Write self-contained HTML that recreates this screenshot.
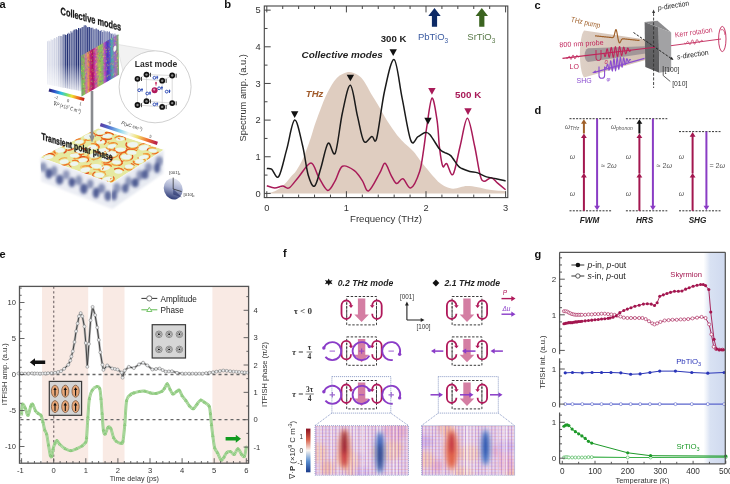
<!DOCTYPE html>
<html><head><meta charset="utf-8"><title>Figure</title>
<style>
html,body{margin:0;padding:0;background:#fff;}
body{width:730px;height:484px;overflow:hidden;}
svg{display:block;}
</style></head>
<body>
<svg width="730" height="484" viewBox="0 0 730 484" style="font-family:'Liberation Sans', Arial, Helvetica, sans-serif">
<rect width="730" height="484" fill="#fff"/>
<path d="M266.8,193.4 C268.13,193.03 272.11,192.42 274.76,191.2 C277.41,189.98 280.07,188.45 282.72,186.07 C285.37,183.69 288.42,179.47 290.68,176.91 C292.94,174.34 294.13,173.91 296.25,170.68 C298.37,167.44 301.03,162.86 303.42,157.48 C305.8,152.11 308.72,143.74 310.58,138.43 C312.44,133.11 312.97,130.3 314.56,125.6 C316.15,120.89 318.01,115.64 320.13,110.2 C322.25,104.77 324.51,98.35 327.3,92.98 C330.08,87.6 333.4,81.43 336.85,77.95 C340.3,74.47 344.81,72.76 347.99,72.09 C351.18,71.42 353.7,72.94 355.95,73.92 C358.21,74.9 359.8,76.12 361.52,77.95 C363.25,79.79 364.44,81.86 366.3,84.92 C368.16,87.97 370.41,92.43 372.67,96.28 C374.92,100.13 377.58,104.16 379.83,108.01 C382.09,111.85 383.94,115.7 386.2,119.37 C388.46,123.03 391.24,127 393.36,130 C395.49,132.99 397.08,135.13 398.94,137.33 C400.79,139.52 402.12,140.87 404.51,143.19 C406.9,145.51 410.74,148.5 413.26,151.25 C415.78,154 417.51,156.93 419.63,159.68 C421.75,162.43 423.74,165 426,167.75 C428.26,170.49 430.91,173.67 433.16,176.17 C435.42,178.68 437.41,181 439.53,182.77 C441.65,184.54 443.64,185.83 445.9,186.8 C448.16,187.78 450.68,188.57 453.06,188.64 C455.45,188.7 457.84,187.6 460.23,187.17 C462.62,186.74 464.47,186.07 467.39,186.07 C470.31,186.07 474.03,186.56 477.74,187.17 C481.45,187.78 485.04,189.06 489.68,189.74 C494.32,190.41 502.95,190.96 505.6,191.2 L505.6,193.4 L266.8,193.4 Z" fill="#dfcdc0"/>
<path d="M266.8,185.7 C268.13,186.07 272.11,187.84 274.76,187.9 C277.41,187.96 280.33,186.07 282.72,186.07 C285.11,186.07 286.43,189.43 289.09,187.9 C291.74,186.38 294.99,181.06 298.64,176.91 C302.29,172.75 307.66,162.98 310.98,162.98 C314.29,162.98 315.75,172.33 318.54,176.91 C321.33,181.49 324.91,189.86 327.69,190.47 C330.48,191.08 332.8,184.6 335.26,180.57 C337.71,176.54 339.24,167.93 342.42,166.28 C345.6,164.63 351.04,168.29 354.36,170.68 C357.68,173.06 359.93,177.21 362.32,180.57 C364.71,183.93 365.77,192.12 368.69,190.83 C371.61,189.55 377.11,177.46 379.83,172.88 C382.55,168.29 383.15,162.98 385.01,163.35 C386.86,163.71 389.05,171.72 390.98,175.08 C392.9,178.43 394.56,182.89 396.55,183.5 C398.54,184.12 400.53,178.01 402.92,178.74 C405.3,179.47 408.09,189.12 410.88,187.9 C413.66,186.68 417.51,177.76 419.63,171.41 C421.75,165.06 422.42,157.24 423.61,149.79 C424.81,142.33 425.4,135.31 426.8,126.7 C428.19,118.08 430.25,99.09 431.97,98.11 C433.69,97.13 435.88,112.53 437.14,120.83 C438.4,129.14 438.6,140.38 439.53,147.95 C440.46,155.53 441.52,163.65 442.72,166.28 C443.91,168.91 444.97,162.37 446.7,163.71 C448.42,165.06 450.81,177.34 453.06,174.34 C455.32,171.35 457.84,155.1 460.23,145.75 C462.62,136.41 465,118.27 467.39,118.27 C469.78,118.27 472.43,136.29 474.56,145.75 C476.68,155.22 478.54,169.15 480.13,175.08 C481.72,181 482.25,180.88 484.11,181.31 C485.97,181.73 489.02,177.34 491.27,177.64 C493.53,177.95 495.25,181.12 497.64,183.14 C500.03,185.15 504.27,188.64 505.6,189.74" fill="none" stroke="#a81a58" stroke-width="1.5" stroke-linejoin="round"/>
<path d="M266.8,168.48 C267.6,168.6 269.59,167.87 271.58,169.21 C273.57,170.55 276.22,179.84 278.74,176.54 C281.26,173.24 284.05,158.83 286.7,149.42 C289.35,140.01 292.01,120.71 294.66,120.1 C297.31,119.49 300.36,136.59 302.62,145.75 C304.88,154.92 306.2,168.36 308.19,175.08 C310.18,181.79 312.44,187.29 314.56,186.07 C316.68,184.85 318.67,174.89 320.93,167.75 C323.18,160.6 325.7,145.63 328.09,143.19 C330.48,140.75 332.87,158.15 335.26,153.09 C337.64,148.02 339.9,124.07 342.42,112.77 C344.94,101.47 347.86,84.67 350.38,85.28 C352.9,85.89 355.29,107.09 357.54,116.44 C359.8,125.78 361.52,138 363.91,141.36 C366.3,144.72 369.75,137.08 371.87,136.59 C373.99,136.1 374.53,146.06 376.65,138.43 C378.77,130.79 381.69,103.91 384.61,90.78 C387.53,77.65 391.24,58.41 394.16,59.63 C397.08,60.85 399.33,84.61 402.12,98.11 C404.91,111.61 408.22,134.21 410.88,140.62 C413.53,147.04 415.65,137.94 418.04,136.59 C420.43,135.25 423.21,132.87 425.2,132.56 C427.19,132.26 427.59,132.01 429.98,134.76 C432.37,137.51 437.14,146.12 439.53,149.05 C441.92,151.99 442.45,151.25 444.31,152.35 C446.17,153.45 448.42,153.45 450.68,155.65 C452.93,157.85 455.98,163.41 457.84,165.55 C459.7,167.68 459.83,167.5 461.82,168.48 C463.81,169.46 467.13,170.68 469.78,171.41 C472.43,172.14 474.95,171.96 477.74,172.88 C480.53,173.79 483.44,175.93 486.5,176.91 C489.55,177.88 492.86,178.07 496.05,178.74 C499.23,179.41 504.01,180.57 505.6,180.94" fill="none" stroke="#1a1a1a" stroke-width="1.5" stroke-linejoin="round"/>
<rect x="264.3" y="6" width="243.5" height="191.6" fill="none" stroke="#444" stroke-width="1.1"/>
<path d="M266.8,197.6v-6.4 M266.8,6v6.4 M282.72,197.6v-3 M282.72,6v3 M298.64,197.6v-3 M298.64,6v3 M314.56,197.6v-3 M314.56,6v3 M330.48,197.6v-3 M330.48,6v3 M346.4,197.6v-6.4 M346.4,6v6.4 M362.32,197.6v-3 M362.32,6v3 M378.24,197.6v-3 M378.24,6v3 M394.16,197.6v-3 M394.16,6v3 M410.08,197.6v-3 M410.08,6v3 M426,197.6v-6.4 M426,6v6.4 M441.92,197.6v-3 M441.92,6v3 M457.84,197.6v-3 M457.84,6v3 M473.76,197.6v-3 M473.76,6v3 M489.68,197.6v-3 M489.68,6v3 M505.6,197.6v-6.4 M505.6,6v6.4 M264.3,193.4h6.4 M264.3,175.08h3.2 M264.3,156.75h6.4 M264.3,138.43h3.2 M264.3,120.1h6.4 M264.3,101.78h3.2 M264.3,83.45h6.4 M264.3,65.12h3.2 M264.3,46.8h6.4 M264.3,28.48h3.2 M264.3,10.15h6.4" stroke="#444" stroke-width="1" fill="none"/>
<text x="266.8" y="211.2" font-size="9.3" fill="#333" text-anchor="middle"  style="font-family:'Liberation Sans', Arial, Helvetica, sans-serif">0</text>
<text x="346.4" y="211.2" font-size="9.3" fill="#333" text-anchor="middle"  style="font-family:'Liberation Sans', Arial, Helvetica, sans-serif">1</text>
<text x="426" y="211.2" font-size="9.3" fill="#333" text-anchor="middle"  style="font-family:'Liberation Sans', Arial, Helvetica, sans-serif">2</text>
<text x="505.6" y="211.2" font-size="9.3" fill="#333" text-anchor="middle"  style="font-family:'Liberation Sans', Arial, Helvetica, sans-serif">3</text>
<text x="260.6" y="196.7" font-size="9.3" fill="#333" text-anchor="end"  style="font-family:'Liberation Sans', Arial, Helvetica, sans-serif">0</text>
<text x="260.6" y="160.05" font-size="9.3" fill="#333" text-anchor="end"  style="font-family:'Liberation Sans', Arial, Helvetica, sans-serif">1</text>
<text x="260.6" y="123.4" font-size="9.3" fill="#333" text-anchor="end"  style="font-family:'Liberation Sans', Arial, Helvetica, sans-serif">2</text>
<text x="260.6" y="86.75" font-size="9.3" fill="#333" text-anchor="end"  style="font-family:'Liberation Sans', Arial, Helvetica, sans-serif">3</text>
<text x="260.6" y="50.1" font-size="9.3" fill="#333" text-anchor="end"  style="font-family:'Liberation Sans', Arial, Helvetica, sans-serif">4</text>
<text x="260.6" y="13.45" font-size="9.3" fill="#333" text-anchor="end"  style="font-family:'Liberation Sans', Arial, Helvetica, sans-serif">5</text>
<text x="386" y="222.3" font-size="9.6" fill="#333" text-anchor="middle"  style="font-family:'Liberation Sans', Arial, Helvetica, sans-serif">Frequency (THz)</text>
<g transform="translate(246.0,97.8) rotate(-90)"><text x="0" y="0" font-size="9.3" fill="#333" text-anchor="middle"  style="font-family:'Liberation Sans', Arial, Helvetica, sans-serif">Spectrum amp. (a.u.)</text></g>
<path d="M290.96,111.25 h7.4 l-3.7,6.7 z" fill="#111"/>
<path d="M346.68,74.65 h7.4 l-3.7,6.7 z" fill="#111"/>
<path d="M389.5,49.35 h7.4 l-3.7,6.7 z" fill="#111"/>
<path d="M424.3,117.85 h7.4 l-3.7,6.7 z" fill="#111"/>
<path d="M428.2,88 h7.4 l-3.7,6.7 z" fill="#a81a58"/>
<path d="M464.3,108.2 h7.4 l-3.7,6.7 z" fill="#a81a58"/>
<text x="393.6" y="42.3" font-size="9.6" fill="#222" text-anchor="middle" font-weight="bold"  style="font-family:'Liberation Sans', Arial, Helvetica, sans-serif">300 K</text>
<text x="342.2" y="57.6" font-size="9.9" fill="#222" text-anchor="middle" font-weight="bold" font-style="italic"  style="font-family:'Liberation Sans', Arial, Helvetica, sans-serif">Collective modes</text>
<text x="314.6" y="96.8" font-size="9.6" fill="#a05a2a" text-anchor="middle" font-weight="bold" font-style="italic"  style="font-family:'Liberation Sans', Arial, Helvetica, sans-serif">THz</text>
<text x="468.2" y="97.5" font-size="9.8" fill="#a81a58" text-anchor="middle" font-weight="bold"  style="font-family:'Liberation Sans', Arial, Helvetica, sans-serif">500 K</text>
<text x="418" y="40.4" font-size="9.5" fill="#3a5aa0"  style="font-family:'Liberation Sans', Arial, Helvetica, sans-serif">PbTiO<tspan font-size="6.5" dy="2.2">3</tspan></text>
<text x="467.3" y="40.4" font-size="9.5" fill="#5a7a4a"  style="font-family:'Liberation Sans', Arial, Helvetica, sans-serif">SrTiO<tspan font-size="6.5" dy="2.2">3</tspan></text>
<path d="M434.5,8 l6.2,8 h-3.6 V26.8 h-5.2 V16 h-3.6 z" fill="#0d2a66"/>
<path d="M481.8,8 l6.2,8 h-3.6 V26.8 h-5.2 V16 h-3.6 z" fill="#3b6420"/>
<text x="224.2" y="8.3" font-size="11.2" fill="#111" font-weight="bold"  style="font-family:'Liberation Sans', Arial, Helvetica, sans-serif">b</text>
<text x="-0.5" y="8.4" font-size="11" fill="#111" font-weight="bold"  style="font-family:'Liberation Sans', Arial, Helvetica, sans-serif">a</text>
<path d="M118.4,44.5 L154.5,50.8 L125,79.5 L118.4,52 Z" fill="#f2f2f2"/>
<path d="M118.4,44.5 L154.5,50.8 M118.4,52 L125,79.5" stroke="#d0d0d0" stroke-width="0.5"/>
<circle cx="155.1" cy="86.8" r="36" fill="#fff" stroke="#c4c4c4" stroke-width="0.8"/>
<text x="156" y="66.8" font-size="8.5" fill="#2a2a2a" text-anchor="middle" font-weight="bold"  style="font-family:'Liberation Sans', Arial, Helvetica, sans-serif">Last mode</text>
<path d="M137.5,105 V78.8 M146.5,74.6 V101.2 M162.2,80.7 V106.9 M172.2,75.5 V103.1 M137.5,78.8 L162.2,80.7 M146.5,74.6 L172.2,75.5 M137.5,105 L162.2,106.9 M146.5,101.2 L172.2,103.1 M137.5,78.8 L146.5,74.6 M162.2,80.7 L172.2,75.5 M137.5,105 L146.5,101.2 M162.2,106.9 L172.2,103.1" stroke="#c4c4c4" stroke-width="0.6" fill="none"/>
<circle cx="137.5" cy="78.8" r="2.9" fill="#111"/><circle cx="137.5" cy="78.8" r="1.2" fill="#8a8a8a"/>
<path d="M141.5,77v4" stroke="#333" stroke-width="0.9"/>
<circle cx="146.5" cy="74.6" r="2.9" fill="#111"/><circle cx="146.5" cy="74.6" r="1.2" fill="#8a8a8a"/>
<path d="M150.5,72.8v4" stroke="#333" stroke-width="0.9"/>
<circle cx="162.2" cy="80.7" r="2.9" fill="#111"/><circle cx="162.2" cy="80.7" r="1.2" fill="#8a8a8a"/>
<path d="M166.2,78.9v4" stroke="#333" stroke-width="0.9"/>
<circle cx="172.2" cy="75.5" r="2.9" fill="#111"/><circle cx="172.2" cy="75.5" r="1.2" fill="#8a8a8a"/>
<path d="M176.2,73.7v4" stroke="#333" stroke-width="0.9"/>
<circle cx="137.5" cy="105" r="2.9" fill="#111"/><circle cx="137.5" cy="105" r="1.2" fill="#8a8a8a"/>
<path d="M141.5,103.2v4" stroke="#333" stroke-width="0.9"/>
<circle cx="146.5" cy="101.2" r="2.9" fill="#111"/><circle cx="146.5" cy="101.2" r="1.2" fill="#8a8a8a"/>
<path d="M150.5,99.4v4" stroke="#333" stroke-width="0.9"/>
<circle cx="162.2" cy="106.9" r="2.9" fill="#111"/><circle cx="162.2" cy="106.9" r="1.2" fill="#8a8a8a"/>
<path d="M166.2,105.1v4" stroke="#333" stroke-width="0.9"/>
<circle cx="172.2" cy="103.1" r="2.9" fill="#111"/><circle cx="172.2" cy="103.1" r="1.2" fill="#8a8a8a"/>
<path d="M176.2,101.3v4" stroke="#333" stroke-width="0.9"/>
<circle cx="154.4" cy="77.8" r="1.4" fill="none" stroke="#2040b0" stroke-width="0.9"/><path d="M157.2,79.2v-3.4M156.2,77.2h2" stroke="#2040b0" stroke-width="0.9"/>
<circle cx="139.2" cy="90.2" r="1.4" fill="none" stroke="#2040b0" stroke-width="0.9"/><path d="M142,91.6v-3.4M141,89.6h2" stroke="#2040b0" stroke-width="0.9"/>
<circle cx="147.2" cy="93.5" r="1.4" fill="none" stroke="#2040b0" stroke-width="0.9"/><path d="M150,94.9v-3.4M149,92.9h2" stroke="#2040b0" stroke-width="0.9"/>
<circle cx="159.1" cy="88.3" r="1.4" fill="none" stroke="#2040b0" stroke-width="0.9"/><path d="M161.9,89.7v-3.4M160.9,87.7h2" stroke="#2040b0" stroke-width="0.9"/>
<circle cx="166.7" cy="91.6" r="1.4" fill="none" stroke="#2040b0" stroke-width="0.9"/><path d="M169.5,93v-3.4M168.5,91h2" stroke="#2040b0" stroke-width="0.9"/>
<circle cx="154.4" cy="104.4" r="1.4" fill="none" stroke="#2040b0" stroke-width="0.9"/><path d="M157.2,105.8v-3.4M156.2,103.8h2" stroke="#2040b0" stroke-width="0.9"/>
<circle cx="154.6" cy="90.2" r="3.0" fill="#b0185a"/><circle cx="154.2" cy="89.6" r="1.1" fill="#e0a0c0"/>
<path d="M156.0,85.6 v-3.2" stroke="#c01850" stroke-width="0.9"/><path d="M156.0,81.4 l-1.2,2 h2.4z" fill="#c01850"/>
<defs><filter id="fzs" x="-30%" y="-30%" width="160%" height="160%"><feGaussianBlur stdDeviation="0.35"/></filter><linearGradient id="afm" gradientUnits="userSpaceOnUse" x1="0" y1="20" x2="0" y2="92"><stop offset="0" stop-color="#fff"/><stop offset="0.62" stop-color="#fff"/><stop offset="1" stop-color="#fff" stop-opacity="0.15"/></linearGradient><mask id="afmask" maskUnits="userSpaceOnUse" x="40" y="15" width="90" height="90"><rect x="40" y="15" width="90" height="90" fill="url(#afm)"/></mask></defs>
<g mask="url(#afmask)"><g filter="url(#fzs)"><path d="M47.8,41.35V84.56" stroke="#d0d4e4" stroke-width="1.15"/><path d="M48.9,40.47V84.78" stroke="#e3e5ef" stroke-width="1.15"/><path d="M50,41.21V85" stroke="#d0d4e4" stroke-width="1.15"/><path d="M51.1,39.36V85.22" stroke="#e3e5ef" stroke-width="1.15"/><path d="M52.2,40.01V85.44" stroke="#d0d4e4" stroke-width="1.15"/><path d="M53.3,39.14V85.66" stroke="#e3e5ef" stroke-width="1.15"/><path d="M54.4,37.94V85.88" stroke="#d0d4e4" stroke-width="1.15"/><path d="M55.5,38.56V86.1" stroke="#e3e5ef" stroke-width="1.15"/><path d="M56.6,36.97V86.32" stroke="#d0d4e4" stroke-width="1.15"/><path d="M57.7,37.46V86.54" stroke="#dcdeea" stroke-width="1.15"/><path d="M58.8,36.12V86.76" stroke="#acb2cd" stroke-width="1.15"/><path d="M59.9,35.71V86.98" stroke="#c6cadc" stroke-width="1.15"/><path d="M61,36.05V87.2" stroke="#8089b1" stroke-width="1.15"/><path d="M62.1,36.55V87.42" stroke="#b0b5ce" stroke-width="1.15"/><path d="M63.2,34.4V87.64" stroke="#556095" stroke-width="1.15"/><path d="M64.3,34.18V87.86" stroke="#9aa1c0" stroke-width="1.15"/><path d="M65.4,34.69V88.08" stroke="#293779" stroke-width="1.15"/><path d="M66.5,34.99V88.3" stroke="#8a91b6" stroke-width="1.15"/><path d="M67.6,33.64V88.52" stroke="#1e2c72" stroke-width="1.15"/><path d="M68.7,32.75V88.74" stroke="#8a91b6" stroke-width="1.15"/><path d="M69.8,33.68V88.96" stroke="#1e2c72" stroke-width="1.15"/><path d="M70.9,30.98V89.18" stroke="#8a91b6" stroke-width="1.15"/><path d="M72,32.47V89.4" stroke="#1e2c72" stroke-width="1.15"/><path d="M73.1,30.64V89.62" stroke="#8a91b6" stroke-width="1.15"/><path d="M74.2,29.83V89.84" stroke="#1e2c72" stroke-width="1.15"/><path d="M75.3,29.31V90.06" stroke="#8a91b6" stroke-width="1.15"/><path d="M76.4,29.3V90.28" stroke="#1e2c72" stroke-width="1.15"/><path d="M77.5,30.06V90.5" stroke="#8a91b6" stroke-width="1.15"/><path d="M78.6,28.07V90.72" stroke="#1e2c72" stroke-width="1.15"/><path d="M79.7,28.57V90.94" stroke="#8a91b6" stroke-width="1.15"/><path d="M80.8,28.25V91.16" stroke="#1e2c72" stroke-width="1.15"/><path d="M81.9,27.15V56.37" stroke="#757eac" stroke-width="1.15"/><path d="M83,27.1V55.73" stroke="#24327a" stroke-width="1.15"/><path d="M84.1,25.48V55.1" stroke="#757eac" stroke-width="1.15"/><path d="M85.2,25.2V54.46" stroke="#27357c" stroke-width="1.15"/><path d="M86.3,25.83V53.83" stroke="#7981ae" stroke-width="1.15"/><path d="M87.4,27.26V53.19" stroke="#2d3a80" stroke-width="1.15"/><path d="M88.5,26.94V52.56" stroke="#7c85b1" stroke-width="1.15"/><path d="M89.6,26.95V51.92" stroke="#334084" stroke-width="1.15"/><path d="M90.7,27.89V51.29" stroke="#8088b3" stroke-width="1.15"/><path d="M91.8,27.86V50.65" stroke="#394588" stroke-width="1.15"/><path d="M92.9,27.77V50.02" stroke="#848cb6" stroke-width="1.15"/><path d="M94,29.25V49.38" stroke="#3f4b8c" stroke-width="1.15"/><path d="M95.1,29.3V48.75" stroke="#878fb8" stroke-width="1.15"/><path d="M96.2,28.5V48.11" stroke="#455090" stroke-width="1.15"/><path d="M97.3,29.58V47.48" stroke="#8a92ba" stroke-width="1.15"/><path d="M98.4,29.74V46.84" stroke="#4a5694" stroke-width="1.15"/><path d="M99.5,30.87V46.21" stroke="#8e96bd" stroke-width="1.15"/><path d="M100.6,30.81V45.57" stroke="#505b98" stroke-width="1.15"/><path d="M101.7,30.03V44.94" stroke="#9199bf" stroke-width="1.15"/><path d="M102.8,31.98V44.3" stroke="#56619c" stroke-width="1.15"/><path d="M103.9,30.2V43.67" stroke="#959cc2" stroke-width="1.15"/><path d="M105,31.2V43.03" stroke="#5c67a0" stroke-width="1.15"/><path d="M106.1,32.3V42.4" stroke="#999fc4" stroke-width="1.15"/><path d="M107.2,31.14V41.76" stroke="#626ca4" stroke-width="1.15"/><path d="M108.3,32.23V41.13" stroke="#9ca3c6" stroke-width="1.15"/><path d="M109.4,31.44V40.49" stroke="#6872a8" stroke-width="1.15"/><path d="M110.5,33.23V39.86" stroke="#a0a7c9" stroke-width="1.15"/><path d="M111.6,33.75V39.22" stroke="#6e77ac" stroke-width="1.15"/><path d="M112.7,33.58V38.59" stroke="#a3aacb" stroke-width="1.15"/><path d="M113.8,34.59V37.95" stroke="#747db0" stroke-width="1.15"/><path d="M114.9,33.53V37.32" stroke="#a7adce" stroke-width="1.15"/><path d="M116,34.73V36.69" stroke="#7a82b4" stroke-width="1.15"/><path d="M117.1,34.77V36.05" stroke="#abb0d0" stroke-width="1.15"/><path d="M118.2,35.02V35.42" stroke="#8088b8" stroke-width="1.15"/></g></g>
<defs><linearGradient id="cfg" x1="0" x2="1" y1="0" y2="0"><stop offset="0" stop-color="#6ab060"/><stop offset="0.08" stop-color="#8cbc58"/><stop offset="0.13" stop-color="#d070a8"/><stop offset="0.19" stop-color="#e2a050"/><stop offset="0.25" stop-color="#c82a70"/><stop offset="0.31" stop-color="#a81060"/><stop offset="0.38" stop-color="#d050b0"/><stop offset="0.47" stop-color="#a8c450"/><stop offset="0.56" stop-color="#88c060"/><stop offset="0.62" stop-color="#c454c0"/><stop offset="0.7" stop-color="#4438c0"/><stop offset="0.76" stop-color="#5a54c8"/><stop offset="0.82" stop-color="#48b0a8"/><stop offset="0.9" stop-color="#a860c8"/><stop offset="1" stop-color="#78b868"/></linearGradient></defs>
<g transform="matrix(37.6,-21.7,0.7,40.5,80.8,56)">
<rect x="0" y="0" width="1" height="1" fill="url(#cfg)"/>
<rect x="0.44" y="0.8" width="0.025" height="0.03" fill="#f0f040" opacity="0.4"/><rect x="0.46" y="0.63" width="0.025" height="0.03" fill="#d040c0" opacity="0.4"/><rect x="0.7" y="0.29" width="0.025" height="0.03" fill="#6060e0" opacity="0.4"/><rect x="0.95" y="0.78" width="0.025" height="0.03" fill="#f0f040" opacity="0.4"/><rect x="0.69" y="0.84" width="0.025" height="0.03" fill="#f0f040" opacity="0.4"/><rect x="0.02" y="0.44" width="0.025" height="0.03" fill="#60c060" opacity="0.4"/><rect x="0.59" y="0.47" width="0.025" height="0.03" fill="#60c060" opacity="0.4"/><rect x="0.74" y="0.12" width="0.025" height="0.03" fill="#60c060" opacity="0.4"/><rect x="0.38" y="0.87" width="0.025" height="0.03" fill="#c02070" opacity="0.4"/><rect x="0.08" y="0.43" width="0.025" height="0.03" fill="#6060e0" opacity="0.4"/><rect x="0.27" y="0.13" width="0.025" height="0.03" fill="#c02070" opacity="0.4"/><rect x="0.83" y="0.26" width="0.025" height="0.03" fill="#c02070" opacity="0.4"/><rect x="0.95" y="0.65" width="0.025" height="0.03" fill="#c02070" opacity="0.4"/><rect x="0.92" y="0.14" width="0.025" height="0.03" fill="#60c060" opacity="0.4"/><rect x="0.15" y="0.63" width="0.025" height="0.03" fill="#d040c0" opacity="0.4"/><rect x="0.47" y="0.56" width="0.025" height="0.03" fill="#f0f040" opacity="0.4"/><rect x="0.27" y="0.14" width="0.025" height="0.03" fill="#6060e0" opacity="0.4"/><rect x="0.35" y="0.54" width="0.025" height="0.03" fill="#60c060" opacity="0.4"/><rect x="0.66" y="0.49" width="0.025" height="0.03" fill="#6060e0" opacity="0.4"/><rect x="0.63" y="0.7" width="0.025" height="0.03" fill="#c02070" opacity="0.4"/><rect x="0.86" y="0.74" width="0.025" height="0.03" fill="#6060e0" opacity="0.4"/><rect x="0.38" y="0.38" width="0.025" height="0.03" fill="#d040c0" opacity="0.4"/><rect x="0.46" y="0.38" width="0.025" height="0.03" fill="#60c060" opacity="0.4"/><rect x="0.06" y="0.2" width="0.025" height="0.03" fill="#60c060" opacity="0.4"/><rect x="0.11" y="0.57" width="0.025" height="0.03" fill="#d040c0" opacity="0.4"/><rect x="0" y="0.14" width="0.025" height="0.03" fill="#d040c0" opacity="0.4"/><rect x="0.91" y="0.58" width="0.025" height="0.03" fill="#d040c0" opacity="0.4"/><rect x="0.84" y="0.58" width="0.025" height="0.03" fill="#60c060" opacity="0.4"/><rect x="0.61" y="0.91" width="0.025" height="0.03" fill="#6060e0" opacity="0.4"/><rect x="0.35" y="0.12" width="0.025" height="0.03" fill="#c02070" opacity="0.4"/><rect x="0.95" y="0.44" width="0.025" height="0.03" fill="#c02070" opacity="0.4"/><rect x="0.3" y="0.14" width="0.025" height="0.03" fill="#f0f040" opacity="0.4"/><rect x="0.71" y="0.45" width="0.025" height="0.03" fill="#60c060" opacity="0.4"/><rect x="0.5" y="0.19" width="0.025" height="0.03" fill="#6060e0" opacity="0.4"/><rect x="0.35" y="0.66" width="0.025" height="0.03" fill="#d040c0" opacity="0.4"/><rect x="0.73" y="0.28" width="0.025" height="0.03" fill="#d040c0" opacity="0.4"/><rect x="0.67" y="0.25" width="0.025" height="0.03" fill="#f0f040" opacity="0.4"/><rect x="0.87" y="0.34" width="0.025" height="0.03" fill="#60c060" opacity="0.4"/><rect x="0.51" y="0.74" width="0.025" height="0.03" fill="#f0f040" opacity="0.4"/><rect x="0.61" y="0.58" width="0.025" height="0.03" fill="#60c060" opacity="0.4"/><rect x="0.77" y="0.78" width="0.025" height="0.03" fill="#60c060" opacity="0.4"/><rect x="0.19" y="0.47" width="0.025" height="0.03" fill="#d040c0" opacity="0.4"/><rect x="0.95" y="0.75" width="0.025" height="0.03" fill="#c02070" opacity="0.4"/><rect x="0.25" y="0.66" width="0.025" height="0.03" fill="#f0f040" opacity="0.4"/><rect x="0.43" y="0.89" width="0.025" height="0.03" fill="#f0f040" opacity="0.4"/><rect x="0.92" y="0.35" width="0.025" height="0.03" fill="#60c060" opacity="0.4"/><rect x="0.1" y="0.45" width="0.025" height="0.03" fill="#f0f040" opacity="0.4"/><rect x="0.2" y="0.59" width="0.025" height="0.03" fill="#6060e0" opacity="0.4"/><rect x="0.81" y="0.46" width="0.025" height="0.03" fill="#f0f040" opacity="0.4"/><rect x="0.77" y="0.08" width="0.025" height="0.03" fill="#d040c0" opacity="0.4"/><rect x="0.87" y="0.74" width="0.025" height="0.03" fill="#60c060" opacity="0.4"/><rect x="0.46" y="0.17" width="0.025" height="0.03" fill="#f0f040" opacity="0.4"/><rect x="0.08" y="0.9" width="0.025" height="0.03" fill="#c02070" opacity="0.4"/><rect x="0.44" y="0.71" width="0.025" height="0.03" fill="#d040c0" opacity="0.4"/><rect x="0.7" y="0.16" width="0.025" height="0.03" fill="#60c060" opacity="0.4"/><rect x="0.03" y="0.56" width="0.025" height="0.03" fill="#c02070" opacity="0.4"/><rect x="0.77" y="0.14" width="0.025" height="0.03" fill="#6060e0" opacity="0.4"/><rect x="0.94" y="0.62" width="0.025" height="0.03" fill="#f0f040" opacity="0.4"/><rect x="0.15" y="0.52" width="0.025" height="0.03" fill="#d040c0" opacity="0.4"/><rect x="0.01" y="0.92" width="0.025" height="0.03" fill="#d040c0" opacity="0.4"/><rect x="0.51" y="0.89" width="0.025" height="0.03" fill="#c02070" opacity="0.4"/><rect x="0.95" y="0.19" width="0.025" height="0.03" fill="#60c060" opacity="0.4"/><rect x="0.03" y="0.2" width="0.025" height="0.03" fill="#6060e0" opacity="0.4"/><rect x="0.23" y="0.56" width="0.025" height="0.03" fill="#f0f040" opacity="0.4"/><rect x="0.52" y="0.79" width="0.025" height="0.03" fill="#d040c0" opacity="0.4"/><rect x="0.87" y="0.34" width="0.025" height="0.03" fill="#c02070" opacity="0.4"/><rect x="0.64" y="0.77" width="0.025" height="0.03" fill="#6060e0" opacity="0.4"/><rect x="0.4" y="0.87" width="0.025" height="0.03" fill="#6060e0" opacity="0.4"/><rect x="0.13" y="0.14" width="0.025" height="0.03" fill="#6060e0" opacity="0.4"/><rect x="0.02" y="0.42" width="0.025" height="0.03" fill="#60c060" opacity="0.4"/><rect x="0.58" y="0.74" width="0.025" height="0.03" fill="#60c060" opacity="0.4"/><rect x="0.17" y="0.45" width="0.025" height="0.03" fill="#d040c0" opacity="0.4"/><rect x="0.53" y="0.31" width="0.025" height="0.03" fill="#6060e0" opacity="0.4"/><rect x="0.51" y="0.46" width="0.025" height="0.03" fill="#d040c0" opacity="0.4"/><rect x="0.85" y="0.05" width="0.025" height="0.03" fill="#60c060" opacity="0.4"/><rect x="0.27" y="0.73" width="0.025" height="0.03" fill="#6060e0" opacity="0.4"/><rect x="0.43" y="0.03" width="0.025" height="0.03" fill="#d040c0" opacity="0.4"/><rect x="0.43" y="0.58" width="0.025" height="0.03" fill="#6060e0" opacity="0.4"/><rect x="0.58" y="0.19" width="0.025" height="0.03" fill="#f0f040" opacity="0.4"/><rect x="0.43" y="0.51" width="0.025" height="0.03" fill="#c02070" opacity="0.4"/><rect x="0.49" y="0.24" width="0.025" height="0.03" fill="#6060e0" opacity="0.4"/><rect x="0.84" y="0.9" width="0.025" height="0.03" fill="#f0f040" opacity="0.4"/><rect x="0.89" y="0.85" width="0.025" height="0.03" fill="#60c060" opacity="0.4"/><rect x="0.81" y="0.13" width="0.025" height="0.03" fill="#d040c0" opacity="0.4"/><rect x="0.38" y="0.3" width="0.025" height="0.03" fill="#60c060" opacity="0.4"/><rect x="0.41" y="0.2" width="0.025" height="0.03" fill="#f0f040" opacity="0.4"/><rect x="0.75" y="0.85" width="0.025" height="0.03" fill="#60c060" opacity="0.4"/><rect x="0.9" y="0.61" width="0.025" height="0.03" fill="#f0f040" opacity="0.4"/><rect x="0.14" y="0.84" width="0.025" height="0.03" fill="#c02070" opacity="0.4"/><rect x="0.21" y="0.9" width="0.025" height="0.03" fill="#c02070" opacity="0.4"/><rect x="0.85" y="0.15" width="0.025" height="0.03" fill="#60c060" opacity="0.4"/><rect x="0.16" y="0.41" width="0.025" height="0.03" fill="#6060e0" opacity="0.4"/><rect x="0.39" y="0.4" width="0.025" height="0.03" fill="#f0f040" opacity="0.4"/><rect x="0.31" y="0.69" width="0.025" height="0.03" fill="#d040c0" opacity="0.4"/><rect x="0.32" y="0.44" width="0.025" height="0.03" fill="#d040c0" opacity="0.4"/><rect x="0.37" y="0.49" width="0.025" height="0.03" fill="#f0f040" opacity="0.4"/><rect x="0.49" y="0.06" width="0.025" height="0.03" fill="#60c060" opacity="0.4"/><rect x="0.93" y="0.1" width="0.025" height="0.03" fill="#f0f040" opacity="0.4"/><rect x="0.26" y="0.86" width="0.025" height="0.03" fill="#60c060" opacity="0.4"/><rect x="0.26" y="0.12" width="0.025" height="0.03" fill="#c02070" opacity="0.4"/><rect x="0.82" y="0.64" width="0.025" height="0.03" fill="#f0f040" opacity="0.4"/><rect x="0.39" y="0.51" width="0.025" height="0.03" fill="#6060e0" opacity="0.4"/><rect x="0.55" y="0.67" width="0.025" height="0.03" fill="#d040c0" opacity="0.4"/><rect x="0.27" y="0.76" width="0.025" height="0.03" fill="#60c060" opacity="0.4"/><rect x="0.41" y="0.07" width="0.025" height="0.03" fill="#d040c0" opacity="0.4"/><rect x="0.61" y="0.76" width="0.025" height="0.03" fill="#d040c0" opacity="0.4"/><rect x="0.58" y="0.21" width="0.025" height="0.03" fill="#f0f040" opacity="0.4"/><rect x="0.83" y="0.43" width="0.025" height="0.03" fill="#f0f040" opacity="0.4"/><rect x="0.95" y="0.4" width="0.025" height="0.03" fill="#f0f040" opacity="0.4"/><rect x="0.6" y="0.04" width="0.025" height="0.03" fill="#60c060" opacity="0.4"/><rect x="0.9" y="0.92" width="0.025" height="0.03" fill="#f0f040" opacity="0.4"/><rect x="0.05" y="0.19" width="0.025" height="0.03" fill="#f0f040" opacity="0.4"/><rect x="0.6" y="0.5" width="0.025" height="0.03" fill="#60c060" opacity="0.4"/><rect x="0.28" y="0.48" width="0.025" height="0.03" fill="#60c060" opacity="0.4"/><rect x="0.26" y="0.76" width="0.025" height="0.03" fill="#f0f040" opacity="0.4"/><rect x="0.04" y="0.02" width="0.025" height="0.03" fill="#6060e0" opacity="0.4"/><rect x="0.53" y="0.18" width="0.025" height="0.03" fill="#c02070" opacity="0.4"/><rect x="0.24" y="0.42" width="0.025" height="0.03" fill="#c02070" opacity="0.4"/><rect x="0.63" y="0.52" width="0.025" height="0.03" fill="#c02070" opacity="0.4"/><rect x="0.93" y="0.29" width="0.025" height="0.03" fill="#60c060" opacity="0.4"/><rect x="0.94" y="0.33" width="0.025" height="0.03" fill="#60c060" opacity="0.4"/><rect x="0.39" y="0.33" width="0.025" height="0.03" fill="#d040c0" opacity="0.4"/><rect x="0.8" y="0.01" width="0.025" height="0.03" fill="#f0f040" opacity="0.4"/><rect x="0.41" y="0.05" width="0.025" height="0.03" fill="#c02070" opacity="0.4"/><rect x="0.84" y="0.64" width="0.025" height="0.03" fill="#f0f040" opacity="0.4"/><rect x="0.57" y="0.66" width="0.025" height="0.03" fill="#d040c0" opacity="0.4"/><rect x="0.44" y="0.15" width="0.025" height="0.03" fill="#c02070" opacity="0.4"/><rect x="0" y="0.35" width="0.025" height="0.03" fill="#f0f040" opacity="0.4"/><rect x="0.93" y="0.52" width="0.025" height="0.03" fill="#60c060" opacity="0.4"/><rect x="0.03" y="0.84" width="0.025" height="0.03" fill="#60c060" opacity="0.4"/><rect x="0.34" y="0" width="0.025" height="0.03" fill="#c02070" opacity="0.4"/><rect x="0.08" y="0.26" width="0.025" height="0.03" fill="#60c060" opacity="0.4"/><rect x="0.24" y="0.74" width="0.025" height="0.03" fill="#d040c0" opacity="0.4"/><rect x="0.25" y="0.09" width="0.025" height="0.03" fill="#c02070" opacity="0.4"/><rect x="0.56" y="0.37" width="0.025" height="0.03" fill="#f0f040" opacity="0.4"/><rect x="0.29" y="0.22" width="0.025" height="0.03" fill="#6060e0" opacity="0.4"/><rect x="0.92" y="0.81" width="0.025" height="0.03" fill="#60c060" opacity="0.4"/><rect x="0.63" y="0.68" width="0.025" height="0.03" fill="#6060e0" opacity="0.4"/><rect x="0.37" y="0.31" width="0.025" height="0.03" fill="#c02070" opacity="0.4"/><rect x="0.14" y="0.69" width="0.025" height="0.03" fill="#60c060" opacity="0.4"/><rect x="0.04" y="0.79" width="0.025" height="0.03" fill="#6060e0" opacity="0.4"/><rect x="0.6" y="0.7" width="0.025" height="0.03" fill="#6060e0" opacity="0.4"/><rect x="0.13" y="0.5" width="0.025" height="0.03" fill="#6060e0" opacity="0.4"/><rect x="0.55" y="0.77" width="0.025" height="0.03" fill="#d040c0" opacity="0.4"/><rect x="0.79" y="0.55" width="0.025" height="0.03" fill="#60c060" opacity="0.4"/><rect x="0.08" y="0.04" width="0.025" height="0.03" fill="#f0f040" opacity="0.4"/><rect x="0.92" y="0.36" width="0.025" height="0.03" fill="#c02070" opacity="0.4"/><rect x="0.54" y="0.6" width="0.025" height="0.03" fill="#6060e0" opacity="0.4"/><rect x="0.65" y="0.46" width="0.025" height="0.03" fill="#d040c0" opacity="0.4"/><rect x="0.44" y="0.07" width="0.025" height="0.03" fill="#6060e0" opacity="0.4"/><rect x="0.86" y="0.09" width="0.025" height="0.03" fill="#6060e0" opacity="0.4"/><rect x="0.06" y="0.7" width="0.025" height="0.03" fill="#f0f040" opacity="0.4"/><rect x="0.78" y="0.8" width="0.025" height="0.03" fill="#60c060" opacity="0.4"/><rect x="0.7" y="0.19" width="0.025" height="0.03" fill="#c02070" opacity="0.4"/><rect x="0.47" y="0.36" width="0.025" height="0.03" fill="#c02070" opacity="0.4"/><rect x="0.87" y="0.27" width="0.025" height="0.03" fill="#d040c0" opacity="0.4"/><rect x="0.59" y="0.61" width="0.025" height="0.03" fill="#d040c0" opacity="0.4"/><rect x="0.58" y="0.32" width="0.025" height="0.03" fill="#f0f040" opacity="0.4"/><rect x="0.6" y="0.13" width="0.025" height="0.03" fill="#c02070" opacity="0.4"/><rect x="0.06" y="0.26" width="0.025" height="0.03" fill="#d040c0" opacity="0.4"/><rect x="0.66" y="0.64" width="0.025" height="0.03" fill="#f0f040" opacity="0.4"/><rect x="0.68" y="0.27" width="0.025" height="0.03" fill="#c02070" opacity="0.4"/><rect x="0.45" y="0.11" width="0.025" height="0.03" fill="#6060e0" opacity="0.4"/><rect x="0.19" y="0.93" width="0.025" height="0.03" fill="#c02070" opacity="0.4"/><rect x="0.02" y="0.44" width="0.025" height="0.03" fill="#6060e0" opacity="0.4"/><rect x="0.93" y="0.43" width="0.025" height="0.03" fill="#f0f040" opacity="0.4"/><rect x="0.37" y="0.87" width="0.025" height="0.03" fill="#60c060" opacity="0.4"/><rect x="0.07" y="0.09" width="0.025" height="0.03" fill="#6060e0" opacity="0.4"/><rect x="0.25" y="0.34" width="0.025" height="0.03" fill="#6060e0" opacity="0.4"/><rect x="0.79" y="0.48" width="0.025" height="0.03" fill="#d040c0" opacity="0.4"/><rect x="0.68" y="0.22" width="0.025" height="0.03" fill="#c02070" opacity="0.4"/><rect x="0.38" y="0.15" width="0.025" height="0.03" fill="#c02070" opacity="0.4"/><rect x="0.65" y="0.39" width="0.025" height="0.03" fill="#60c060" opacity="0.4"/><rect x="0.4" y="0.36" width="0.025" height="0.03" fill="#d040c0" opacity="0.4"/><rect x="0.81" y="0" width="0.025" height="0.03" fill="#f0f040" opacity="0.4"/><rect x="0.81" y="0.11" width="0.025" height="0.03" fill="#60c060" opacity="0.4"/><rect x="0.68" y="0.86" width="0.025" height="0.03" fill="#f0f040" opacity="0.4"/><rect x="0.24" y="0.06" width="0.025" height="0.03" fill="#c02070" opacity="0.4"/><rect x="0.96" y="0.56" width="0.025" height="0.03" fill="#f0f040" opacity="0.4"/><rect x="0.89" y="0.72" width="0.025" height="0.03" fill="#d040c0" opacity="0.4"/><rect x="0.27" y="0.05" width="0.025" height="0.03" fill="#f0f040" opacity="0.4"/><rect x="0.61" y="0.14" width="0.025" height="0.03" fill="#f0f040" opacity="0.4"/><rect x="0.42" y="0.3" width="0.025" height="0.03" fill="#f0f040" opacity="0.4"/><rect x="0.75" y="0.41" width="0.025" height="0.03" fill="#d040c0" opacity="0.4"/><rect x="0.78" y="0.6" width="0.025" height="0.03" fill="#6060e0" opacity="0.4"/><rect x="0.53" y="0.68" width="0.025" height="0.03" fill="#d040c0" opacity="0.4"/><rect x="0.9" y="0.39" width="0.025" height="0.03" fill="#6060e0" opacity="0.4"/><rect x="0.72" y="0.61" width="0.025" height="0.03" fill="#f0f040" opacity="0.4"/><rect x="0.47" y="0.87" width="0.025" height="0.03" fill="#6060e0" opacity="0.4"/><rect x="0.12" y="0.45" width="0.025" height="0.03" fill="#f0f040" opacity="0.4"/><rect x="0.27" y="0.24" width="0.025" height="0.03" fill="#f0f040" opacity="0.4"/><rect x="0.39" y="0.23" width="0.025" height="0.03" fill="#c02070" opacity="0.4"/><rect x="0.54" y="0.37" width="0.025" height="0.03" fill="#60c060" opacity="0.4"/><rect x="0.62" y="0.07" width="0.025" height="0.03" fill="#6060e0" opacity="0.4"/><rect x="0.87" y="0.47" width="0.025" height="0.03" fill="#60c060" opacity="0.4"/><rect x="0.43" y="0.32" width="0.025" height="0.03" fill="#c02070" opacity="0.4"/><rect x="0.41" y="0.52" width="0.025" height="0.03" fill="#60c060" opacity="0.4"/><rect x="0.09" y="0.32" width="0.025" height="0.03" fill="#d040c0" opacity="0.4"/><rect x="0.31" y="0.35" width="0.025" height="0.03" fill="#6060e0" opacity="0.4"/><rect x="0.19" y="0.02" width="0.025" height="0.03" fill="#c02070" opacity="0.4"/><rect x="0.37" y="0.71" width="0.025" height="0.03" fill="#60c060" opacity="0.4"/><rect x="0.36" y="0.32" width="0.025" height="0.03" fill="#d040c0" opacity="0.4"/><rect x="0.48" y="0.55" width="0.025" height="0.03" fill="#f0f040" opacity="0.4"/><rect x="0.12" y="0.48" width="0.025" height="0.03" fill="#60c060" opacity="0.4"/><rect x="0.09" y="0.85" width="0.025" height="0.03" fill="#c02070" opacity="0.4"/><rect x="0.38" y="0.42" width="0.025" height="0.03" fill="#f0f040" opacity="0.4"/><rect x="0.81" y="0.83" width="0.025" height="0.03" fill="#d040c0" opacity="0.4"/><rect x="0.12" y="0.4" width="0.025" height="0.03" fill="#c02070" opacity="0.4"/><rect x="0.93" y="0.47" width="0.025" height="0.03" fill="#d040c0" opacity="0.4"/><rect x="0.38" y="0.88" width="0.025" height="0.03" fill="#6060e0" opacity="0.4"/><rect x="0.82" y="0.92" width="0.025" height="0.03" fill="#60c060" opacity="0.4"/><rect x="0.75" y="0.21" width="0.025" height="0.03" fill="#60c060" opacity="0.4"/><rect x="0.5" y="0.65" width="0.025" height="0.03" fill="#c02070" opacity="0.4"/><rect x="0.08" y="0.74" width="0.025" height="0.03" fill="#d040c0" opacity="0.4"/><rect x="0.75" y="0.22" width="0.025" height="0.03" fill="#d040c0" opacity="0.4"/><rect x="0.62" y="0.29" width="0.025" height="0.03" fill="#60c060" opacity="0.4"/><rect x="0.6" y="0.5" width="0.025" height="0.03" fill="#c02070" opacity="0.4"/><rect x="0.67" y="0.11" width="0.025" height="0.03" fill="#d040c0" opacity="0.4"/><rect x="0.29" y="0.9" width="0.025" height="0.03" fill="#60c060" opacity="0.4"/><rect x="0.37" y="0.21" width="0.025" height="0.03" fill="#6060e0" opacity="0.4"/><rect x="0" y="0.51" width="0.025" height="0.03" fill="#c02070" opacity="0.4"/><rect x="0.27" y="0.3" width="0.025" height="0.03" fill="#60c060" opacity="0.4"/><rect x="0.46" y="0.22" width="0.025" height="0.03" fill="#60c060" opacity="0.4"/><rect x="0.03" y="0.39" width="0.025" height="0.03" fill="#f0f040" opacity="0.4"/><rect x="0.05" y="0.18" width="0.025" height="0.03" fill="#c02070" opacity="0.4"/><rect x="0.08" y="0.22" width="0.025" height="0.03" fill="#c02070" opacity="0.4"/><rect x="0.89" y="0.22" width="0.025" height="0.03" fill="#d040c0" opacity="0.4"/><rect x="0.67" y="0.68" width="0.025" height="0.03" fill="#f0f040" opacity="0.4"/><rect x="0.66" y="0.19" width="0.025" height="0.03" fill="#f0f040" opacity="0.4"/><rect x="0.71" y="0.48" width="0.025" height="0.03" fill="#60c060" opacity="0.4"/><rect x="0.48" y="0.19" width="0.025" height="0.03" fill="#60c060" opacity="0.4"/><rect x="0.22" y="0.21" width="0.025" height="0.03" fill="#f0f040" opacity="0.4"/><rect x="0.1" y="0.59" width="0.025" height="0.03" fill="#6060e0" opacity="0.4"/><rect x="0.18" y="0.21" width="0.025" height="0.03" fill="#c02070" opacity="0.4"/><rect x="0.87" y="0.05" width="0.025" height="0.03" fill="#6060e0" opacity="0.4"/><rect x="0.14" y="0.37" width="0.025" height="0.03" fill="#60c060" opacity="0.4"/><rect x="0.02" y="0.57" width="0.025" height="0.03" fill="#c02070" opacity="0.4"/><rect x="0.05" y="0.06" width="0.025" height="0.03" fill="#c02070" opacity="0.4"/><rect x="0.43" y="0.68" width="0.025" height="0.03" fill="#f0f040" opacity="0.4"/><rect x="0.7" y="0.95" width="0.025" height="0.03" fill="#60c060" opacity="0.4"/><rect x="0.32" y="0.18" width="0.025" height="0.03" fill="#6060e0" opacity="0.4"/><rect x="0.72" y="0.03" width="0.025" height="0.03" fill="#c02070" opacity="0.4"/><rect x="0.81" y="0.94" width="0.025" height="0.03" fill="#c02070" opacity="0.4"/><rect x="0.16" y="0" width="0.025" height="0.03" fill="#f0f040" opacity="0.4"/><rect x="0.08" y="0.4" width="0.025" height="0.03" fill="#d040c0" opacity="0.4"/><rect x="0.54" y="0.72" width="0.025" height="0.03" fill="#c02070" opacity="0.4"/><rect x="0.34" y="0.78" width="0.025" height="0.03" fill="#c02070" opacity="0.4"/><rect x="0.08" y="0.67" width="0.025" height="0.03" fill="#60c060" opacity="0.4"/><rect x="0.36" y="0.87" width="0.025" height="0.03" fill="#60c060" opacity="0.4"/><rect x="0.31" y="0.7" width="0.025" height="0.03" fill="#c02070" opacity="0.4"/><rect x="0.03" y="0.39" width="0.025" height="0.03" fill="#c02070" opacity="0.4"/><rect x="0.04" y="0.03" width="0.025" height="0.03" fill="#d040c0" opacity="0.4"/><rect x="0.77" y="0.06" width="0.025" height="0.03" fill="#60c060" opacity="0.4"/><rect x="0.72" y="0.85" width="0.025" height="0.03" fill="#f0f040" opacity="0.4"/><rect x="0.35" y="0.32" width="0.025" height="0.03" fill="#6060e0" opacity="0.4"/><rect x="0.04" y="0.71" width="0.025" height="0.03" fill="#f0f040" opacity="0.4"/><rect x="0.89" y="0.28" width="0.025" height="0.03" fill="#6060e0" opacity="0.4"/><rect x="0.88" y="0.6" width="0.025" height="0.03" fill="#d040c0" opacity="0.4"/><rect x="0.02" y="0.22" width="0.025" height="0.03" fill="#c02070" opacity="0.4"/><rect x="0.69" y="0.44" width="0.025" height="0.03" fill="#c02070" opacity="0.4"/><rect x="0.76" y="0.87" width="0.025" height="0.03" fill="#c02070" opacity="0.4"/><rect x="0.13" y="0.47" width="0.025" height="0.03" fill="#d040c0" opacity="0.4"/><rect x="0.77" y="0.7" width="0.025" height="0.03" fill="#60c060" opacity="0.4"/><rect x="0.58" y="0.31" width="0.025" height="0.03" fill="#f0f040" opacity="0.4"/><rect x="0.44" y="0.74" width="0.025" height="0.03" fill="#6060e0" opacity="0.4"/><rect x="0.08" y="0.19" width="0.025" height="0.03" fill="#60c060" opacity="0.4"/><rect x="0.24" y="0.06" width="0.025" height="0.03" fill="#d040c0" opacity="0.4"/><rect x="0.46" y="0.52" width="0.025" height="0.03" fill="#60c060" opacity="0.4"/><rect x="0.94" y="0.84" width="0.025" height="0.03" fill="#d040c0" opacity="0.4"/><rect x="0.25" y="0.08" width="0.025" height="0.03" fill="#d040c0" opacity="0.4"/><rect x="0.4" y="0.94" width="0.025" height="0.03" fill="#c02070" opacity="0.4"/><rect x="0.17" y="0.13" width="0.025" height="0.03" fill="#c02070" opacity="0.4"/><rect x="0.6" y="0.64" width="0.025" height="0.03" fill="#6060e0" opacity="0.4"/><rect x="0.81" y="0.63" width="0.025" height="0.03" fill="#d040c0" opacity="0.4"/><rect x="0.75" y="0.28" width="0.025" height="0.03" fill="#f0f040" opacity="0.4"/><rect x="0.54" y="0.35" width="0.025" height="0.03" fill="#f0f040" opacity="0.4"/><rect x="0.19" y="0.24" width="0.025" height="0.03" fill="#60c060" opacity="0.4"/><rect x="0.23" y="0.27" width="0.025" height="0.03" fill="#6060e0" opacity="0.4"/><rect x="0.18" y="0.06" width="0.025" height="0.03" fill="#f0f040" opacity="0.4"/><rect x="0.95" y="0.48" width="0.025" height="0.03" fill="#60c060" opacity="0.4"/><rect x="0.62" y="0.1" width="0.025" height="0.03" fill="#c02070" opacity="0.4"/><rect x="0.95" y="0.1" width="0.025" height="0.03" fill="#c02070" opacity="0.4"/><rect x="0.85" y="0.22" width="0.025" height="0.03" fill="#c02070" opacity="0.4"/><rect x="0.88" y="0.04" width="0.025" height="0.03" fill="#f0f040" opacity="0.4"/><rect x="0.22" y="0.05" width="0.025" height="0.03" fill="#6060e0" opacity="0.4"/><rect x="0.93" y="0.55" width="0.025" height="0.03" fill="#d040c0" opacity="0.4"/><rect x="0.36" y="0.82" width="0.025" height="0.03" fill="#c02070" opacity="0.4"/><rect x="0.58" y="0.74" width="0.025" height="0.03" fill="#d040c0" opacity="0.4"/><rect x="0.1" y="0.57" width="0.025" height="0.03" fill="#6060e0" opacity="0.4"/><rect x="0.34" y="0.04" width="0.025" height="0.03" fill="#f0f040" opacity="0.4"/><rect x="0.14" y="0.19" width="0.025" height="0.03" fill="#f0f040" opacity="0.4"/><rect x="0.04" y="0.7" width="0.025" height="0.03" fill="#60c060" opacity="0.4"/><rect x="0.78" y="0.78" width="0.025" height="0.03" fill="#c02070" opacity="0.4"/><rect x="0.65" y="0.18" width="0.025" height="0.03" fill="#f0f040" opacity="0.4"/><rect x="0.07" y="0.03" width="0.025" height="0.03" fill="#c02070" opacity="0.4"/><rect x="0.53" y="0.06" width="0.025" height="0.03" fill="#d040c0" opacity="0.4"/><rect x="0.76" y="0.63" width="0.025" height="0.03" fill="#60c060" opacity="0.4"/><rect x="0.61" y="0.09" width="0.025" height="0.03" fill="#60c060" opacity="0.4"/><rect x="0.38" y="0.26" width="0.025" height="0.03" fill="#f0f040" opacity="0.4"/><rect x="0.64" y="0.4" width="0.025" height="0.03" fill="#d040c0" opacity="0.4"/><rect x="0.3" y="0.54" width="0.025" height="0.03" fill="#f0f040" opacity="0.4"/><rect x="0.4" y="0.02" width="0.025" height="0.03" fill="#f0f040" opacity="0.4"/><rect x="0.62" y="0.37" width="0.025" height="0.03" fill="#c02070" opacity="0.4"/><rect x="0.2" y="0.01" width="0.025" height="0.03" fill="#60c060" opacity="0.4"/><rect x="0.41" y="0.78" width="0.025" height="0.03" fill="#c02070" opacity="0.4"/><rect x="0.55" y="0.35" width="0.025" height="0.03" fill="#60c060" opacity="0.4"/><rect x="0.12" y="0.05" width="0.025" height="0.03" fill="#60c060" opacity="0.4"/><rect x="0.62" y="0.86" width="0.025" height="0.03" fill="#d040c0" opacity="0.4"/><rect x="0.55" y="0.88" width="0.025" height="0.03" fill="#6060e0" opacity="0.4"/><rect x="0.16" y="0.33" width="0.025" height="0.03" fill="#60c060" opacity="0.4"/><rect x="0.5" y="0.88" width="0.025" height="0.03" fill="#d040c0" opacity="0.4"/><rect x="0.37" y="0.72" width="0.025" height="0.03" fill="#60c060" opacity="0.4"/><rect x="0.29" y="0.8" width="0.025" height="0.03" fill="#d040c0" opacity="0.4"/><rect x="0.94" y="0.46" width="0.025" height="0.03" fill="#d040c0" opacity="0.4"/><rect x="0.58" y="0.6" width="0.025" height="0.03" fill="#d040c0" opacity="0.4"/><rect x="0.87" y="0.59" width="0.025" height="0.03" fill="#60c060" opacity="0.4"/><rect x="0.61" y="0.81" width="0.025" height="0.03" fill="#6060e0" opacity="0.4"/><rect x="0.39" y="0.8" width="0.025" height="0.03" fill="#c02070" opacity="0.4"/><rect x="0.18" y="0.21" width="0.025" height="0.03" fill="#c02070" opacity="0.4"/><rect x="0.9" y="0.15" width="0.025" height="0.03" fill="#f0f040" opacity="0.4"/><rect x="0.12" y="0.23" width="0.025" height="0.03" fill="#60c060" opacity="0.4"/><rect x="0.04" y="0.53" width="0.025" height="0.03" fill="#d040c0" opacity="0.4"/><rect x="0.64" y="0.31" width="0.025" height="0.03" fill="#c02070" opacity="0.4"/><rect x="0.58" y="0.52" width="0.025" height="0.03" fill="#f0f040" opacity="0.4"/><rect x="0.62" y="0.29" width="0.025" height="0.03" fill="#60c060" opacity="0.4"/><rect x="0.41" y="0.63" width="0.025" height="0.03" fill="#c02070" opacity="0.4"/><rect x="0.48" y="0.17" width="0.025" height="0.03" fill="#d040c0" opacity="0.4"/><rect x="0.59" y="0.47" width="0.025" height="0.03" fill="#60c060" opacity="0.4"/><rect x="0.43" y="0.59" width="0.025" height="0.03" fill="#c02070" opacity="0.4"/><rect x="0.8" y="0.77" width="0.025" height="0.03" fill="#c02070" opacity="0.4"/><rect x="0.1" y="0.12" width="0.025" height="0.03" fill="#c02070" opacity="0.4"/><rect x="0.35" y="0.76" width="0.025" height="0.03" fill="#6060e0" opacity="0.4"/><rect x="0.49" y="0.04" width="0.025" height="0.03" fill="#60c060" opacity="0.4"/><rect x="0.08" y="0.7" width="0.025" height="0.03" fill="#6060e0" opacity="0.4"/><rect x="0.08" y="0.71" width="0.025" height="0.03" fill="#c02070" opacity="0.4"/><rect x="0.63" y="0.75" width="0.025" height="0.03" fill="#d040c0" opacity="0.4"/><rect x="0.82" y="0.95" width="0.025" height="0.03" fill="#d040c0" opacity="0.4"/><rect x="0.19" y="0.93" width="0.025" height="0.03" fill="#c02070" opacity="0.4"/><rect x="0.28" y="0.77" width="0.025" height="0.03" fill="#60c060" opacity="0.4"/><rect x="0.66" y="0.69" width="0.025" height="0.03" fill="#60c060" opacity="0.4"/><rect x="0.06" y="0.33" width="0.025" height="0.03" fill="#f0f040" opacity="0.4"/><rect x="0.15" y="0.85" width="0.025" height="0.03" fill="#f0f040" opacity="0.4"/><rect x="0.87" y="0.43" width="0.025" height="0.03" fill="#f0f040" opacity="0.4"/><rect x="0.48" y="0.87" width="0.025" height="0.03" fill="#60c060" opacity="0.4"/><rect x="0.57" y="0.59" width="0.025" height="0.03" fill="#60c060" opacity="0.4"/><rect x="0.31" y="0.03" width="0.025" height="0.03" fill="#60c060" opacity="0.4"/><rect x="0.39" y="0.6" width="0.025" height="0.03" fill="#f0f040" opacity="0.4"/><rect x="0.65" y="0.85" width="0.025" height="0.03" fill="#60c060" opacity="0.4"/><rect x="0.76" y="0.25" width="0.025" height="0.03" fill="#6060e0" opacity="0.4"/><rect x="0.05" y="0.82" width="0.025" height="0.03" fill="#c02070" opacity="0.4"/><rect x="0.53" y="0.55" width="0.025" height="0.03" fill="#d040c0" opacity="0.4"/><rect x="0.24" y="0.51" width="0.025" height="0.03" fill="#c02070" opacity="0.4"/><rect x="0.71" y="0.35" width="0.025" height="0.03" fill="#c02070" opacity="0.4"/><rect x="0.95" y="0.55" width="0.025" height="0.03" fill="#f0f040" opacity="0.4"/><rect x="0.32" y="0.08" width="0.025" height="0.03" fill="#60c060" opacity="0.4"/><rect x="0.17" y="0.71" width="0.025" height="0.03" fill="#d040c0" opacity="0.4"/><rect x="0.28" y="0.49" width="0.025" height="0.03" fill="#f0f040" opacity="0.4"/><rect x="0.61" y="0.93" width="0.025" height="0.03" fill="#6060e0" opacity="0.4"/><rect x="0.89" y="0.85" width="0.025" height="0.03" fill="#d040c0" opacity="0.4"/><rect x="0.72" y="0.21" width="0.025" height="0.03" fill="#f0f040" opacity="0.4"/><rect x="0.59" y="0.41" width="0.025" height="0.03" fill="#6060e0" opacity="0.4"/><rect x="0.35" y="0.05" width="0.025" height="0.03" fill="#c02070" opacity="0.4"/><rect x="0.22" y="0.62" width="0.025" height="0.03" fill="#d040c0" opacity="0.4"/><rect x="0.05" y="0.54" width="0.025" height="0.03" fill="#f0f040" opacity="0.4"/><rect x="0.1" y="0.34" width="0.025" height="0.03" fill="#60c060" opacity="0.4"/><rect x="0.4" y="0.29" width="0.025" height="0.03" fill="#60c060" opacity="0.4"/><rect x="0.2" y="0.59" width="0.025" height="0.03" fill="#c02070" opacity="0.4"/><rect x="0.15" y="0.01" width="0.025" height="0.03" fill="#60c060" opacity="0.4"/><rect x="0.68" y="0.43" width="0.025" height="0.03" fill="#d040c0" opacity="0.4"/><rect x="0.61" y="0.83" width="0.025" height="0.03" fill="#f0f040" opacity="0.4"/><rect x="0.39" y="0.25" width="0.025" height="0.03" fill="#d040c0" opacity="0.4"/><rect x="0.05" y="0.78" width="0.025" height="0.03" fill="#f0f040" opacity="0.4"/><rect x="0.57" y="0.55" width="0.025" height="0.03" fill="#6060e0" opacity="0.4"/><rect x="0.9" y="0.7" width="0.025" height="0.03" fill="#60c060" opacity="0.4"/><rect x="0.16" y="0" width="0.025" height="0.03" fill="#d040c0" opacity="0.4"/><rect x="0.51" y="0.39" width="0.025" height="0.03" fill="#60c060" opacity="0.4"/><rect x="0.15" y="0.87" width="0.025" height="0.03" fill="#d040c0" opacity="0.4"/><rect x="0.01" y="0.52" width="0.025" height="0.03" fill="#60c060" opacity="0.4"/><rect x="0.14" y="0.19" width="0.025" height="0.03" fill="#6060e0" opacity="0.4"/><rect x="0.62" y="0.62" width="0.025" height="0.03" fill="#c02070" opacity="0.4"/><rect x="0.78" y="0.17" width="0.025" height="0.03" fill="#f0f040" opacity="0.4"/><rect x="0.06" y="0.59" width="0.025" height="0.03" fill="#c02070" opacity="0.4"/><rect x="0.69" y="0.01" width="0.025" height="0.03" fill="#c02070" opacity="0.4"/><rect x="0.72" y="0.44" width="0.025" height="0.03" fill="#c02070" opacity="0.4"/><rect x="0.17" y="0.95" width="0.025" height="0.03" fill="#f0f040" opacity="0.4"/><rect x="0.22" y="0.04" width="0.025" height="0.03" fill="#f0f040" opacity="0.4"/><rect x="0.86" y="0.88" width="0.025" height="0.03" fill="#f0f040" opacity="0.4"/><rect x="0.68" y="0.25" width="0.025" height="0.03" fill="#6060e0" opacity="0.4"/><rect x="0.65" y="0.65" width="0.025" height="0.03" fill="#6060e0" opacity="0.4"/><rect x="0.93" y="0.28" width="0.025" height="0.03" fill="#60c060" opacity="0.4"/><rect x="0.08" y="0.48" width="0.025" height="0.03" fill="#60c060" opacity="0.4"/><rect x="0.25" y="0.22" width="0.025" height="0.03" fill="#60c060" opacity="0.4"/><rect x="0.91" y="0.71" width="0.025" height="0.03" fill="#f0f040" opacity="0.4"/><rect x="0.18" y="0.37" width="0.025" height="0.03" fill="#6060e0" opacity="0.4"/><rect x="0.23" y="0.86" width="0.025" height="0.03" fill="#6060e0" opacity="0.4"/><rect x="0.45" y="0.8" width="0.025" height="0.03" fill="#d040c0" opacity="0.4"/><rect x="0.82" y="0.42" width="0.025" height="0.03" fill="#60c060" opacity="0.4"/><rect x="0.55" y="0.29" width="0.025" height="0.03" fill="#60c060" opacity="0.4"/><rect x="0.38" y="0.56" width="0.025" height="0.03" fill="#6060e0" opacity="0.4"/><rect x="0.87" y="0.14" width="0.025" height="0.03" fill="#d040c0" opacity="0.4"/><rect x="0.11" y="0.59" width="0.025" height="0.03" fill="#60c060" opacity="0.4"/><rect x="0.33" y="0.13" width="0.025" height="0.03" fill="#d040c0" opacity="0.4"/><rect x="0.03" y="0.13" width="0.025" height="0.03" fill="#d040c0" opacity="0.4"/><rect x="0.67" y="0.7" width="0.025" height="0.03" fill="#d040c0" opacity="0.4"/><rect x="0.82" y="0.72" width="0.025" height="0.03" fill="#60c060" opacity="0.4"/><rect x="0.78" y="0.78" width="0.025" height="0.03" fill="#d040c0" opacity="0.4"/><rect x="0.84" y="0.72" width="0.025" height="0.03" fill="#c02070" opacity="0.4"/><rect x="0.1" y="0.2" width="0.025" height="0.03" fill="#d040c0" opacity="0.4"/><rect x="0.03" y="0.9" width="0.025" height="0.03" fill="#d040c0" opacity="0.4"/><rect x="0.79" y="0.6" width="0.025" height="0.03" fill="#f0f040" opacity="0.4"/><rect x="0.46" y="0.13" width="0.025" height="0.03" fill="#60c060" opacity="0.4"/><rect x="0.28" y="0.32" width="0.025" height="0.03" fill="#f0f040" opacity="0.4"/><rect x="0.02" y="0.24" width="0.025" height="0.03" fill="#f0f040" opacity="0.4"/><rect x="0.05" y="0.72" width="0.025" height="0.03" fill="#f0f040" opacity="0.4"/><rect x="0.74" y="0.57" width="0.025" height="0.03" fill="#c02070" opacity="0.4"/><rect x="0.82" y="0.59" width="0.025" height="0.03" fill="#d040c0" opacity="0.4"/><rect x="0.76" y="0.03" width="0.025" height="0.03" fill="#6060e0" opacity="0.4"/><rect x="0.74" y="0.33" width="0.025" height="0.03" fill="#d040c0" opacity="0.4"/><rect x="0.52" y="0.21" width="0.025" height="0.03" fill="#d040c0" opacity="0.4"/><rect x="0.55" y="0.27" width="0.025" height="0.03" fill="#c02070" opacity="0.4"/><rect x="0" y="0.19" width="0.025" height="0.03" fill="#d040c0" opacity="0.4"/><rect x="0" y="0.47" width="0.025" height="0.03" fill="#c02070" opacity="0.4"/><rect x="0.67" y="0.78" width="0.025" height="0.03" fill="#c02070" opacity="0.4"/><rect x="0.57" y="0.91" width="0.025" height="0.03" fill="#6060e0" opacity="0.4"/><rect x="0.25" y="0.9" width="0.025" height="0.03" fill="#f0f040" opacity="0.4"/><rect x="0.78" y="0.89" width="0.025" height="0.03" fill="#60c060" opacity="0.4"/><rect x="0.48" y="0.1" width="0.025" height="0.03" fill="#d040c0" opacity="0.4"/><rect x="0.47" y="0.94" width="0.025" height="0.03" fill="#6060e0" opacity="0.4"/><rect x="0.76" y="0.6" width="0.025" height="0.03" fill="#f0f040" opacity="0.4"/><rect x="0.09" y="0.88" width="0.025" height="0.03" fill="#d040c0" opacity="0.4"/><rect x="0.41" y="0.61" width="0.025" height="0.03" fill="#f0f040" opacity="0.4"/><rect x="0.2" y="0.25" width="0.025" height="0.03" fill="#6060e0" opacity="0.4"/><rect x="0.48" y="0.36" width="0.025" height="0.03" fill="#60c060" opacity="0.4"/><rect x="0.91" y="0.12" width="0.025" height="0.03" fill="#6060e0" opacity="0.4"/><rect x="0.72" y="0.72" width="0.025" height="0.03" fill="#d040c0" opacity="0.4"/><rect x="0.33" y="0.31" width="0.025" height="0.03" fill="#60c060" opacity="0.4"/><rect x="0.83" y="0.43" width="0.025" height="0.03" fill="#6060e0" opacity="0.4"/><rect x="0.71" y="0.16" width="0.025" height="0.03" fill="#c02070" opacity="0.4"/><rect x="0.66" y="0.24" width="0.025" height="0.03" fill="#60c060" opacity="0.4"/><rect x="0.12" y="0.44" width="0.025" height="0.03" fill="#60c060" opacity="0.4"/><rect x="0.49" y="0.25" width="0.025" height="0.03" fill="#6060e0" opacity="0.4"/><rect x="0.15" y="0.15" width="0.025" height="0.03" fill="#60c060" opacity="0.4"/><rect x="0.69" y="0.57" width="0.025" height="0.03" fill="#f0f040" opacity="0.4"/><rect x="0.15" y="0.31" width="0.025" height="0.03" fill="#60c060" opacity="0.4"/><rect x="0.25" y="0.91" width="0.025" height="0.03" fill="#d040c0" opacity="0.4"/><rect x="0.16" y="0.63" width="0.025" height="0.03" fill="#60c060" opacity="0.4"/><rect x="0.37" y="0.93" width="0.025" height="0.03" fill="#f0f040" opacity="0.4"/><rect x="0.7" y="0.41" width="0.025" height="0.03" fill="#60c060" opacity="0.4"/><rect x="0.1" y="0.87" width="0.025" height="0.03" fill="#f0f040" opacity="0.4"/><rect x="0.2" y="0.37" width="0.025" height="0.03" fill="#d040c0" opacity="0.4"/><rect x="0.01" y="0.81" width="0.025" height="0.03" fill="#c02070" opacity="0.4"/><rect x="0.67" y="0.48" width="0.025" height="0.03" fill="#f0f040" opacity="0.4"/><rect x="0.44" y="0.13" width="0.025" height="0.03" fill="#6060e0" opacity="0.4"/><rect x="0.71" y="0.01" width="0.025" height="0.03" fill="#60c060" opacity="0.4"/><rect x="0.87" y="0.41" width="0.025" height="0.03" fill="#6060e0" opacity="0.4"/><rect x="0.56" y="0.61" width="0.025" height="0.03" fill="#60c060" opacity="0.4"/><rect x="0.64" y="0.62" width="0.025" height="0.03" fill="#6060e0" opacity="0.4"/><rect x="0.82" y="0.65" width="0.025" height="0.03" fill="#d040c0" opacity="0.4"/><rect x="0.44" y="0.3" width="0.025" height="0.03" fill="#d040c0" opacity="0.4"/><rect x="0.86" y="0.23" width="0.025" height="0.03" fill="#c02070" opacity="0.4"/><rect x="0.68" y="0.6" width="0.025" height="0.03" fill="#f0f040" opacity="0.4"/><rect x="0.82" y="0.46" width="0.025" height="0.03" fill="#d040c0" opacity="0.4"/><rect x="0.6" y="0.39" width="0.025" height="0.03" fill="#60c060" opacity="0.4"/><rect x="0.86" y="0.31" width="0.025" height="0.03" fill="#d040c0" opacity="0.4"/><rect x="0.37" y="0.47" width="0.025" height="0.03" fill="#d040c0" opacity="0.4"/><rect x="0.04" y="0.52" width="0.025" height="0.03" fill="#60c060" opacity="0.4"/><rect x="0.69" y="0.9" width="0.025" height="0.03" fill="#60c060" opacity="0.4"/><rect x="0.5" y="0.1" width="0.025" height="0.03" fill="#6060e0" opacity="0.4"/><rect x="0.44" y="0.19" width="0.025" height="0.03" fill="#c02070" opacity="0.4"/><rect x="0.49" y="0.61" width="0.025" height="0.03" fill="#f0f040" opacity="0.4"/><rect x="0.5" y="0.39" width="0.025" height="0.03" fill="#c02070" opacity="0.4"/><rect x="0.2" y="0.65" width="0.025" height="0.03" fill="#c02070" opacity="0.4"/><rect x="0.49" y="0.89" width="0.025" height="0.03" fill="#6060e0" opacity="0.4"/><rect x="0.34" y="0.05" width="0.025" height="0.03" fill="#f0f040" opacity="0.4"/><rect x="0.37" y="0.06" width="0.025" height="0.03" fill="#d040c0" opacity="0.4"/><rect x="0.4" y="0.4" width="0.025" height="0.03" fill="#f0f040" opacity="0.4"/><rect x="0.56" y="0.1" width="0.025" height="0.03" fill="#f0f040" opacity="0.4"/><rect x="0.71" y="0.89" width="0.025" height="0.03" fill="#6060e0" opacity="0.4"/><rect x="0.93" y="0.94" width="0.025" height="0.03" fill="#c02070" opacity="0.4"/><rect x="0.44" y="0.16" width="0.025" height="0.03" fill="#d040c0" opacity="0.4"/><rect x="0.78" y="0.6" width="0.025" height="0.03" fill="#c02070" opacity="0.4"/><rect x="0.62" y="0.68" width="0.025" height="0.03" fill="#60c060" opacity="0.4"/><rect x="0.34" y="0.61" width="0.025" height="0.03" fill="#c02070" opacity="0.4"/><rect x="0.45" y="0.28" width="0.025" height="0.03" fill="#6060e0" opacity="0.4"/><rect x="0.62" y="0.74" width="0.025" height="0.03" fill="#c02070" opacity="0.4"/><rect x="0.34" y="0.81" width="0.025" height="0.03" fill="#f0f040" opacity="0.4"/><rect x="0.68" y="0.65" width="0.025" height="0.03" fill="#c02070" opacity="0.4"/><rect x="0.65" y="0.46" width="0.025" height="0.03" fill="#f0f040" opacity="0.4"/><rect x="0.34" y="0.62" width="0.025" height="0.03" fill="#f0f040" opacity="0.4"/><rect x="0.46" y="0.41" width="0.025" height="0.03" fill="#d040c0" opacity="0.4"/><rect x="0.63" y="0.34" width="0.025" height="0.03" fill="#f0f040" opacity="0.4"/><rect x="0.82" y="0.05" width="0.025" height="0.03" fill="#6060e0" opacity="0.4"/><rect x="0.87" y="0.74" width="0.025" height="0.03" fill="#60c060" opacity="0.4"/><rect x="0.51" y="0.33" width="0.025" height="0.03" fill="#6060e0" opacity="0.4"/><rect x="0.01" y="0.01" width="0.025" height="0.03" fill="#d040c0" opacity="0.4"/><rect x="0.63" y="0.24" width="0.025" height="0.03" fill="#d040c0" opacity="0.4"/><rect x="0.56" y="0.81" width="0.025" height="0.03" fill="#60c060" opacity="0.4"/><rect x="0.75" y="0.33" width="0.025" height="0.03" fill="#60c060" opacity="0.4"/><rect x="0.2" y="0.38" width="0.025" height="0.03" fill="#6060e0" opacity="0.4"/><rect x="0.16" y="0.85" width="0.025" height="0.03" fill="#6060e0" opacity="0.4"/>
<ellipse cx="0.9" cy="0.3" rx="0.04" ry="0.07" fill="#f4f4f4"/>
</g>
<defs><linearGradient id="jet" x1="0" x2="1" y1="0" y2="0"><stop offset="0" stop-color="#2a2070"/><stop offset="0.15" stop-color="#3050c8"/><stop offset="0.35" stop-color="#30c0e0"/><stop offset="0.5" stop-color="#70e070"/><stop offset="0.65" stop-color="#f0e030"/><stop offset="0.82" stop-color="#f07020"/><stop offset="1" stop-color="#c01818"/></linearGradient></defs>
<g transform="translate(49.4,88.4) rotate(15.2)"><rect x="0" y="0" width="36.5" height="3.2" fill="url(#jet)"/></g>
<g transform="translate(54,98.3) rotate(15.2)" font-size="4.3" fill="#333"><text x="0" y="0">-1</text><text x="13" y="0">0</text><text x="26" y="0">1</text></g>
<g transform="translate(52.5,104.8) rotate(17)"><text x="0" y="0" font-size="5.4" fill="#333" textLength="29" lengthAdjust="spacingAndGlyphs"  style="font-family:'Liberation Sans', Arial, Helvetica, sans-serif">&#8711;&#183;<tspan font-style="italic">P</tspan> (&#215;10<tspan font-size="3.5" dy="-1.8">7</tspan><tspan dy="1.8"> C m</tspan><tspan font-size="3.5" dy="-1.8">-3</tspan><tspan dy="1.8">)</tspan></text></g>
<g transform="matrix(1,0.272,0,1,60.6,14.4)"><text x="0" y="0" font-size="10.6" fill="#1a1a1a" font-weight="bold" textLength="60.5" lengthAdjust="spacingAndGlyphs" stroke="#1a1a1a" stroke-width="0.3" style="font-family:'Liberation Sans', Arial, Helvetica, sans-serif">Collective modes</text></g>
<defs><filter id="blb" x="-50%" y="-50%" width="200%" height="200%"><feGaussianBlur stdDeviation="1.5"/></filter><filter id="blt" x="-20%" y="-20%" width="140%" height="140%"><feGaussianBlur stdDeviation="0.35"/></filter><filter id="ble" x="-20%" y="-20%" width="140%" height="140%"><feGaussianBlur stdDeviation="0.8"/></filter><clipPath id="lfc"><path d="M40.3,157.2 L111.6,183 L112.2,209 L41.2,181.5 Z"/></clipPath><clipPath id="rfc"><path d="M111.6,183 L163.8,149.8 L163.3,173.5 L112.2,209 Z"/></clipPath><clipPath id="tfc"><path d="M40.3,157.2 L98.2,128.3 L163.8,149.8 L111.6,183 Z"/></clipPath></defs>
<g filter="url(#ble)"><path d="M40.3,157.2 L111.6,183 L112.2,209 L41.2,181.5 Z" fill="#eceef4"/><path d="M111.6,183 L163.8,149.8 L163.3,173.5 L112.2,209 Z" fill="#e8ebf2"/></g>
<g clip-path="url(#lfc)"><g filter="url(#blb)">
<ellipse cx="43.05" cy="167.07" rx="3.74" ry="4.87" fill="#4c5a92" opacity="0.61"/>
<ellipse cx="48.82" cy="173.65" rx="3.41" ry="5.03" fill="#4c5a92" opacity="0.96"/>
<ellipse cx="54.22" cy="170.95" rx="3.07" ry="5.21" fill="#4c5a92" opacity="0.63"/>
<ellipse cx="59.61" cy="179.72" rx="3.77" ry="5.05" fill="#4c5a92" opacity="0.93"/>
<ellipse cx="66.23" cy="174.76" rx="3.42" ry="4.46" fill="#4c5a92" opacity="0.58"/>
<ellipse cx="71.9" cy="182.29" rx="3.37" ry="4.84" fill="#4c5a92" opacity="0.97"/>
<ellipse cx="78.84" cy="180.4" rx="3.4" ry="5.06" fill="#4c5a92" opacity="0.61"/>
<ellipse cx="83.85" cy="188.7" rx="3.8" ry="5.24" fill="#4c5a92" opacity="0.95"/>
<ellipse cx="90.31" cy="183.97" rx="3.23" ry="4.47" fill="#4c5a92" opacity="0.64"/>
<ellipse cx="95.98" cy="192.88" rx="3.31" ry="5.36" fill="#4c5a92" opacity="0.97"/>
<ellipse cx="101.57" cy="188.32" rx="3.73" ry="4.87" fill="#4c5a92" opacity="0.66"/>
<ellipse cx="107.86" cy="195.8" rx="3.5" ry="5.18" fill="#4c5a92" opacity="0.88"/>
</g></g>
<g clip-path="url(#rfc)"><g filter="url(#blb)">
<ellipse cx="116.97" cy="187.93" rx="3.77" ry="5.16" fill="#4c5a92" opacity="0.57"/>
<ellipse cx="113.99" cy="195.21" rx="3.05" ry="5.2" fill="#4c5a92" opacity="0.87"/>
<ellipse cx="128.36" cy="181.37" rx="3.15" ry="5.13" fill="#4c5a92" opacity="0.57"/>
<ellipse cx="125.23" cy="188.31" rx="3.34" ry="4.61" fill="#4c5a92" opacity="0.88"/>
<ellipse cx="139.62" cy="175.3" rx="3.24" ry="5.28" fill="#4c5a92" opacity="0.58"/>
<ellipse cx="135.17" cy="182.86" rx="3.51" ry="4.5" fill="#4c5a92" opacity="0.99"/>
<ellipse cx="148.54" cy="167.42" rx="3.62" ry="4.73" fill="#4c5a92" opacity="0.59"/>
<ellipse cx="144.96" cy="174.41" rx="3.47" ry="4.64" fill="#4c5a92" opacity="0.93"/>
<ellipse cx="159.3" cy="161.02" rx="3.77" ry="4.88" fill="#4c5a92" opacity="0.62"/>
<ellipse cx="156.99" cy="167.67" rx="3.12" ry="5.31" fill="#4c5a92" opacity="0.96"/>
</g></g>
<g clip-path="url(#tfc)">
<path d="M40.3,157.2 L98.2,128.3 L163.8,149.8 L111.6,183 Z" fill="#e6e9a0"/>
<g filter="url(#blt)">
<ellipse cx="70.43" cy="137.39" rx="3.48" ry="2.14" fill="#d8e6a0" opacity="0.7"/>
<ellipse cx="127.31" cy="149.29" rx="2.97" ry="1.28" fill="#f2ee9a" opacity="0.7"/>
<ellipse cx="51.5" cy="128.32" rx="3.93" ry="1.44" fill="#f6c060" opacity="0.7"/>
<ellipse cx="71.41" cy="175.42" rx="3.19" ry="1.49" fill="#d8e6a0" opacity="0.7"/>
<ellipse cx="158.8" cy="184.63" rx="2.25" ry="1.68" fill="#f2ee9a" opacity="0.7"/>
<ellipse cx="74.43" cy="181.04" rx="2.41" ry="1.22" fill="#f4d870" opacity="0.7"/>
<ellipse cx="91.49" cy="140.94" rx="2.09" ry="1.48" fill="#d8e6a0" opacity="0.7"/>
<ellipse cx="49.98" cy="134.3" rx="2.9" ry="1.53" fill="#d8e6a0" opacity="0.7"/>
<ellipse cx="114.68" cy="181.42" rx="2.95" ry="1.56" fill="#f4d870" opacity="0.7"/>
<ellipse cx="163.16" cy="127.28" rx="3.27" ry="1.68" fill="#f4d870" opacity="0.7"/>
<ellipse cx="79.46" cy="185.96" rx="2.15" ry="1.75" fill="#f2ee9a" opacity="0.7"/>
<ellipse cx="155.03" cy="170.23" rx="3.41" ry="1.99" fill="#f4d870" opacity="0.7"/>
<ellipse cx="83.74" cy="167.11" rx="3.8" ry="2.07" fill="#f6c060" opacity="0.7"/>
<ellipse cx="160.75" cy="127.82" rx="3" ry="1.21" fill="#f6c060" opacity="0.7"/>
<ellipse cx="87.29" cy="126.75" rx="2.14" ry="1.29" fill="#f2ee9a" opacity="0.7"/>
<ellipse cx="167.13" cy="178.79" rx="3.46" ry="1.59" fill="#f6c060" opacity="0.7"/>
<ellipse cx="95.27" cy="176.3" rx="2.17" ry="1.95" fill="#f2ee9a" opacity="0.7"/>
<ellipse cx="78.33" cy="131.26" rx="2.04" ry="2.16" fill="#f2ee9a" opacity="0.7"/>
<ellipse cx="102.64" cy="162.87" rx="3.84" ry="1.46" fill="#f2ee9a" opacity="0.7"/>
<ellipse cx="85.83" cy="134.59" rx="3.22" ry="1.72" fill="#f4d870" opacity="0.7"/>
<ellipse cx="123.8" cy="152.52" rx="3.78" ry="1.53" fill="#f4d870" opacity="0.7"/>
<ellipse cx="63.81" cy="151.85" rx="3.61" ry="2.11" fill="#d8e6a0" opacity="0.7"/>
<ellipse cx="87.97" cy="160.99" rx="2.63" ry="1.34" fill="#f6c060" opacity="0.7"/>
<ellipse cx="83.6" cy="179.74" rx="2.08" ry="1.26" fill="#f4d870" opacity="0.7"/>
<ellipse cx="144.84" cy="132.77" rx="2.94" ry="2.13" fill="#f6c060" opacity="0.7"/>
<ellipse cx="87.73" cy="157.2" rx="3.34" ry="1.92" fill="#f6c060" opacity="0.7"/>
<ellipse cx="79.65" cy="175.72" rx="2.56" ry="1.81" fill="#f4d870" opacity="0.7"/>
<ellipse cx="112.18" cy="144.54" rx="3.58" ry="1.22" fill="#d8e6a0" opacity="0.7"/>
<ellipse cx="90.67" cy="137.4" rx="3.54" ry="1.47" fill="#d8e6a0" opacity="0.7"/>
<ellipse cx="141.59" cy="185.04" rx="2.23" ry="1.31" fill="#f4d870" opacity="0.7"/>
<ellipse cx="162.6" cy="167.07" rx="2.4" ry="1.68" fill="#d8e6a0" opacity="0.7"/>
<ellipse cx="130.85" cy="171.3" rx="3.07" ry="1.24" fill="#d8e6a0" opacity="0.7"/>
<ellipse cx="73.41" cy="146.74" rx="3.39" ry="1.72" fill="#d8e6a0" opacity="0.7"/>
<ellipse cx="89.16" cy="173.52" rx="3.81" ry="1.29" fill="#f6c060" opacity="0.7"/>
<ellipse cx="54.89" cy="153.21" rx="3.25" ry="2.11" fill="#f6c060" opacity="0.7"/>
<ellipse cx="109.5" cy="165.16" rx="3.01" ry="2.02" fill="#f4d870" opacity="0.7"/>
<ellipse cx="98.28" cy="165.08" rx="2.41" ry="1.92" fill="#f2ee9a" opacity="0.7"/>
<ellipse cx="65.73" cy="180" rx="3.96" ry="2.18" fill="#f4d870" opacity="0.7"/>
<ellipse cx="72.04" cy="169.1" rx="2.03" ry="1.7" fill="#f2ee9a" opacity="0.7"/>
<ellipse cx="95.32" cy="159.02" rx="3.54" ry="1.69" fill="#f2ee9a" opacity="0.7"/>
<ellipse cx="66.38" cy="178.05" rx="2.86" ry="1.24" fill="#f4d870" opacity="0.7"/>
<ellipse cx="127.26" cy="180.96" rx="2.94" ry="2.2" fill="#f6c060" opacity="0.7"/>
<ellipse cx="160.95" cy="155.55" rx="3.9" ry="1.29" fill="#d8e6a0" opacity="0.7"/>
<ellipse cx="95.12" cy="159.53" rx="3.66" ry="1.76" fill="#d8e6a0" opacity="0.7"/>
<ellipse cx="105.96" cy="176.62" rx="3.12" ry="1.51" fill="#f6c060" opacity="0.7"/>
<ellipse cx="162.12" cy="178.2" rx="3.22" ry="1.5" fill="#d8e6a0" opacity="0.7"/>
<ellipse cx="163.9" cy="157.45" rx="3.15" ry="1.4" fill="#f2ee9a" opacity="0.7"/>
<ellipse cx="103.41" cy="162.31" rx="2.06" ry="2.17" fill="#f6c060" opacity="0.7"/>
<ellipse cx="108.72" cy="185.36" rx="2.24" ry="1.29" fill="#d8e6a0" opacity="0.7"/>
<ellipse cx="46.57" cy="158.32" rx="2.83" ry="2.16" fill="#f6c060" opacity="0.7"/>
<ellipse cx="73" cy="154.39" rx="2.25" ry="1.63" fill="#f6c060" opacity="0.7"/>
<ellipse cx="106.25" cy="132.52" rx="2.84" ry="1.23" fill="#f4d870" opacity="0.7"/>
<ellipse cx="54.83" cy="172.76" rx="2.05" ry="1.39" fill="#d8e6a0" opacity="0.7"/>
<ellipse cx="39.54" cy="143.04" rx="3.45" ry="1.44" fill="#f6c060" opacity="0.7"/>
<ellipse cx="51.64" cy="169.85" rx="2.25" ry="1.71" fill="#f4d870" opacity="0.7"/>
<ellipse cx="131.3" cy="168.08" rx="3.76" ry="1.22" fill="#f6c060" opacity="0.7"/>
<ellipse cx="145.27" cy="162.95" rx="3.08" ry="2.06" fill="#d8e6a0" opacity="0.7"/>
<ellipse cx="106.85" cy="177.08" rx="3.22" ry="2.06" fill="#d8e6a0" opacity="0.7"/>
<ellipse cx="156.93" cy="163.67" rx="2.7" ry="1.38" fill="#f4d870" opacity="0.7"/>
<ellipse cx="153.78" cy="137.68" rx="3.56" ry="1.39" fill="#f2ee9a" opacity="0.7"/>
<g transform="translate(48.39,157.18) rotate(-10.25)">
<ellipse rx="4.77" ry="2.04" fill="#eef5f0"/>
<path d="M3.2,-3 A6.52,3.45 0 0 1 6.52,-0.07" fill="none" stroke="#f07028" stroke-width="1" stroke-linecap="round"/>
<path d="M-4.53,-2.48 A6.52,3.45 0 0 1 3.52,-2.9" fill="none" stroke="#f08a30" stroke-width="1" stroke-linecap="round"/>
<path d="M-2.7,-3.14 A6.52,3.45 0 0 1 5.49,-1.86" fill="none" stroke="#e0481c" stroke-width="0.96" stroke-linecap="round"/>
</g>
<g transform="translate(64.07,161.58) rotate(-8.6)">
<ellipse rx="4.51" ry="2.16" fill="#eef5f0"/>
<path d="M5.6,1.54 A6.2,3.6 0 0 1 2.09,3.39" fill="none" stroke="#f08a30" stroke-width="1.28" stroke-linecap="round"/>
<path d="M-4.7,-2.35 A6.2,3.6 0 0 1 3.31,-3.04" fill="none" stroke="#f3a040" stroke-width="0.97" stroke-linecap="round"/>
<path d="M2.48,3.3 A6.2,3.6 0 0 1 -2.71,3.24" fill="none" stroke="#f07028" stroke-width="1.4" stroke-linecap="round"/>
</g>
<g transform="translate(74.31,163.84) rotate(-3.68)">
<ellipse rx="3.98" ry="2.04" fill="#eef5f0"/>
<path d="M0.5,-3.43 A5.59,3.45 0 0 1 4.85,-1.71" fill="none" stroke="#f3a040" stroke-width="1.11" stroke-linecap="round"/>
<path d="M-3.41,2.73 A5.59,3.45 0 0 1 -5.58,0.16" fill="none" stroke="#e0481c" stroke-width="0.91" stroke-linecap="round"/>
<path d="M-1.7,-3.28 A5.59,3.45 0 0 1 4.89,-1.67" fill="none" stroke="#f07028" stroke-width="1.1" stroke-linecap="round"/>
</g>
<g transform="translate(85.32,169.71) rotate(-10.29)">
<ellipse rx="5.01" ry="2.35" fill="#eef5f0"/>
<path d="M1.77,-3.7 A6.79,3.84 0 0 1 6.38,-1.31" fill="none" stroke="#f08a30" stroke-width="1.3" stroke-linecap="round"/>
<path d="M-1.92,-3.68 A6.79,3.84 0 0 1 6.06,-1.74" fill="none" stroke="#f3a040" stroke-width="1.18" stroke-linecap="round"/>
<path d="M2.47,3.58 A6.79,3.84 0 0 1 -4.85,2.68" fill="none" stroke="#e0481c" stroke-width="1.3" stroke-linecap="round"/>
</g>
<g transform="translate(99.32,175.09) rotate(2.66)">
<ellipse rx="4.8" ry="2.35" fill="#eef5f0"/>
<path d="M-5.42,2.15 A6.54,3.84 0 0 1 -4.45,-2.82" fill="none" stroke="#e8601e" stroke-width="1.25" stroke-linecap="round"/>
<path d="M0.69,-3.82 A6.54,3.84 0 0 1 6.47,-0.58" fill="none" stroke="#f3a040" stroke-width="1" stroke-linecap="round"/>
<path d="M2.61,3.52 A6.54,3.84 0 0 1 -5.24,2.3" fill="none" stroke="#e0481c" stroke-width="1.13" stroke-linecap="round"/>
</g>
<g transform="translate(107.65,178.94) rotate(-7.82)">
<ellipse rx="4.67" ry="2.2" fill="#eef5f0"/>
<path d="M6.01,-1.25 A6.39,3.65 0 0 1 4.06,2.82" fill="none" stroke="#e0481c" stroke-width="1.01" stroke-linecap="round"/>
<path d="M-5.31,2.04 A6.39,3.65 0 0 1 -6.19,-0.92" fill="none" stroke="#f08a30" stroke-width="1.09" stroke-linecap="round"/>
<path d="M6.39,-0.01 A6.39,3.65 0 0 1 2.26,3.42" fill="none" stroke="#f08a30" stroke-width="1.28" stroke-linecap="round"/>
</g>
<g transform="translate(60.22,150.32) rotate(-7.38)">
<ellipse rx="4.64" ry="2.25" fill="#eef5f0"/>
<path d="M-5.18,2.16 A6.36,3.72 0 0 1 -6.32,-0.45" fill="none" stroke="#f07028" stroke-width="1.22" stroke-linecap="round"/>
<path d="M6.35,0.25 A6.36,3.72 0 0 1 3.57,3.08" fill="none" stroke="#e0481c" stroke-width="1.35" stroke-linecap="round"/>
<path d="M-6.05,-1.14 A6.36,3.72 0 0 1 -0.96,-3.68" fill="none" stroke="#e8601e" stroke-width="1.18" stroke-linecap="round"/>
</g>
<g transform="translate(74.75,155.39) rotate(-1.24)">
<ellipse rx="4.87" ry="1.97" fill="#eef5f0"/>
<path d="M0.37,-3.36 A6.63,3.36 0 0 1 4.72,-2.36" fill="none" stroke="#f07028" stroke-width="1.09" stroke-linecap="round"/>
<path d="M6.51,-0.64 A6.63,3.36 0 0 1 2.44,3.13" fill="none" stroke="#e8601e" stroke-width="1.21" stroke-linecap="round"/>
<path d="M6.19,1.21 A6.63,3.36 0 0 1 -1.66,3.26" fill="none" stroke="#f3a040" stroke-width="1.04" stroke-linecap="round"/>
</g>
<g transform="translate(82.64,160.18) rotate(-7.14)">
<ellipse rx="4.54" ry="2.06" fill="#eef5f0"/>
<path d="M5.63,-1.5 A6.24,3.48 0 0 1 4.42,2.46" fill="none" stroke="#e0481c" stroke-width="0.91" stroke-linecap="round"/>
<path d="M0.86,-3.45 A6.24,3.48 0 0 1 6.03,-0.91" fill="none" stroke="#f07028" stroke-width="1.1" stroke-linecap="round"/>
<path d="M-2.52,-3.18 A6.24,3.48 0 0 1 2.01,-3.29" fill="none" stroke="#e0481c" stroke-width="1.27" stroke-linecap="round"/>
</g>
<g transform="translate(96.18,166.15) rotate(4.3)">
<ellipse rx="5.03" ry="2.04" fill="#eef5f0"/>
<path d="M-6.16,1.48 A6.82,3.44 0 0 1 -5.48,-2.05" fill="none" stroke="#f07028" stroke-width="0.92" stroke-linecap="round"/>
<path d="M5.56,2 A6.82,3.44 0 0 1 -2.63,3.18" fill="none" stroke="#f3a040" stroke-width="0.97" stroke-linecap="round"/>
<path d="M6.6,-0.87 A6.82,3.44 0 0 1 5.47,2.06" fill="none" stroke="#f08a30" stroke-width="0.93" stroke-linecap="round"/>
</g>
<g transform="translate(105.1,168.07) rotate(-9.21)">
<ellipse rx="4.93" ry="2.17" fill="#eef5f0"/>
<path d="M-4.37,2.73 A6.71,3.61 0 0 1 -6.7,0.17" fill="none" stroke="#f3a040" stroke-width="1.13" stroke-linecap="round"/>
<path d="M-0.5,3.6 A6.71,3.61 0 0 1 -6.34,1.17" fill="none" stroke="#f3a040" stroke-width="1.08" stroke-linecap="round"/>
<path d="M-0.27,-3.6 A6.71,3.61 0 0 1 6.48,-0.93" fill="none" stroke="#f07028" stroke-width="1.38" stroke-linecap="round"/>
</g>
<g transform="translate(118.43,171.7) rotate(2.12)">
<ellipse rx="4.05" ry="2.04" fill="#eef5f0"/>
<path d="M-4.01,-2.44 A5.66,3.45 0 0 1 1.12,-3.38" fill="none" stroke="#e0481c" stroke-width="1.2" stroke-linecap="round"/>
<path d="M-0.9,-3.41 A5.66,3.45 0 0 1 5.04,-1.56" fill="none" stroke="#f07028" stroke-width="1.22" stroke-linecap="round"/>
<path d="M0.11,-3.45 A5.66,3.45 0 0 1 4.33,-2.22" fill="none" stroke="#f07028" stroke-width="1.15" stroke-linecap="round"/>
</g>
<g transform="translate(69.36,146.37) rotate(-11.83)">
<ellipse rx="4.72" ry="2.23" fill="#eef5f0"/>
<path d="M-0.38,3.68 A6.46,3.69 0 0 1 -4.54,2.62" fill="none" stroke="#f08a30" stroke-width="0.95" stroke-linecap="round"/>
<path d="M-6.24,-0.95 A6.46,3.69 0 0 1 -3.39,-3.14" fill="none" stroke="#f08a30" stroke-width="1.36" stroke-linecap="round"/>
<path d="M3.43,3.12 A6.46,3.69 0 0 1 -2.07,3.49" fill="none" stroke="#e0481c" stroke-width="1.14" stroke-linecap="round"/>
</g>
<g transform="translate(80.36,151.19) rotate(3.65)">
<ellipse rx="4.5" ry="1.85" fill="#eef5f0"/>
<path d="M1.98,-3.05 A6.19,3.21 0 0 1 6.08,-0.6" fill="none" stroke="#e8601e" stroke-width="1.32" stroke-linecap="round"/>
<path d="M0.72,-3.19 A6.19,3.21 0 0 1 5.71,-1.25" fill="none" stroke="#e0481c" stroke-width="1.1" stroke-linecap="round"/>
<path d="M3.62,2.61 A6.19,3.21 0 0 1 -1.22,3.15" fill="none" stroke="#e8601e" stroke-width="1.06" stroke-linecap="round"/>
</g>
<g transform="translate(94.45,155.46) rotate(-5.35)">
<ellipse rx="5.01" ry="2.24" fill="#eef5f0"/>
<path d="M5.57,2.12 A6.79,3.7 0 0 1 -2.88,3.35" fill="none" stroke="#f08a30" stroke-width="1.17" stroke-linecap="round"/>
<path d="M-6.17,1.54 A6.79,3.7 0 0 1 -5.08,-2.46" fill="none" stroke="#f3a040" stroke-width="1.05" stroke-linecap="round"/>
<path d="M1.07,-3.65 A6.79,3.7 0 0 1 5.4,-2.25" fill="none" stroke="#f07028" stroke-width="1.36" stroke-linecap="round"/>
</g>
<g transform="translate(105.9,159.26) rotate(-6.1)">
<ellipse rx="4.5" ry="2.2" fill="#eef5f0"/>
<path d="M4.55,-2.48 A6.19,3.65 0 0 1 6.14,0.47" fill="none" stroke="#e0481c" stroke-width="1.08" stroke-linecap="round"/>
<path d="M4.58,2.45 A6.19,3.65 0 0 1 -2.6,3.31" fill="none" stroke="#e8601e" stroke-width="1.2" stroke-linecap="round"/>
<path d="M5.05,-2.11 A6.19,3.65 0 0 1 4.99,2.16" fill="none" stroke="#e0481c" stroke-width="1.12" stroke-linecap="round"/>
</g>
<g transform="translate(116.31,162.2) rotate(4.82)">
<ellipse rx="4.29" ry="1.9" fill="#eef5f0"/>
<path d="M4.68,-2.02 A5.94,3.28 0 0 1 5.78,0.76" fill="none" stroke="#e0481c" stroke-width="1.31" stroke-linecap="round"/>
<path d="M5.88,0.5 A5.94,3.28 0 0 1 1.05,3.23" fill="none" stroke="#e8601e" stroke-width="1.09" stroke-linecap="round"/>
<path d="M2.02,3.09 A5.94,3.28 0 0 1 -4.28,2.27" fill="none" stroke="#f3a040" stroke-width="1.17" stroke-linecap="round"/>
</g>
<g transform="translate(129.08,166.53) rotate(3.86)">
<ellipse rx="4.12" ry="2.01" fill="#eef5f0"/>
<path d="M-1.12,3.35 A5.75,3.41 0 0 1 -4.55,2.08" fill="none" stroke="#e8601e" stroke-width="0.93" stroke-linecap="round"/>
<path d="M3.12,2.87 A5.75,3.41 0 0 1 -2.04,3.19" fill="none" stroke="#f08a30" stroke-width="1.23" stroke-linecap="round"/>
<path d="M1.91,-3.22 A5.75,3.41 0 0 1 5.1,-1.58" fill="none" stroke="#e8601e" stroke-width="1.05" stroke-linecap="round"/>
</g>
<g transform="translate(79.16,141.94) rotate(-6.35)">
<ellipse rx="4.24" ry="1.73" fill="#eef5f0"/>
<path d="M5.81,0.5 A5.88,3.06 0 0 1 1.08,3.01" fill="none" stroke="#f08a30" stroke-width="1.27" stroke-linecap="round"/>
<path d="M-3.5,-2.46 A5.88,3.06 0 0 1 1.51,-2.96" fill="none" stroke="#f07028" stroke-width="1.14" stroke-linecap="round"/>
<path d="M4.91,-1.68 A5.88,3.06 0 0 1 5.45,1.16" fill="none" stroke="#f3a040" stroke-width="1.1" stroke-linecap="round"/>
</g>
<g transform="translate(92.58,147.22) rotate(-2.33)">
<ellipse rx="4.71" ry="2.15" fill="#eef5f0"/>
<path d="M-1.18,-3.52 A6.44,3.58 0 0 1 5.69,-1.68" fill="none" stroke="#f08a30" stroke-width="1.11" stroke-linecap="round"/>
<path d="M2.95,-3.18 A6.44,3.58 0 0 1 6.38,0.5" fill="none" stroke="#f08a30" stroke-width="1.3" stroke-linecap="round"/>
<path d="M3.22,-3.1 A6.44,3.58 0 0 1 6.02,1.28" fill="none" stroke="#e8601e" stroke-width="1.22" stroke-linecap="round"/>
</g>
<g transform="translate(103.44,150.32) rotate(-4.43)">
<ellipse rx="4.86" ry="2.17" fill="#eef5f0"/>
<path d="M4.02,2.87 A6.62,3.62 0 0 1 -3.96,2.9" fill="none" stroke="#f3a040" stroke-width="1.24" stroke-linecap="round"/>
<path d="M-2.85,3.27 A6.62,3.62 0 0 1 -6.58,0.42" fill="none" stroke="#e8601e" stroke-width="1.05" stroke-linecap="round"/>
<path d="M6.5,-0.69 A6.62,3.62 0 0 1 5.63,1.9" fill="none" stroke="#e0481c" stroke-width="1.27" stroke-linecap="round"/>
</g>
<g transform="translate(111.45,153.8) rotate(1.56)">
<ellipse rx="5" ry="2.54" fill="#eef5f0"/>
<path d="M6.75,0.44 A6.79,4.07 0 0 1 2.51,3.78" fill="none" stroke="#f08a30" stroke-width="1.06" stroke-linecap="round"/>
<path d="M2.2,3.85 A6.79,4.07 0 0 1 -4.15,3.22" fill="none" stroke="#e8601e" stroke-width="1.02" stroke-linecap="round"/>
<path d="M-1.4,-3.98 A6.79,4.07 0 0 1 5.59,-2.31" fill="none" stroke="#f07028" stroke-width="1.12" stroke-linecap="round"/>
</g>
<g transform="translate(126.03,156.81) rotate(-0.72)">
<ellipse rx="4.99" ry="2.55" fill="#eef5f0"/>
<path d="M6.32,-1.47 A6.77,4.08 0 0 1 4.85,2.85" fill="none" stroke="#e0481c" stroke-width="1.14" stroke-linecap="round"/>
<path d="M-5.54,2.35 A6.77,4.08 0 0 1 -4.46,-3.07" fill="none" stroke="#e8601e" stroke-width="1.29" stroke-linecap="round"/>
<path d="M5.67,2.24 A6.77,4.08 0 0 1 -2.64,3.76" fill="none" stroke="#f3a040" stroke-width="0.92" stroke-linecap="round"/>
</g>
<g transform="translate(139.32,161.18) rotate(-2.72)">
<ellipse rx="4.37" ry="2.01" fill="#eef5f0"/>
<path d="M-0.92,3.37 A6.04,3.41 0 0 1 -6.02,-0.25" fill="none" stroke="#f07028" stroke-width="1.35" stroke-linecap="round"/>
<path d="M4.23,-2.43 A6.04,3.41 0 0 1 4.88,2.01" fill="none" stroke="#f3a040" stroke-width="1.3" stroke-linecap="round"/>
<path d="M-1.39,-3.32 A6.04,3.41 0 0 1 4.92,-1.98" fill="none" stroke="#f07028" stroke-width="1.11" stroke-linecap="round"/>
</g>
<g transform="translate(88.77,136.34) rotate(-9.64)">
<ellipse rx="4.99" ry="2.47" fill="#eef5f0"/>
<path d="M-0.37,-3.98 A6.77,3.98 0 0 1 6.16,-1.66" fill="none" stroke="#e8601e" stroke-width="1.17" stroke-linecap="round"/>
<path d="M3.96,3.23 A6.77,3.98 0 0 1 -4.32,3.07" fill="none" stroke="#f08a30" stroke-width="1" stroke-linecap="round"/>
<path d="M5.84,-2.01 A6.77,3.98 0 0 1 6.49,1.14" fill="none" stroke="#f07028" stroke-width="0.94" stroke-linecap="round"/>
</g>
<g transform="translate(100.58,141.96) rotate(-3.56)">
<ellipse rx="4.03" ry="1.83" fill="#eef5f0"/>
<path d="M5.41,-0.89 A5.64,3.18 0 0 1 3.56,2.47" fill="none" stroke="#e8601e" stroke-width="1.05" stroke-linecap="round"/>
<path d="M1.36,-3.09 A5.64,3.18 0 0 1 5.4,-0.92" fill="none" stroke="#f08a30" stroke-width="1.29" stroke-linecap="round"/>
<path d="M-5.24,1.17 A5.64,3.18 0 0 1 -5.29,-1.1" fill="none" stroke="#f3a040" stroke-width="1.16" stroke-linecap="round"/>
</g>
<g transform="translate(111.87,146.13) rotate(-10.63)">
<ellipse rx="4.28" ry="1.85" fill="#eef5f0"/>
<path d="M-2.03,3.02 A5.94,3.22 0 0 1 -5.87,0.47" fill="none" stroke="#f08a30" stroke-width="1.08" stroke-linecap="round"/>
<path d="M-2.3,-2.97 A5.94,3.22 0 0 1 2.24,-2.98" fill="none" stroke="#f3a040" stroke-width="1.24" stroke-linecap="round"/>
<path d="M-0.14,-3.22 A5.94,3.22 0 0 1 5.73,-0.85" fill="none" stroke="#f08a30" stroke-width="1.23" stroke-linecap="round"/>
</g>
<g transform="translate(120.5,149.53) rotate(-1.85)">
<ellipse rx="4.75" ry="2.02" fill="#eef5f0"/>
<path d="M-6.27,0.9 A6.49,3.42 0 0 1 -5.87,-1.47" fill="none" stroke="#f07028" stroke-width="1.35" stroke-linecap="round"/>
<path d="M3.75,2.79 A6.49,3.42 0 0 1 -3.6,2.85" fill="none" stroke="#e8601e" stroke-width="1.27" stroke-linecap="round"/>
<path d="M6.22,-0.98 A6.49,3.42 0 0 1 3.44,2.9" fill="none" stroke="#e8601e" stroke-width="1.23" stroke-linecap="round"/>
</g>
<g transform="translate(131.78,152.52) rotate(5.01)">
<ellipse rx="4.78" ry="2.08" fill="#eef5f0"/>
<path d="M-6.03,-1.34 A6.52,3.5 0 0 1 0.66,-3.49" fill="none" stroke="#e0481c" stroke-width="1.12" stroke-linecap="round"/>
<path d="M-4.82,2.36 A6.52,3.5 0 0 1 -6.52,-0.15" fill="none" stroke="#e8601e" stroke-width="0.95" stroke-linecap="round"/>
<path d="M-2.88,-3.14 A6.52,3.5 0 0 1 4.73,-2.41" fill="none" stroke="#f07028" stroke-width="1" stroke-linecap="round"/>
</g>
<g transform="translate(143.37,157.18) rotate(-11.42)">
<ellipse rx="4.75" ry="1.94" fill="#eef5f0"/>
<path d="M6.46,-0.27 A6.49,3.32 0 0 1 3.69,2.73" fill="none" stroke="#f08a30" stroke-width="1.07" stroke-linecap="round"/>
<path d="M2.87,-2.98 A6.49,3.32 0 0 1 6.14,1.07" fill="none" stroke="#f07028" stroke-width="1.22" stroke-linecap="round"/>
<path d="M0.67,-3.3 A6.49,3.32 0 0 1 6.45,-0.37" fill="none" stroke="#f3a040" stroke-width="1.14" stroke-linecap="round"/>
</g>
<g transform="translate(101.03,131.89) rotate(-6.28)">
<ellipse rx="4.78" ry="2.25" fill="#eef5f0"/>
<path d="M1.56,-3.6 A6.52,3.71 0 0 1 5.91,-1.56" fill="none" stroke="#e8601e" stroke-width="1.16" stroke-linecap="round"/>
<path d="M-0.43,3.7 A6.52,3.71 0 0 1 -5.18,2.25" fill="none" stroke="#e0481c" stroke-width="1.23" stroke-linecap="round"/>
<path d="M5.12,2.29 A6.52,3.71 0 0 1 -0.64,3.69" fill="none" stroke="#e8601e" stroke-width="1.07" stroke-linecap="round"/>
</g>
<g transform="translate(107.36,136.01) rotate(-2.3)">
<ellipse rx="4.76" ry="2.03" fill="#eef5f0"/>
<path d="M-1.94,3.28 A6.5,3.44 0 0 1 -6.04,1.27" fill="none" stroke="#e8601e" stroke-width="1.15" stroke-linecap="round"/>
<path d="M4.09,2.67 A6.5,3.44 0 0 1 -3.62,2.86" fill="none" stroke="#e8601e" stroke-width="1.4" stroke-linecap="round"/>
<path d="M-1.76,-3.31 A6.5,3.44 0 0 1 6,-1.32" fill="none" stroke="#e8601e" stroke-width="1.37" stroke-linecap="round"/>
</g>
<g transform="translate(120.05,139.12) rotate(-1.62)">
<ellipse rx="4.01" ry="1.7" fill="#eef5f0"/>
<path d="M-1.84,-2.86 A5.62,3.03 0 0 1 3.3,-2.45" fill="none" stroke="#e0481c" stroke-width="1.03" stroke-linecap="round"/>
<path d="M4.16,-2.04 A5.62,3.03 0 0 1 5.32,0.96" fill="none" stroke="#f07028" stroke-width="1.02" stroke-linecap="round"/>
<path d="M-5.1,-1.27 A5.62,3.03 0 0 1 0,-3.03" fill="none" stroke="#f08a30" stroke-width="1.18" stroke-linecap="round"/>
</g>
<g transform="translate(132.87,144.55) rotate(-1.17)">
<ellipse rx="5.09" ry="2.52" fill="#eef5f0"/>
<path d="M4.94,2.82 A6.89,4.05 0 0 1 -3.65,3.43" fill="none" stroke="#e0481c" stroke-width="1.24" stroke-linecap="round"/>
<path d="M-4.51,3.07 A6.89,4.05 0 0 1 -6.21,-1.76" fill="none" stroke="#e0481c" stroke-width="1.32" stroke-linecap="round"/>
<path d="M2.72,3.72 A6.89,4.05 0 0 1 -4.61,3.01" fill="none" stroke="#f08a30" stroke-width="1.13" stroke-linecap="round"/>
</g>
<g transform="translate(143.83,147.72) rotate(-9.51)">
<ellipse rx="5.02" ry="2.6" fill="#eef5f0"/>
<path d="M0.24,-4.14 A6.8,4.15 0 0 1 6.72,-0.65" fill="none" stroke="#f3a040" stroke-width="1.21" stroke-linecap="round"/>
<path d="M-4.34,-3.19 A6.8,4.15 0 0 1 3.95,-3.37" fill="none" stroke="#f07028" stroke-width="1" stroke-linecap="round"/>
<path d="M-6.66,0.83 A6.8,4.15 0 0 1 -5.57,-2.38" fill="none" stroke="#f3a040" stroke-width="0.96" stroke-linecap="round"/>
</g>
<g transform="translate(152.89,150.71) rotate(4.77)">
<ellipse rx="4.07" ry="1.73" fill="#eef5f0"/>
<path d="M5.37,1.01 A5.68,3.06 0 0 1 -0.52,3.05" fill="none" stroke="#f07028" stroke-width="1.1" stroke-linecap="round"/>
<path d="M-5.68,0.05 A5.68,3.06 0 0 1 -4.1,-2.12" fill="none" stroke="#e0481c" stroke-width="1.11" stroke-linecap="round"/>
<path d="M-4.06,-2.14 A5.68,3.06 0 0 1 2.51,-2.75" fill="none" stroke="#f3a040" stroke-width="1.28" stroke-linecap="round"/>
</g>
<ellipse cx="100.72" cy="183.7" rx="1.47" ry="0.6" fill="#f4a040" transform="rotate(-10.92 100.72 183.7)"/>
<ellipse cx="94.24" cy="159.69" rx="1.52" ry="0.6" fill="#f4a040" transform="rotate(-20.36 94.24 159.69)"/>
<ellipse cx="105.08" cy="151.54" rx="0.82" ry="0.6" fill="#f08030" transform="rotate(-24.47 105.08 151.54)"/>
<ellipse cx="117.03" cy="152.26" rx="1.1" ry="0.6" fill="#e85a20" transform="rotate(30.23 117.03 152.26)"/>
<ellipse cx="78.09" cy="161.23" rx="0.86" ry="0.6" fill="#f08030" transform="rotate(41.33 78.09 161.23)"/>
<ellipse cx="70.29" cy="176.89" rx="1.58" ry="0.6" fill="#e85a20" transform="rotate(23.39 70.29 176.89)"/>
<ellipse cx="105.78" cy="141.39" rx="1.05" ry="0.6" fill="#e85a20" transform="rotate(52.83 105.78 141.39)"/>
<ellipse cx="149.97" cy="183.96" rx="1.38" ry="0.6" fill="#f4a040" transform="rotate(-15.75 149.97 183.96)"/>
<ellipse cx="108.27" cy="159.58" rx="0.93" ry="0.6" fill="#f4a040" transform="rotate(29.59 108.27 159.58)"/>
<ellipse cx="110.85" cy="178.59" rx="0.88" ry="0.6" fill="#f08030" transform="rotate(-45.14 110.85 178.59)"/>
<ellipse cx="107.2" cy="181.25" rx="0.8" ry="0.6" fill="#f08030" transform="rotate(27.38 107.2 181.25)"/>
<ellipse cx="42.99" cy="137.63" rx="1.15" ry="0.6" fill="#e85a20" transform="rotate(37.85 42.99 137.63)"/>
<ellipse cx="89.66" cy="147.96" rx="1.27" ry="0.6" fill="#f08030" transform="rotate(-23.25 89.66 147.96)"/>
<ellipse cx="96.86" cy="145.57" rx="1.06" ry="0.6" fill="#f08030" transform="rotate(52.07 96.86 145.57)"/>
<ellipse cx="162.16" cy="154.47" rx="0.97" ry="0.6" fill="#e85a20" transform="rotate(43.08 162.16 154.47)"/>
<ellipse cx="126.57" cy="131.3" rx="1.05" ry="0.6" fill="#e85a20" transform="rotate(47.92 126.57 131.3)"/>
<ellipse cx="42" cy="163.58" rx="1.36" ry="0.6" fill="#f4a040" transform="rotate(-35.76 42 163.58)"/>
<ellipse cx="119.05" cy="138.72" rx="1.5" ry="0.6" fill="#f08030" transform="rotate(18.01 119.05 138.72)"/>
<ellipse cx="78.26" cy="173.79" rx="1.57" ry="0.6" fill="#e85a20" transform="rotate(44.35 78.26 173.79)"/>
<ellipse cx="129.14" cy="135.55" rx="1.36" ry="0.6" fill="#e85a20" transform="rotate(-10.18 129.14 135.55)"/>
<ellipse cx="61.17" cy="176.25" rx="0.9" ry="0.6" fill="#f4a040" transform="rotate(-36.42 61.17 176.25)"/>
<ellipse cx="62.63" cy="141.18" rx="1.33" ry="0.6" fill="#e85a20" transform="rotate(-15.3 62.63 141.18)"/>
<ellipse cx="122.75" cy="177.53" rx="1.27" ry="0.6" fill="#f08030" transform="rotate(57.26 122.75 177.53)"/>
<ellipse cx="151.94" cy="138.11" rx="0.98" ry="0.6" fill="#f08030" transform="rotate(16.79 151.94 138.11)"/>
<ellipse cx="51.25" cy="183.05" rx="1.15" ry="0.6" fill="#f4a040" transform="rotate(-51.14 51.25 183.05)"/>
<ellipse cx="153.42" cy="128.39" rx="1.27" ry="0.6" fill="#f4a040" transform="rotate(-29.89 153.42 128.39)"/>
<ellipse cx="140.4" cy="132.88" rx="1.03" ry="0.6" fill="#f08030" transform="rotate(-30.49 140.4 132.88)"/>
<ellipse cx="74.89" cy="158.69" rx="0.95" ry="0.6" fill="#f08030" transform="rotate(58.53 74.89 158.69)"/>
<ellipse cx="44.2" cy="153.85" rx="1.4" ry="0.6" fill="#e85a20" transform="rotate(-59.68 44.2 153.85)"/>
<ellipse cx="151.44" cy="131.37" rx="0.85" ry="0.6" fill="#f4a040" transform="rotate(49.16 151.44 131.37)"/>
<ellipse cx="80.1" cy="155.08" rx="0.83" ry="0.6" fill="#e85a20" transform="rotate(0.68 80.1 155.08)"/>
<ellipse cx="145.67" cy="166.32" rx="1.22" ry="0.6" fill="#f4a040" transform="rotate(-39.13 145.67 166.32)"/>
<ellipse cx="137.46" cy="137.25" rx="1.29" ry="0.6" fill="#f08030" transform="rotate(20.21 137.46 137.25)"/>
<ellipse cx="108.48" cy="142.35" rx="1.37" ry="0.6" fill="#f4a040" transform="rotate(-31.69 108.48 142.35)"/>
<ellipse cx="101.14" cy="140.39" rx="1.26" ry="0.6" fill="#e85a20" transform="rotate(-28.64 101.14 140.39)"/>
<ellipse cx="65.31" cy="182.36" rx="0.84" ry="0.6" fill="#e85a20" transform="rotate(44.75 65.31 182.36)"/>
<ellipse cx="62.5" cy="136.5" rx="0.81" ry="0.6" fill="#e85a20" transform="rotate(36.74 62.5 136.5)"/>
<ellipse cx="102.96" cy="168.5" rx="1.49" ry="0.6" fill="#f08030" transform="rotate(-51.3 102.96 168.5)"/>
<ellipse cx="153.41" cy="159.86" rx="1.23" ry="0.6" fill="#f4a040" transform="rotate(-31.44 153.41 159.86)"/>
<ellipse cx="58.28" cy="145.42" rx="0.83" ry="0.6" fill="#e85a20" transform="rotate(38.36 58.28 145.42)"/>
<ellipse cx="132.31" cy="171.72" rx="1.41" ry="0.6" fill="#e85a20" transform="rotate(-49.38 132.31 171.72)"/>
<ellipse cx="142.57" cy="137.61" rx="1" ry="0.6" fill="#f08030" transform="rotate(-0.38 142.57 137.61)"/>
<ellipse cx="122.38" cy="161.37" rx="1.16" ry="0.6" fill="#e85a20" transform="rotate(-10.72 122.38 161.37)"/>
<ellipse cx="85.55" cy="140.12" rx="1.58" ry="0.6" fill="#f08030" transform="rotate(-44.59 85.55 140.12)"/>
<ellipse cx="134.43" cy="161.64" rx="0.91" ry="0.6" fill="#f4a040" transform="rotate(-5.36 134.43 161.64)"/>
</g></g>
<defs><linearGradient id="cbs" x1="0" x2="1" y1="0" y2="0"><stop offset="0" stop-color="#5a3aa0"/><stop offset="0.15" stop-color="#5070d0"/><stop offset="0.35" stop-color="#90d8f0"/><stop offset="0.5" stop-color="#f6f8f0"/><stop offset="0.65" stop-color="#f0e070"/><stop offset="0.82" stop-color="#f07030"/><stop offset="1" stop-color="#b01850"/></linearGradient></defs>
<g transform="translate(100.9,123.0) rotate(18.2)"><rect x="0" y="0" width="60" height="3.3" fill="url(#cbs)"/></g>
<g transform="translate(107.2,123.4) rotate(18.2)" font-size="4.2" fill="#444"><text x="0" y="0">-5</text><text x="44" y="0">5</text></g>
<g transform="translate(121.0,124.0) rotate(18.2)"><text x="0" y="0" font-size="4.6" fill="#333"  style="font-family:'Liberation Sans', Arial, Helvetica, sans-serif"><tspan font-style="italic">P</tspan>(&#956;C cm<tspan font-size="3" dy="-1.5">-2</tspan><tspan dy="1.5">)</tspan></text></g>
<path d="M92,91 V136" stroke="#8a8c90" stroke-width="2.6"/><path d="M92,142.5 l-2.8,-7 h5.6z" fill="#8a8c90"/>
<g transform="matrix(1,0.297,0,1,41.6,139.6)"><text x="0" y="0" font-size="9.8" fill="#1a1a1a" font-weight="bold" textLength="71" lengthAdjust="spacingAndGlyphs" stroke="#1a1a1a" stroke-width="0.35" style="font-family:'Liberation Sans', Arial, Helvetica, sans-serif">Transient polar phase</text></g>
<defs><linearGradient id="sph" x1="0.8" y1="0" x2="0.2" y2="1"><stop offset="0" stop-color="#eef0f8"/><stop offset="0.45" stop-color="#a8b0d0"/><stop offset="1" stop-color="#1c2a6a"/></linearGradient></defs>
<ellipse cx="173.2" cy="188.9" rx="9.3" ry="10.8" fill="url(#sph)" transform="rotate(-20 173.2 188.9)"/>
<path d="M173.2,189 L173.2,194.5 L182,197.5 Z" fill="#182460" opacity="0.5"/>
<path d="M173.2,177.6 V189 L181.6,191.6" stroke="#222" stroke-width="0.7" fill="none"/>
<text x="169.2" y="174" font-size="4.4" fill="#333"  style="font-family:'Liberation Sans', Arial, Helvetica, sans-serif">[001]<tspan font-size="3" dy="1">c</tspan></text>
<text x="183.5" y="195.5" font-size="4.4" fill="#333"  style="font-family:'Liberation Sans', Arial, Helvetica, sans-serif">[010]<tspan font-size="3" dy="1">c</tspan></text>
<defs><linearGradient id="cone" x1="0" x2="1" y1="0" y2="0"><stop offset="0" stop-color="#ded0c6"/><stop offset="1" stop-color="#d2c0b2"/></linearGradient><linearGradient id="plateF" x1="0" x2="0" y1="0" y2="1"><stop offset="0" stop-color="#6c6c6e"/><stop offset="1" stop-color="#5a5a5c"/></linearGradient></defs>
<path d="M584,30.5 L645.5,39.5 L645.5,60 L584,77.5 C578.5,70 578.5,38 584,30.5 Z" fill="url(#cone)"/>
<path d="M588,48.2 L645.5,46.2 L645.5,53.5 L588,62.0 C583.5,60.2 583.5,50 588,48.2 Z" fill="#a29698"/>
<path d="M644.6,22 L658.6,27.6 L659.3,72.8 L645.3,67 Z" fill="url(#plateF)"/>
<path d="M658.6,27.6 L671.2,32.5 L671.2,70.5 L659.3,72.8 Z" fill="#a2a2a4"/>
<path d="M644.6,22 L657.5,20.8 L671.2,32.5 L658.6,27.6 Z" fill="#8c8c8e"/>
<path d="M653.6,13 V88" stroke="#333" stroke-width="0.9" stroke-dasharray="3,1.6"/>
<path d="M653.6,9.6 l-1.5,3.4 h3.0 z" fill="#333"/>
<path d="M633.5,32.5 L672.3,59.2" stroke="#222" stroke-width="1" stroke-dasharray="2.5,1.4"/>
<path d="M673.5,60 l-3.4,-0.8 l1.6,-2.4 z" fill="#222"/>
<path d="M595,35.8 C595.06,35.81 595.25,35.83 595.37,35.84 C595.49,35.85 595.62,35.87 595.74,35.88 C595.87,35.89 595.99,35.9 596.11,35.92 C596.24,35.93 596.36,35.94 596.48,35.96 C596.61,35.97 596.73,35.98 596.85,36 C596.98,36.01 597.1,36.02 597.23,36.03 C597.35,36.05 597.47,36.06 597.6,36.07 C597.72,36.09 597.84,36.1 597.97,36.11 C598.09,36.13 598.21,36.14 598.34,36.15 C598.46,36.17 598.58,36.18 598.71,36.19 C598.83,36.2 598.96,36.22 599.08,36.23 C599.2,36.24 599.33,36.26 599.45,36.27 C599.57,36.28 599.7,36.3 599.82,36.31 C599.94,36.32 600.07,36.34 600.19,36.35 C600.32,36.36 600.44,36.37 600.56,36.39 C600.69,36.4 600.81,36.41 600.93,36.43 C601.06,36.44 601.18,36.45 601.3,36.47 C601.43,36.48 601.55,36.49 601.67,36.5 C601.8,36.52 601.92,36.53 602.05,36.54 C602.17,36.56 602.29,36.57 602.42,36.58 C602.54,36.6 602.66,36.61 602.79,36.62 C602.91,36.64 603.03,36.65 603.16,36.66 C603.28,36.67 603.41,36.69 603.53,36.7 C603.65,36.71 603.78,36.73 603.9,36.74 C604.02,36.75 604.15,36.77 604.27,36.78 C604.39,36.79 604.52,36.81 604.64,36.82 C604.77,36.83 604.89,36.84 605.01,36.86 C605.14,36.87 605.26,36.88 605.38,36.9 C605.51,36.91 605.63,36.92 605.75,36.94 C605.88,36.95 606,36.96 606.12,36.97 C606.25,36.99 606.37,37 606.5,37.01 C606.62,37.03 606.74,37.04 606.87,37.05 C606.99,37.07 607.11,37.08 607.24,37.09 C607.36,37.11 607.48,37.12 607.61,37.13 C607.73,37.14 607.86,37.16 607.98,37.17 C608.1,37.18 608.23,37.2 608.35,37.21 C608.47,37.22 608.6,37.24 608.72,37.25 C608.84,37.26 608.97,37.28 609.09,37.29 C609.22,37.3 609.34,37.31 609.46,37.33 C609.59,37.34 609.71,37.35 609.83,37.37 C609.96,37.38 610.08,37.39 610.2,37.41 C610.33,37.42 610.45,37.43 610.58,37.44 C610.7,37.46 610.82,37.47 610.95,37.48 C611.07,37.5 611.19,37.51 611.32,37.52 C611.44,37.53 611.56,37.55 611.69,37.56 C611.81,37.57 611.93,37.58 612.06,37.58 C612.18,37.59 612.31,37.59 612.43,37.58 C612.55,37.57 612.68,37.56 612.8,37.52 C612.92,37.48 613.05,37.44 613.17,37.35 C613.29,37.25 613.42,37.14 613.54,36.96 C613.67,36.77 613.79,36.55 613.91,36.25 C614.04,35.95 614.16,35.58 614.28,35.15 C614.41,34.72 614.53,34.2 614.65,33.69 C614.78,33.17 614.9,32.57 615.02,32.06 C615.15,31.54 615.27,30.99 615.4,30.6 C615.52,30.21 615.64,29.86 615.77,29.71 C615.89,29.56 616.01,29.54 616.14,29.69 C616.26,29.83 616.38,30.16 616.51,30.59 C616.63,31.02 616.76,31.62 616.88,32.24 C617,32.86 617.13,33.61 617.25,34.31 C617.37,35.02 617.5,35.78 617.62,36.47 C617.74,37.16 617.87,37.85 617.99,38.47 C618.12,39.09 618.24,39.67 618.36,40.18 C618.49,40.69 618.61,41.15 618.73,41.52 C618.86,41.89 618.98,42.2 619.1,42.41 C619.23,42.63 619.35,42.76 619.48,42.81 C619.6,42.86 619.72,42.81 619.85,42.72 C619.97,42.62 620.09,42.43 620.22,42.22 C620.34,42.02 620.46,41.74 620.59,41.49 C620.71,41.23 620.83,40.95 620.96,40.7 C621.08,40.45 621.21,40.2 621.33,39.99 C621.45,39.79 621.58,39.61 621.7,39.46 C621.82,39.32 621.95,39.21 622.07,39.12 C622.19,39.03 622.32,38.97 622.44,38.92 C622.57,38.88 622.69,38.86 622.81,38.84 C622.94,38.82 623.06,38.82 623.18,38.82 C623.31,38.82 623.43,38.82 623.55,38.83 C623.68,38.84 623.8,38.85 623.92,38.86 C624.05,38.87 624.17,38.88 624.3,38.9 C624.42,38.91 624.54,38.92 624.67,38.93 C624.79,38.95 624.91,38.96 625.04,38.97 C625.16,38.99 625.28,39 625.41,39.01 C625.53,39.02 625.66,39.04 625.78,39.05 C625.9,39.06 626.03,39.08 626.15,39.09 C626.27,39.1 626.4,39.12 626.52,39.13 C626.64,39.14 626.77,39.16 626.89,39.17 C627.02,39.18 627.14,39.19 627.26,39.21 C627.39,39.22 627.51,39.23 627.63,39.25 C627.76,39.26 627.88,39.27 628,39.29 C628.13,39.3 628.25,39.31 628.38,39.33 C628.5,39.34 628.62,39.35 628.75,39.36 C628.87,39.38 628.99,39.39 629.12,39.4 C629.24,39.42 629.36,39.43 629.49,39.44 C629.61,39.46 629.73,39.47 629.86,39.48 C629.98,39.49 630.11,39.51 630.23,39.52 C630.35,39.53 630.48,39.55 630.6,39.56 C630.72,39.57 630.85,39.59 630.97,39.6 C631.09,39.61 631.22,39.63 631.34,39.64 C631.47,39.65 631.59,39.66 631.71,39.68 C631.84,39.69 631.96,39.7 632.08,39.72 C632.21,39.73 632.33,39.74 632.45,39.76 C632.58,39.77 632.7,39.78 632.83,39.79 C632.95,39.81 633.07,39.82 633.2,39.83 C633.32,39.85 633.44,39.86 633.57,39.87 C633.69,39.89 633.81,39.9 633.94,39.91 C634.06,39.93 634.18,39.94 634.31,39.95 C634.43,39.96 634.56,39.98 634.68,39.99 C634.8,40 634.93,40.02 635.05,40.03 C635.17,40.04 635.3,40.06 635.42,40.07 C635.54,40.08 635.67,40.1 635.79,40.11 C635.92,40.12 636.04,40.13 636.16,40.15 C636.29,40.16 636.41,40.17 636.53,40.19 C636.66,40.2 636.78,40.21 636.9,40.23 C637.03,40.24 637.15,40.25 637.27,40.27 C637.4,40.28 637.52,40.29 637.65,40.3 C637.77,40.32 637.89,40.33 638.02,40.34 C638.14,40.36 638.26,40.37 638.39,40.38 C638.51,40.4 638.63,40.41 638.76,40.42 C638.88,40.43 639.01,40.45 639.13,40.46 C639.25,40.47 639.44,40.49 639.5,40.5" fill="none" stroke="#a0602a" stroke-width="1.2"/>
<path d="M562.5,58.4 L655,47.3" stroke="#c0245a" stroke-width="1.1"/>
<path d="M670.9,45.7 L721,39" stroke="#c83c6a" stroke-width="1"/>
<path d="M604,53.3 L604.17,54.05 L604.34,54.79 L604.51,55.45 L604.67,56 L604.84,56.38 L605.01,56.56 L605.18,56.52 L605.35,56.26 L605.52,55.78 L605.69,55.11 L605.86,54.28 L606.02,53.35 L606.19,52.37 L606.36,51.41 L606.53,50.53 L606.7,49.79 L606.87,49.24 L607.04,48.92 L607.21,48.87 L607.38,49.07 L607.54,49.54 L607.71,50.24 L607.88,51.12 L608.05,52.14 L608.22,53.22 L608.39,54.29 L608.56,55.29 L608.73,56.14 L608.89,56.77 L609.06,57.15 L609.23,57.25 L609.4,57.05 L609.57,56.55 L609.74,55.79 L609.91,54.81 L610.08,53.68 L610.24,52.46 L610.41,51.23 L610.58,50.07 L610.75,49.05 L610.92,48.25 L611.09,47.72 L611.26,47.5 L611.42,47.59 L611.59,48 L611.76,48.7 L611.93,49.64 L612.1,50.77 L612.27,52.01 L612.44,53.28 L612.61,54.49 L612.77,55.56 L612.94,56.42 L613.11,57.02 L613.28,57.3 L613.45,57.25 L613.62,56.87 L613.79,56.18 L613.96,55.23 L614.12,54.07 L614.29,52.78 L614.46,51.43 L614.63,50.13 L614.8,48.95 L614.97,47.96 L615.14,47.24 L615.31,46.82 L615.48,46.74 L615.64,46.99 L615.81,47.57 L615.98,48.42 L616.15,49.49 L616.32,50.71 L616.49,52 L616.66,53.28 L616.83,54.45 L616.99,55.44 L617.16,56.19 L617.33,56.65 L617.5,56.78 L617.67,56.58 L617.84,56.06 L618.01,55.26 L618.17,54.23 L618.34,53.03 L618.51,51.75 L618.68,50.47 L618.85,49.27 L619.02,48.22 L619.19,47.4 L619.36,46.85 L619.52,46.6 L619.69,46.66 L619.86,47.04 L620.03,47.69 L620.2,48.57 L620.37,49.62 L620.54,50.77 L620.71,51.93 L620.88,53.04 L621.04,54.02 L621.21,54.8 L621.38,55.34 L621.55,55.6 L621.72,55.58 L621.89,55.27 L622.06,54.7 L622.23,53.91 L622.39,52.95 L622.56,51.89 L622.73,50.81 L622.9,49.76 L623.07,48.81 L623.24,48.03 L623.41,47.46 L623.58,47.13 L623.74,47.05 L623.91,47.23 L624.08,47.64 L624.25,48.24 L624.42,49 L624.59,49.85 L624.76,50.74 L624.92,51.6 L625.09,52.38 L625.26,53.03 L625.43,53.51 L625.6,53.79 L625.77,53.86 L625.94,53.72 L626.11,53.39 L626.27,52.89 L626.44,52.27 L626.61,51.57 L626.78,50.84 L626.95,50.13 L627.12,49.48 L627.29,48.93 L627.46,48.52 L627.62,48.27 L627.79,48.17 L627.96,48.22 L628.13,48.42 L628.3,48.73 L628.47,49.12 L628.64,49.56 L628.81,50.01 L628.98,50.43 L629.14,50.8 L629.31,51.08 L629.48,51.27 L629.65,51.35 L629.82,51.33 L629.99,51.22 L630.16,51.04 L630.33,50.81 L630.49,50.56 L630.66,50.34 L630.83,50.16 L631,50.06" fill="none" stroke="#c0245a" stroke-width="1.1"/>
<path d="M566,58 L566.09,58 L566.17,58 L566.26,58.02 L566.35,58.05 L566.44,58.08 L566.52,58.13 L566.61,58.17 L566.7,58.22 L566.79,58.27 L566.88,58.32 L566.96,58.36 L567.05,58.39 L567.14,58.41 L567.23,58.41 L567.31,58.41 L567.4,58.38 L567.49,58.34 L567.58,58.28 L567.66,58.21 L567.75,58.11 L567.84,58 L567.92,57.88 L568.01,57.74 L568.1,57.59 L568.19,57.44 L568.27,57.28 L568.36,57.12 L568.45,56.96 L568.54,56.81 L568.62,56.67 L568.71,56.54 L568.8,56.43 L568.89,56.35 L568.98,56.28 L569.06,56.24 L569.15,56.23 L569.24,56.25 L569.33,56.3 L569.41,56.37 L569.5,56.48 L569.59,56.61 L569.67,56.77 L569.76,56.95 L569.85,57.15 L569.94,57.36 L570.02,57.58 L570.11,57.81 L570.2,58.05 L570.29,58.27 L570.38,58.49 L570.46,58.7 L570.55,58.88 L570.64,59.04 L570.73,59.18 L570.81,59.28 L570.9,59.35 L570.99,59.38 L571.08,59.38 L571.16,59.33 L571.25,59.25 L571.34,59.13 L571.42,58.97 L571.51,58.78 L571.6,58.56 L571.69,58.31 L571.77,58.04 L571.86,57.75 L571.95,57.45 L572.04,57.15 L572.12,56.84 L572.21,56.54 L572.3,56.26 L572.39,55.99 L572.48,55.74 L572.56,55.52 L572.65,55.33 L572.74,55.18 L572.83,55.07 L572.91,54.99 L573,54.96 L573.09,54.97 L573.17,55.02 L573.26,55.12 L573.35,55.25 L573.44,55.42 L573.52,55.61 L573.61,55.84 L573.7,56.09 L573.79,56.36 L573.88,56.63 L573.96,56.92 L574.05,57.2 L574.14,57.48 L574.23,57.75 L574.31,57.99 L574.4,58.22 L574.49,58.42 L574.58,58.59 L574.66,58.73 L574.75,58.83 L574.84,58.89 L574.92,58.91 L575.01,58.9 L575.1,58.84 L575.19,58.75 L575.27,58.63 L575.36,58.48 L575.45,58.29 L575.54,58.09 L575.62,57.86 L575.71,57.62 L575.8,57.37 L575.89,57.12 L575.98,56.87 L576.06,56.63 L576.15,56.39 L576.24,56.17 L576.33,55.97 L576.41,55.79 L576.5,55.64 L576.59,55.51 L576.67,55.42 L576.76,55.35 L576.85,55.31 L576.94,55.3 L577.02,55.32 L577.11,55.36 L577.2,55.43 L577.29,55.51 L577.38,55.62 L577.46,55.74 L577.55,55.87 L577.64,56 L577.73,56.14 L577.81,56.28 L577.9,56.42 L577.99,56.54 L578.08,56.66 L578.16,56.76 L578.25,56.85 L578.34,56.92 L578.42,56.98 L578.51,57.02 L578.6,57.04 L578.69,57.04 L578.77,57.03 L578.86,57 L578.95,56.96 L579.04,56.91 L579.12,56.85 L579.21,56.78 L579.3,56.71 L579.39,56.64 L579.48,56.57 L579.56,56.51 L579.65,56.45 L579.74,56.4 L579.83,56.36 L579.91,56.34 L580,56.32" fill="none" stroke="#c0245a" stroke-width="0.9"/>
<path d="M684,43.3 L684.12,43.29 L684.24,43.3 L684.36,43.32 L684.48,43.35 L684.59,43.39 L684.71,43.43 L684.83,43.48 L684.95,43.53 L685.07,43.57 L685.19,43.61 L685.31,43.63 L685.42,43.64 L685.54,43.63 L685.66,43.6 L685.78,43.55 L685.9,43.48 L686.02,43.39 L686.14,43.27 L686.26,43.13 L686.38,42.98 L686.49,42.82 L686.61,42.64 L686.73,42.46 L686.85,42.28 L686.97,42.1 L687.09,41.94 L687.21,41.79 L687.33,41.66 L687.44,41.56 L687.56,41.49 L687.68,41.45 L687.8,41.45 L687.92,41.48 L688.04,41.56 L688.16,41.67 L688.27,41.81 L688.39,41.99 L688.51,42.19 L688.63,42.42 L688.75,42.66 L688.87,42.92 L688.99,43.18 L689.11,43.43 L689.23,43.67 L689.34,43.9 L689.46,44.09 L689.58,44.26 L689.7,44.38 L689.82,44.47 L689.94,44.5 L690.06,44.48 L690.17,44.42 L690.29,44.3 L690.41,44.13 L690.53,43.92 L690.65,43.67 L690.77,43.37 L690.89,43.05 L691.01,42.71 L691.12,42.35 L691.24,41.98 L691.36,41.62 L691.48,41.27 L691.6,40.94 L691.72,40.64 L691.84,40.38 L691.96,40.16 L692.08,40 L692.19,39.89 L692.31,39.83 L692.43,39.84 L692.55,39.9 L692.67,40.02 L692.79,40.19 L692.91,40.42 L693.02,40.68 L693.14,40.99 L693.26,41.32 L693.38,41.67 L693.5,42.03 L693.62,42.39 L693.74,42.74 L693.86,43.07 L693.98,43.37 L694.09,43.64 L694.21,43.86 L694.33,44.03 L694.45,44.15 L694.57,44.22 L694.69,44.22 L694.81,44.17 L694.92,44.06 L695.04,43.89 L695.16,43.67 L695.28,43.41 L695.4,43.11 L695.52,42.79 L695.64,42.44 L695.76,42.07 L695.88,41.71 L695.99,41.35 L696.11,41 L696.23,40.68 L696.35,40.39 L696.47,40.13 L696.59,39.92 L696.71,39.75 L696.83,39.64 L696.94,39.57 L697.06,39.55 L697.18,39.59 L697.3,39.67 L697.42,39.8 L697.54,39.96 L697.66,40.16 L697.77,40.38 L697.89,40.62 L698.01,40.88 L698.13,41.14 L698.25,41.39 L698.37,41.63 L698.49,41.86 L698.61,42.07 L698.73,42.24 L698.84,42.39 L698.96,42.5 L699.08,42.57 L699.2,42.6 L699.32,42.6 L699.44,42.56 L699.56,42.49 L699.67,42.39 L699.79,42.26 L699.91,42.12 L700.03,41.95 L700.15,41.78 L700.27,41.6 L700.39,41.41 L700.51,41.24 L700.62,41.07 L700.74,40.92 L700.86,40.78 L700.98,40.67 L701.1,40.57 L701.22,40.5 L701.34,40.45 L701.46,40.42 L701.58,40.41 L701.69,40.42 L701.81,40.44 L701.93,40.48 L702.05,40.52 L702.17,40.57 L702.29,40.62 L702.41,40.67 L702.52,40.71 L702.64,40.74 L702.76,40.76 L702.88,40.76 L703,40.75" fill="none" stroke="#c83c6a" stroke-width="0.9"/>
<path d="M596,50 V58 a2.5,2.5 0 0 0 5,0 V50" fill="none" stroke="#c0245a" stroke-width="1"/>
<path d="M599,66.5 V75.5 a2.8,2.8 0 0 0 5.6,0 V66.5" fill="none" stroke="#8a4cd0" stroke-width="1.1"/>
<path d="M644.5,58.4 L593.5,72.6" stroke="#8a4cd0" stroke-width="1.1"/>
<path d="M592,73 l3.6,-2.8 l0.6,2.6 z" fill="#8a4cd0"/>
<path d="M605,67.5 L605.16,67.53 L605.33,67.67 L605.49,67.89 L605.65,68.11 L605.81,68.28 L605.98,68.35 L606.14,68.27 L606.3,68.02 L606.46,67.59 L606.62,67.01 L606.79,66.34 L606.95,65.64 L607.11,64.99 L607.27,64.47 L607.44,64.16 L607.6,64.1 L607.76,64.34 L607.92,64.85 L608.09,65.6 L608.25,66.53 L608.41,67.53 L608.58,68.5 L608.74,69.33 L608.9,69.91 L609.06,70.16 L609.23,70.03 L609.39,69.5 L609.55,68.61 L609.71,67.42 L609.88,66.04 L610.04,64.6 L610.2,63.24 L610.36,62.1 L610.52,61.3 L610.69,60.93 L610.85,61.04 L611.01,61.63 L611.17,62.64 L611.34,64 L611.5,65.55 L611.66,67.15 L611.83,68.62 L611.99,69.82 L612.15,70.6 L612.31,70.88 L612.48,70.61 L612.64,69.81 L612.8,68.53 L612.96,66.9 L613.12,65.06 L613.29,63.2 L613.45,61.49 L613.61,60.1 L613.77,59.18 L613.94,58.8 L614.1,59.02 L614.26,59.81 L614.42,61.09 L614.59,62.73 L614.75,64.58 L614.91,66.43 L615.08,68.1 L615.24,69.43 L615.4,70.26 L615.56,70.53 L615.73,70.18 L615.89,69.25 L616.05,67.83 L616.21,66.05 L616.38,64.09 L616.54,62.13 L616.7,60.36 L616.86,58.96 L617.02,58.05 L617.19,57.71 L617.35,57.98 L617.51,58.82 L617.67,60.13 L617.84,61.78 L618,63.6 L618.16,65.4 L618.33,67 L618.49,68.24 L618.65,69 L618.81,69.2 L618.98,68.83 L619.14,67.92 L619.3,66.57 L619.46,64.92 L619.62,63.11 L619.79,61.34 L619.95,59.76 L620.11,58.53 L620.27,57.76 L620.44,57.5 L620.6,57.77 L620.76,58.52 L620.92,59.67 L621.09,61.09 L621.25,62.62 L621.41,64.12 L621.58,65.43 L621.74,66.42 L621.9,67 L622.06,67.12 L622.23,66.77 L622.39,66 L622.55,64.89 L622.71,63.56 L622.88,62.14 L623.04,60.76 L623.2,59.57 L623.36,58.65 L623.52,58.09 L623.69,57.93 L623.85,58.15 L624.01,58.72 L624.17,59.56 L624.34,60.58 L624.5,61.65 L624.66,62.67 L624.83,63.54 L624.99,64.16 L625.15,64.5 L625.31,64.51 L625.48,64.23 L625.64,63.68 L625.8,62.93 L625.96,62.06 L626.12,61.16 L626.29,60.32 L626.45,59.61 L626.61,59.09 L626.77,58.79 L626.94,58.73 L627.1,58.87 L627.26,59.2 L627.42,59.65 L627.59,60.16 L627.75,60.67 L627.91,61.13 L628.08,61.48 L628.24,61.7 L628.4,61.77 L628.56,61.7 L628.73,61.5 L628.89,61.21 L629.05,60.87 L629.21,60.51 L629.38,60.19 L629.54,59.92 L629.7,59.72 L629.86,59.6 L630.02,59.55 L630.19,59.57 L630.35,59.61 L630.51,59.67 L630.67,59.72 L630.84,59.73 L631,59.7" fill="none" stroke="#8a4cd0" stroke-width="1.1"/>
<ellipse cx="722.3" cy="39" rx="3.7" ry="12.6" fill="none" stroke="#c83c6a" stroke-width="1"/>
<path d="M720.5,30 q4,-2 4.5,5" fill="none" stroke="#c83c6a" stroke-width="0.8"/>
<g transform="translate(570.5,21.8) rotate(12)"><text x="0" y="0" font-size="7.6" fill="#a0602a" textLength="30" lengthAdjust="spacingAndGlyphs"  style="font-family:'Liberation Sans', Arial, Helvetica, sans-serif">THz pump</text></g>
<g transform="translate(559.5,47.2) rotate(-3)"><text x="0" y="0" font-size="7.2" fill="#c0245a"  style="font-family:'Liberation Sans', Arial, Helvetica, sans-serif">800 nm probe</text></g>
<text x="569.5" y="68.5" font-size="7" fill="#c0245a"  style="font-family:'Liberation Sans', Arial, Helvetica, sans-serif">LO</text>
<text x="576.5" y="83.3" font-size="7" fill="#8a4cd0"  style="font-family:'Liberation Sans', Arial, Helvetica, sans-serif">SHG</text>
<text x="604.5" y="63.5" font-size="5.5" fill="#c0245a" font-style="italic"  style="font-family:'Liberation Sans', Arial, Helvetica, sans-serif">0</text>
<text x="606.6" y="80.8" font-size="6" fill="#8a4cd0" font-style="italic"  style="font-family:'Liberation Sans', Arial, Helvetica, sans-serif">&#966;</text>
<g transform="translate(658.3,10.6) rotate(-9.5)"><text x="0" y="0" font-size="7.4" fill="#222" textLength="31.5" lengthAdjust="spacingAndGlyphs"  style="font-family:'Liberation Sans', Arial, Helvetica, sans-serif"><tspan font-style="italic">p</tspan>-direction</text></g>
<g transform="translate(677.2,59.4) rotate(-8.5)"><text x="0" y="0" font-size="7.4" fill="#222" textLength="32" lengthAdjust="spacingAndGlyphs"  style="font-family:'Liberation Sans', Arial, Helvetica, sans-serif"><tspan font-style="italic">s</tspan>-direction</text></g>
<g transform="translate(675.3,37.4) rotate(-8)"><text x="0" y="0" font-size="7.4" fill="#c83c6a" textLength="38" lengthAdjust="spacingAndGlyphs"  style="font-family:'Liberation Sans', Arial, Helvetica, sans-serif">Kerr rotation</text></g>
<text x="664.4" y="71.6" font-size="6.8" fill="#333"  style="font-family:'Liberation Sans', Arial, Helvetica, sans-serif">[100]</text>
<text x="672.2" y="85.6" font-size="6.8" fill="#333"  style="font-family:'Liberation Sans', Arial, Helvetica, sans-serif">[010]</text>
<path d="M663.2,66 V75.5 L670.3,81.5" fill="none" stroke="#333" stroke-width="0.8"/>
<text x="534.4" y="8.6" font-size="11" fill="#111" font-weight="bold"  style="font-family:'Liberation Sans', Arial, Helvetica, sans-serif">c</text>
<path d="M569.5,118.7H611.5 M569.5,210.8H611.5" stroke="#333" stroke-width="1" stroke-dasharray="2,1.3"/>
<path d="M625.9,118.7H667.3 M625.9,210.8H667.3" stroke="#333" stroke-width="1" stroke-dasharray="2,1.3"/>
<path d="M679,131.6H720.5 M679,210.8H720.5" stroke="#333" stroke-width="1" stroke-dasharray="2,1.3"/>
<path d="M583.9,210.8V176.22" stroke="#a3164f" stroke-width="2"/><path d="M583.9,173 l2.9,4.6 h-5.8 z" fill="#a3164f"/>
<path d="M583.9,173.5V136.72" stroke="#a3164f" stroke-width="2"/><path d="M583.9,133.5 l2.9,4.6 h-5.8 z" fill="#a3164f"/>
<path d="M583.9,133.5V122.42" stroke="#a0602a" stroke-width="2"/><path d="M583.9,119.2 l2.9,4.6 h-5.8 z" fill="#a0602a"/>
<path d="M597.1,118.7V207.08" stroke="#8a3cc4" stroke-width="2"/><path d="M597.1,210.3 l2.9,-4.6 h-5.8 z" fill="#8a3cc4"/>
<path d="M639.4,210.8V176.22" stroke="#a3164f" stroke-width="2"/><path d="M639.4,173 l2.9,4.6 h-5.8 z" fill="#a3164f"/>
<path d="M639.4,173.5V136.72" stroke="#a3164f" stroke-width="2"/><path d="M639.4,133.5 l2.9,4.6 h-5.8 z" fill="#a3164f"/>
<path d="M639.4,133.5V122.42" stroke="#111" stroke-width="2"/><path d="M639.4,119.2 l2.9,4.6 h-5.8 z" fill="#111"/>
<path d="M652.9,118.7V207.08" stroke="#8a3cc4" stroke-width="2"/><path d="M652.9,210.3 l2.9,-4.6 h-5.8 z" fill="#8a3cc4"/>
<path d="M692.6,210.8V176.22" stroke="#a3164f" stroke-width="2"/><path d="M692.6,173 l2.9,4.6 h-5.8 z" fill="#a3164f"/>
<path d="M692.6,173.5V135.32" stroke="#a3164f" stroke-width="2"/><path d="M692.6,132.1 l2.9,4.6 h-5.8 z" fill="#a3164f"/>
<path d="M706.4,131.6V207.08" stroke="#8a3cc4" stroke-width="2"/><path d="M706.4,210.3 l2.9,-4.6 h-5.8 z" fill="#8a3cc4"/>
<text x="572.4" y="158.5" font-size="6.8" fill="#555" text-anchor="middle" font-style="italic"  style="font-family:'Liberation Sans', Arial, Helvetica, sans-serif">&#969;</text>
<text x="572.4" y="195.5" font-size="6.8" fill="#555" text-anchor="middle" font-style="italic"  style="font-family:'Liberation Sans', Arial, Helvetica, sans-serif">&#969;</text>
<text x="628.4" y="158.5" font-size="6.8" fill="#555" text-anchor="middle" font-style="italic"  style="font-family:'Liberation Sans', Arial, Helvetica, sans-serif">&#969;</text>
<text x="628.4" y="195.5" font-size="6.8" fill="#555" text-anchor="middle" font-style="italic"  style="font-family:'Liberation Sans', Arial, Helvetica, sans-serif">&#969;</text>
<text x="681.5" y="158.5" font-size="6.8" fill="#555" text-anchor="middle" font-style="italic"  style="font-family:'Liberation Sans', Arial, Helvetica, sans-serif">&#969;</text>
<text x="681.5" y="195.5" font-size="6.8" fill="#555" text-anchor="middle" font-style="italic"  style="font-family:'Liberation Sans', Arial, Helvetica, sans-serif">&#969;</text>
<text x="565" y="128.6" font-size="6.5" fill="#555" font-style="italic"  style="font-family:'Liberation Sans', Arial, Helvetica, sans-serif">&#969;<tspan font-size="5" dy="1">THz</tspan></text>
<text x="611" y="128.6" font-size="6.5" fill="#555" font-style="italic"  style="font-family:'Liberation Sans', Arial, Helvetica, sans-serif">&#969;<tspan font-size="5" dy="1">phonon</tspan></text>
<text x="601" y="167.8" font-size="7.2" fill="#555"  style="font-family:'Liberation Sans', Arial, Helvetica, sans-serif">&#8776; 2<tspan font-style="italic">&#969;</tspan></text>
<text x="656.6" y="167.8" font-size="7.2" fill="#555"  style="font-family:'Liberation Sans', Arial, Helvetica, sans-serif">&#8776; 2<tspan font-style="italic">&#969;</tspan></text>
<text x="709.4" y="167.8" font-size="7.2" fill="#555"  style="font-family:'Liberation Sans', Arial, Helvetica, sans-serif">= 2<tspan font-style="italic">&#969;</tspan></text>
<text x="589.5" y="222.5" font-size="8.2" fill="#222" text-anchor="middle" font-weight="bold" font-style="italic"  style="font-family:'Liberation Sans', Arial, Helvetica, sans-serif">FWM</text>
<text x="644.6" y="222.5" font-size="8.2" fill="#222" text-anchor="middle" font-weight="bold" font-style="italic"  style="font-family:'Liberation Sans', Arial, Helvetica, sans-serif">HRS</text>
<text x="697.5" y="222.5" font-size="8.2" fill="#222" text-anchor="middle" font-weight="bold" font-style="italic"  style="font-family:'Liberation Sans', Arial, Helvetica, sans-serif">SHG</text>
<text x="534.5" y="113.8" font-size="11" fill="#111" font-weight="bold"  style="font-family:'Liberation Sans', Arial, Helvetica, sans-serif">d</text>
<rect x="42" y="286.4" width="46.2" height="176.8" fill="#f9eae4"/>
<rect x="102.8" y="286.4" width="21.7" height="176.8" fill="#f9eae4"/>
<rect x="212.4" y="286.4" width="36.2" height="176.8" fill="#f9eae4"/>
<path d="M20.5,374.5H248.6 M20.5,419.7H248.6" stroke="#666" stroke-width="1.3" stroke-dasharray="3,3" fill="none"/>
<path d="M53.7,286.4V463.2" stroke="#857a7a" stroke-width="1.3" stroke-dasharray="2.4,2.4" fill="none"/>
<path d="M21.6,414.4 C21.73,412.7 21.8,405.28 22.4,404.2 C23,403.12 24.27,406.05 25.2,407.9 C26.13,409.75 27.07,415.62 28,415.3 C28.93,414.98 30.02,407.85 30.8,406 C31.58,404.15 31.92,403.42 32.7,404.2 C33.48,404.98 34.57,409.15 35.5,410.7 C36.43,412.25 37.38,412.73 38.3,413.5 C39.22,414.27 40.23,413.9 41,415.3 C41.77,416.7 42.27,419.42 42.9,421.9 C43.53,424.38 44.18,428.18 44.8,430.2 C45.42,432.22 45.98,431.52 46.6,434 C47.22,436.48 47.88,441.55 48.5,445.1 C49.12,448.65 49.75,453.43 50.3,455.3 C50.85,457.17 51.33,457.38 51.8,456.3 C52.27,455.22 52.57,450.97 53.1,448.8 C53.63,446.63 54.37,444.68 55,443.3 C55.63,441.92 56.12,440.35 56.9,440.5 C57.68,440.65 58.32,442.82 59.7,444.2 C61.08,445.58 63.35,447.72 65.2,448.8 C67.05,449.88 68.93,450.7 70.8,450.7 C72.67,450.7 74.53,449.58 76.4,448.8 C78.27,448.02 80.45,447.08 82,446 C83.55,444.92 84.93,443.68 85.7,442.3 C86.47,440.92 86.23,441.88 86.6,437.7 C86.97,433.52 87.43,423.72 87.9,417.2 C88.37,410.68 88.68,403.1 89.4,398.6 C90.12,394.1 90.95,392.22 92.2,390.2 C93.45,388.18 95.65,386.8 96.9,386.5 C98.15,386.2 99.02,386.38 99.7,388.4 C100.38,390.42 100.6,394.42 101,398.6 C101.4,402.78 101.7,408.23 102.1,413.5 C102.5,418.77 102.88,426.78 103.4,430.2 C103.92,433.62 104.43,434.47 105.2,434 C105.97,433.53 107.07,428.33 108,427.4 C108.93,426.47 109.87,426.68 110.8,428.4 C111.73,430.12 112.67,435.53 113.6,437.7 C114.53,439.87 115.17,440.47 116.4,441.4 C117.63,442.33 119.92,443.3 121,443.3 C122.08,443.3 122.27,444.5 122.9,441.4 C123.53,438.3 124.18,431.52 124.8,424.7 C125.42,417.88 125.68,405.47 126.6,400.5 C127.52,395.53 129.12,396.15 130.3,394.9 C131.48,393.65 132.2,393.57 133.7,393 C135.2,392.43 137.43,391.8 139.3,391.5 C141.17,391.2 143.03,390.95 144.9,391.2 C146.77,391.45 148.65,392.63 150.5,393 C152.35,393.37 154.15,393.65 156,393.4 C157.85,393.15 160.2,392.33 161.6,391.5 C163,390.67 163.47,389.7 164.4,388.4 C165.33,387.1 166.27,383.55 167.2,383.7 C168.13,383.85 169.07,387.58 170,389.3 C170.93,391.02 171.72,393.63 172.8,394 C173.88,394.37 175.42,392.13 176.5,391.5 C177.58,390.87 178.37,389.48 179.3,390.2 C180.23,390.92 181.02,394.08 182.1,395.8 C183.18,397.52 184.57,398.8 185.8,400.5 C187.03,402.2 188.25,404.62 189.5,406 C190.75,407.38 192.05,409.1 193.3,408.8 C194.55,408.5 195.77,405.65 197,404.2 C198.23,402.75 199.47,400.42 200.7,400.1 C201.93,399.78 203,401.32 204.4,402.3 C205.8,403.28 208.1,404.13 209.1,406 C210.1,407.87 210,410.38 210.4,413.5 C210.8,416.62 211.1,420.98 211.5,424.7 C211.9,428.42 212.27,431.93 212.8,435.8 C213.33,439.67 213.93,445.1 214.7,447.9 C215.47,450.7 216.32,450.58 217.4,452.6 C218.48,454.62 220.1,459.23 221.2,460 C222.3,460.77 223.08,458.43 224,457.2 C224.92,455.97 225.62,453.53 226.7,452.6 C227.78,451.67 229.25,451.3 230.5,451.6 C231.75,451.9 232.97,454.87 234.2,454.4 C235.43,453.93 236.67,448.8 237.9,448.8 C239.13,448.8 240.52,453.15 241.6,454.4 C242.68,455.65 243.62,457.53 244.4,456.3 C245.18,455.07 245.98,448.55 246.3,447" fill="none" stroke="#9ed08e" stroke-width="3.0" stroke-linejoin="round"/>
<path d="M21.6,414.4 C21.73,412.7 21.8,405.28 22.4,404.2 C23,403.12 24.27,406.05 25.2,407.9 C26.13,409.75 27.07,415.62 28,415.3 C28.93,414.98 30.02,407.85 30.8,406 C31.58,404.15 31.92,403.42 32.7,404.2 C33.48,404.98 34.57,409.15 35.5,410.7 C36.43,412.25 37.38,412.73 38.3,413.5 C39.22,414.27 40.23,413.9 41,415.3 C41.77,416.7 42.27,419.42 42.9,421.9 C43.53,424.38 44.18,428.18 44.8,430.2 C45.42,432.22 45.98,431.52 46.6,434 C47.22,436.48 47.88,441.55 48.5,445.1 C49.12,448.65 49.75,453.43 50.3,455.3 C50.85,457.17 51.33,457.38 51.8,456.3 C52.27,455.22 52.57,450.97 53.1,448.8 C53.63,446.63 54.37,444.68 55,443.3 C55.63,441.92 56.12,440.35 56.9,440.5 C57.68,440.65 58.32,442.82 59.7,444.2 C61.08,445.58 63.35,447.72 65.2,448.8 C67.05,449.88 68.93,450.7 70.8,450.7 C72.67,450.7 74.53,449.58 76.4,448.8 C78.27,448.02 80.45,447.08 82,446 C83.55,444.92 84.93,443.68 85.7,442.3 C86.47,440.92 86.23,441.88 86.6,437.7 C86.97,433.52 87.43,423.72 87.9,417.2 C88.37,410.68 88.68,403.1 89.4,398.6 C90.12,394.1 90.95,392.22 92.2,390.2 C93.45,388.18 95.65,386.8 96.9,386.5 C98.15,386.2 99.02,386.38 99.7,388.4 C100.38,390.42 100.6,394.42 101,398.6 C101.4,402.78 101.7,408.23 102.1,413.5 C102.5,418.77 102.88,426.78 103.4,430.2 C103.92,433.62 104.43,434.47 105.2,434 C105.97,433.53 107.07,428.33 108,427.4 C108.93,426.47 109.87,426.68 110.8,428.4 C111.73,430.12 112.67,435.53 113.6,437.7 C114.53,439.87 115.17,440.47 116.4,441.4 C117.63,442.33 119.92,443.3 121,443.3 C122.08,443.3 122.27,444.5 122.9,441.4 C123.53,438.3 124.18,431.52 124.8,424.7 C125.42,417.88 125.68,405.47 126.6,400.5 C127.52,395.53 129.12,396.15 130.3,394.9 C131.48,393.65 132.2,393.57 133.7,393 C135.2,392.43 137.43,391.8 139.3,391.5 C141.17,391.2 143.03,390.95 144.9,391.2 C146.77,391.45 148.65,392.63 150.5,393 C152.35,393.37 154.15,393.65 156,393.4 C157.85,393.15 160.2,392.33 161.6,391.5 C163,390.67 163.47,389.7 164.4,388.4 C165.33,387.1 166.27,383.55 167.2,383.7 C168.13,383.85 169.07,387.58 170,389.3 C170.93,391.02 171.72,393.63 172.8,394 C173.88,394.37 175.42,392.13 176.5,391.5 C177.58,390.87 178.37,389.48 179.3,390.2 C180.23,390.92 181.02,394.08 182.1,395.8 C183.18,397.52 184.57,398.8 185.8,400.5 C187.03,402.2 188.25,404.62 189.5,406 C190.75,407.38 192.05,409.1 193.3,408.8 C194.55,408.5 195.77,405.65 197,404.2 C198.23,402.75 199.47,400.42 200.7,400.1 C201.93,399.78 203,401.32 204.4,402.3 C205.8,403.28 208.1,404.13 209.1,406 C210.1,407.87 210,410.38 210.4,413.5 C210.8,416.62 211.1,420.98 211.5,424.7 C211.9,428.42 212.27,431.93 212.8,435.8 C213.33,439.67 213.93,445.1 214.7,447.9 C215.47,450.7 216.32,450.58 217.4,452.6 C218.48,454.62 220.1,459.23 221.2,460 C222.3,460.77 223.08,458.43 224,457.2 C224.92,455.97 225.62,453.53 226.7,452.6 C227.78,451.67 229.25,451.3 230.5,451.6 C231.75,451.9 232.97,454.87 234.2,454.4 C235.43,453.93 236.67,448.8 237.9,448.8 C239.13,448.8 240.52,453.15 241.6,454.4 C242.68,455.65 243.62,457.53 244.4,456.3 C245.18,455.07 245.98,448.55 246.3,447" fill="none" stroke="#d8eed0" stroke-width="1.3" stroke-linejoin="round"/>
<path d="M21.6,414.4 C21.73,412.7 21.8,405.28 22.4,404.2 C23,403.12 24.27,406.05 25.2,407.9 C26.13,409.75 27.07,415.62 28,415.3 C28.93,414.98 30.02,407.85 30.8,406 C31.58,404.15 31.92,403.42 32.7,404.2 C33.48,404.98 34.57,409.15 35.5,410.7 C36.43,412.25 37.38,412.73 38.3,413.5 C39.22,414.27 40.23,413.9 41,415.3 C41.77,416.7 42.27,419.42 42.9,421.9 C43.53,424.38 44.18,428.18 44.8,430.2 C45.42,432.22 45.98,431.52 46.6,434 C47.22,436.48 47.88,441.55 48.5,445.1 C49.12,448.65 49.75,453.43 50.3,455.3 C50.85,457.17 51.33,457.38 51.8,456.3 C52.27,455.22 52.57,450.97 53.1,448.8 C53.63,446.63 54.37,444.68 55,443.3 C55.63,441.92 56.12,440.35 56.9,440.5 C57.68,440.65 58.32,442.82 59.7,444.2 C61.08,445.58 63.35,447.72 65.2,448.8 C67.05,449.88 68.93,450.7 70.8,450.7 C72.67,450.7 74.53,449.58 76.4,448.8 C78.27,448.02 80.45,447.08 82,446 C83.55,444.92 84.93,443.68 85.7,442.3 C86.47,440.92 86.23,441.88 86.6,437.7 C86.97,433.52 87.43,423.72 87.9,417.2 C88.37,410.68 88.68,403.1 89.4,398.6 C90.12,394.1 90.95,392.22 92.2,390.2 C93.45,388.18 95.65,386.8 96.9,386.5 C98.15,386.2 99.02,386.38 99.7,388.4 C100.38,390.42 100.6,394.42 101,398.6 C101.4,402.78 101.7,408.23 102.1,413.5 C102.5,418.77 102.88,426.78 103.4,430.2 C103.92,433.62 104.43,434.47 105.2,434 C105.97,433.53 107.07,428.33 108,427.4 C108.93,426.47 109.87,426.68 110.8,428.4 C111.73,430.12 112.67,435.53 113.6,437.7 C114.53,439.87 115.17,440.47 116.4,441.4 C117.63,442.33 119.92,443.3 121,443.3 C122.08,443.3 122.27,444.5 122.9,441.4 C123.53,438.3 124.18,431.52 124.8,424.7 C125.42,417.88 125.68,405.47 126.6,400.5 C127.52,395.53 129.12,396.15 130.3,394.9 C131.48,393.65 132.2,393.57 133.7,393 C135.2,392.43 137.43,391.8 139.3,391.5 C141.17,391.2 143.03,390.95 144.9,391.2 C146.77,391.45 148.65,392.63 150.5,393 C152.35,393.37 154.15,393.65 156,393.4 C157.85,393.15 160.2,392.33 161.6,391.5 C163,390.67 163.47,389.7 164.4,388.4 C165.33,387.1 166.27,383.55 167.2,383.7 C168.13,383.85 169.07,387.58 170,389.3 C170.93,391.02 171.72,393.63 172.8,394 C173.88,394.37 175.42,392.13 176.5,391.5 C177.58,390.87 178.37,389.48 179.3,390.2 C180.23,390.92 181.02,394.08 182.1,395.8 C183.18,397.52 184.57,398.8 185.8,400.5 C187.03,402.2 188.25,404.62 189.5,406 C190.75,407.38 192.05,409.1 193.3,408.8 C194.55,408.5 195.77,405.65 197,404.2 C198.23,402.75 199.47,400.42 200.7,400.1 C201.93,399.78 203,401.32 204.4,402.3 C205.8,403.28 208.1,404.13 209.1,406 C210.1,407.87 210,410.38 210.4,413.5 C210.8,416.62 211.1,420.98 211.5,424.7 C211.9,428.42 212.27,431.93 212.8,435.8 C213.33,439.67 213.93,445.1 214.7,447.9 C215.47,450.7 216.32,450.58 217.4,452.6 C218.48,454.62 220.1,459.23 221.2,460 C222.3,460.77 223.08,458.43 224,457.2 C224.92,455.97 225.62,453.53 226.7,452.6 C227.78,451.67 229.25,451.3 230.5,451.6 C231.75,451.9 232.97,454.87 234.2,454.4 C235.43,453.93 236.67,448.8 237.9,448.8 C239.13,448.8 240.52,453.15 241.6,454.4 C242.68,455.65 243.62,457.53 244.4,456.3 C245.18,455.07 245.98,448.55 246.3,447" fill="none" stroke="#62b450" stroke-width="0.6" stroke-linejoin="round"/>
<path d="M21.6,413l1.3,2.2h-2.6z M22.4,402.8l1.3,2.2h-2.6z M25.2,406.5l1.3,2.2h-2.6z M28,413.9l1.3,2.2h-2.6z M30.8,404.6l1.3,2.2h-2.6z M32.7,402.8l1.3,2.2h-2.6z M35.5,409.3l1.3,2.2h-2.6z M38.3,412.1l1.3,2.2h-2.6z M41,413.9l1.3,2.2h-2.6z M42.9,420.5l1.3,2.2h-2.6z M44.8,428.8l1.3,2.2h-2.6z M46.6,432.6l1.3,2.2h-2.6z M48.5,443.7l1.3,2.2h-2.6z M50.3,453.9l1.3,2.2h-2.6z M51.8,454.9l1.3,2.2h-2.6z M53.1,447.4l1.3,2.2h-2.6z M55,441.9l1.3,2.2h-2.6z M56.9,439.1l1.3,2.2h-2.6z M59.7,442.8l1.3,2.2h-2.6z M65.2,447.4l1.3,2.2h-2.6z M70.8,449.3l1.3,2.2h-2.6z M76.4,447.4l1.3,2.2h-2.6z M82,444.6l1.3,2.2h-2.6z M85.7,440.9l1.3,2.2h-2.6z M86.6,436.3l1.3,2.2h-2.6z M87.9,415.8l1.3,2.2h-2.6z M89.4,397.2l1.3,2.2h-2.6z M92.2,388.8l1.3,2.2h-2.6z M96.9,385.1l1.3,2.2h-2.6z M99.7,387l1.3,2.2h-2.6z M101,397.2l1.3,2.2h-2.6z M102.1,412.1l1.3,2.2h-2.6z M103.4,428.8l1.3,2.2h-2.6z M105.2,432.6l1.3,2.2h-2.6z M108,426l1.3,2.2h-2.6z M110.8,427l1.3,2.2h-2.6z M113.6,436.3l1.3,2.2h-2.6z M116.4,440l1.3,2.2h-2.6z M121,441.9l1.3,2.2h-2.6z M122.9,440l1.3,2.2h-2.6z M124.8,423.3l1.3,2.2h-2.6z M126.6,399.1l1.3,2.2h-2.6z M130.3,393.5l1.3,2.2h-2.6z M133.7,391.6l1.3,2.2h-2.6z M139.3,390.1l1.3,2.2h-2.6z M144.9,389.8l1.3,2.2h-2.6z M150.5,391.6l1.3,2.2h-2.6z M156,392l1.3,2.2h-2.6z M161.6,390.1l1.3,2.2h-2.6z M164.4,387l1.3,2.2h-2.6z M167.2,382.3l1.3,2.2h-2.6z M170,387.9l1.3,2.2h-2.6z M172.8,392.6l1.3,2.2h-2.6z M176.5,390.1l1.3,2.2h-2.6z M179.3,388.8l1.3,2.2h-2.6z M182.1,394.4l1.3,2.2h-2.6z M185.8,399.1l1.3,2.2h-2.6z M189.5,404.6l1.3,2.2h-2.6z M193.3,407.4l1.3,2.2h-2.6z M197,402.8l1.3,2.2h-2.6z M200.7,398.7l1.3,2.2h-2.6z M204.4,400.9l1.3,2.2h-2.6z M209.1,404.6l1.3,2.2h-2.6z M210.4,412.1l1.3,2.2h-2.6z M211.5,423.3l1.3,2.2h-2.6z M212.8,434.4l1.3,2.2h-2.6z M214.7,446.5l1.3,2.2h-2.6z M217.4,451.2l1.3,2.2h-2.6z M221.2,458.6l1.3,2.2h-2.6z M224,455.8l1.3,2.2h-2.6z M226.7,451.2l1.3,2.2h-2.6z M230.5,450.2l1.3,2.2h-2.6z M234.2,453l1.3,2.2h-2.6z M237.9,447.4l1.3,2.2h-2.6z M241.6,453l1.3,2.2h-2.6z M244.4,454.9l1.3,2.2h-2.6z M246.3,445.6l1.3,2.2h-2.6z" fill="none" stroke="#78c068" stroke-width="0.5"/>
<path d="M18.5,373.4 L25,373.6 L32,373.3 L40,373.6 L48,373.2 L55,372.8 L61,371.2 L64.1,368.8 L68.3,364.7 L70.3,360.6 L71.4,356.4 L72.8,351.3 L74.5,342 L76.1,331.2 L77.6,323.4 L79,316.2 L80.7,313.1 L82.3,316.2 L84.4,326.5 L85.8,343 L87.3,366.8 L88.9,344 L90.6,320.3 L92.6,306.9 L95.1,315.1 L97.2,327.5 L98.8,339.9 L100.3,352.3 L102.4,364.7 L103.4,369.9 L107.2,365.4 L112.3,368.5 L117.5,369.5 L121.6,372.6 L122.6,377.7 L124.7,370.5 L128.8,366.8 L133.9,368.1 L139,364.4 L143.1,362.7 L147.3,365.4 L152.4,369.5 L159.6,368.5 L165.7,371.6 L171.9,371.2 L177,372.8 L182.2,373.6 L192.5,373.6 L202.7,373.6 L213,372.2 L223.3,370.5 L233.6,371.6 L247.5,372.6" fill="none" stroke="#b8b8b8" stroke-width="2.4" stroke-linejoin="round"/>
<path d="M18.5,373.4 L25,373.6 L32,373.3 L40,373.6 L48,373.2 L55,372.8 L61,371.2 L64.1,368.8 L68.3,364.7 L70.3,360.6 L71.4,356.4 L72.8,351.3 L74.5,342 L76.1,331.2 L77.6,323.4 L79,316.2 L80.7,313.1 L82.3,316.2 L84.4,326.5 L85.8,343 L87.3,366.8 L88.9,344 L90.6,320.3 L92.6,306.9 L95.1,315.1 L97.2,327.5 L98.8,339.9 L100.3,352.3 L102.4,364.7 L103.4,369.9 L107.2,365.4 L112.3,368.5 L117.5,369.5 L121.6,372.6 L122.6,377.7 L124.7,370.5 L128.8,366.8 L133.9,368.1 L139,364.4 L143.1,362.7 L147.3,365.4 L152.4,369.5 L159.6,368.5 L165.7,371.6 L171.9,371.2 L177,372.8 L182.2,373.6 L192.5,373.6 L202.7,373.6 L213,372.2 L223.3,370.5 L233.6,371.6 L247.5,372.6" fill="none" stroke="#333" stroke-width="0.9" stroke-linejoin="round"/>
<g fill="#eceef0" stroke="#808080" stroke-width="0.55"><circle cx="18.5" cy="373.4" r="1.5"/><circle cx="21.75" cy="373.5" r="1.5"/><circle cx="25" cy="373.6" r="1.5"/><circle cx="28.5" cy="373.45" r="1.5"/><circle cx="32" cy="373.3" r="1.5"/><circle cx="34.67" cy="373.4" r="1.5"/><circle cx="37.33" cy="373.5" r="1.5"/><circle cx="40" cy="373.6" r="1.5"/><circle cx="42.67" cy="373.47" r="1.5"/><circle cx="45.33" cy="373.33" r="1.5"/><circle cx="48" cy="373.2" r="1.5"/><circle cx="51.5" cy="373" r="1.5"/><circle cx="55" cy="372.8" r="1.5"/><circle cx="58" cy="372" r="1.5"/><circle cx="61" cy="371.2" r="1.5"/><circle cx="64.1" cy="368.8" r="1.5"/><circle cx="68.3" cy="364.7" r="1.5"/><circle cx="70.3" cy="360.6" r="1.5"/><circle cx="71.4" cy="356.4" r="1.5"/><circle cx="72.8" cy="351.3" r="1.5"/><circle cx="74.5" cy="342" r="1.5"/><circle cx="76.1" cy="331.2" r="1.5"/><circle cx="77.6" cy="323.4" r="1.5"/><circle cx="79" cy="316.2" r="1.5"/><circle cx="80.7" cy="313.1" r="1.5"/><circle cx="82.3" cy="316.2" r="1.5"/><circle cx="84.4" cy="326.5" r="1.5"/><circle cx="85.8" cy="343" r="1.5"/><circle cx="87.3" cy="366.8" r="1.5"/><circle cx="88.9" cy="344" r="1.5"/><circle cx="90.6" cy="320.3" r="1.5"/><circle cx="92.6" cy="306.9" r="1.5"/><circle cx="95.1" cy="315.1" r="1.5"/><circle cx="97.2" cy="327.5" r="1.5"/><circle cx="98.8" cy="339.9" r="1.5"/><circle cx="100.3" cy="352.3" r="1.5"/><circle cx="102.4" cy="364.7" r="1.5"/><circle cx="103.4" cy="369.9" r="1.5"/><circle cx="107.2" cy="365.4" r="1.5"/><circle cx="112.3" cy="368.5" r="1.5"/><circle cx="114.9" cy="369" r="1.5"/><circle cx="117.5" cy="369.5" r="1.5"/><circle cx="121.6" cy="372.6" r="1.5"/><circle cx="122.6" cy="377.7" r="1.5"/><circle cx="124.7" cy="370.5" r="1.5"/><circle cx="128.8" cy="366.8" r="1.5"/><circle cx="133.9" cy="368.1" r="1.5"/><circle cx="139" cy="364.4" r="1.5"/><circle cx="143.1" cy="362.7" r="1.5"/><circle cx="147.3" cy="365.4" r="1.5"/><circle cx="152.4" cy="369.5" r="1.5"/><circle cx="156" cy="369" r="1.5"/><circle cx="159.6" cy="368.5" r="1.5"/><circle cx="162.65" cy="370.05" r="1.5"/><circle cx="165.7" cy="371.6" r="1.5"/><circle cx="168.8" cy="371.4" r="1.5"/><circle cx="171.9" cy="371.2" r="1.5"/><circle cx="177" cy="372.8" r="1.5"/><circle cx="182.2" cy="373.6" r="1.5"/><circle cx="185.63" cy="373.6" r="1.5"/><circle cx="189.07" cy="373.6" r="1.5"/><circle cx="192.5" cy="373.6" r="1.5"/><circle cx="195.9" cy="373.6" r="1.5"/><circle cx="199.3" cy="373.6" r="1.5"/><circle cx="202.7" cy="373.6" r="1.5"/><circle cx="206.13" cy="373.13" r="1.5"/><circle cx="209.57" cy="372.67" r="1.5"/><circle cx="213" cy="372.2" r="1.5"/><circle cx="216.43" cy="371.63" r="1.5"/><circle cx="219.87" cy="371.07" r="1.5"/><circle cx="223.3" cy="370.5" r="1.5"/><circle cx="226.73" cy="370.87" r="1.5"/><circle cx="230.17" cy="371.23" r="1.5"/><circle cx="233.6" cy="371.6" r="1.5"/><circle cx="236.38" cy="371.8" r="1.5"/><circle cx="239.16" cy="372" r="1.5"/><circle cx="241.94" cy="372.2" r="1.5"/><circle cx="244.72" cy="372.4" r="1.5"/><circle cx="247.5" cy="372.6" r="1.5"/></g>
<rect x="19.5" y="286.4" width="229.1" height="176.8" fill="none" stroke="#555" stroke-width="1.3"/>
<path d="M21.6,463.2v-5 M28.02,463.2v-2.2 M34.44,463.2v-2.2 M40.86,463.2v-2.2 M47.28,463.2v-2.2 M53.7,463.2v-5 M60.12,463.2v-2.2 M66.54,463.2v-2.2 M72.96,463.2v-2.2 M79.38,463.2v-2.2 M85.8,463.2v-5 M92.22,463.2v-2.2 M98.64,463.2v-2.2 M105.06,463.2v-2.2 M111.48,463.2v-2.2 M117.9,463.2v-5 M124.32,463.2v-2.2 M130.74,463.2v-2.2 M137.16,463.2v-2.2 M143.58,463.2v-2.2 M150,463.2v-5 M156.42,463.2v-2.2 M162.84,463.2v-2.2 M169.26,463.2v-2.2 M175.68,463.2v-2.2 M182.1,463.2v-5 M188.52,463.2v-2.2 M194.94,463.2v-2.2 M201.36,463.2v-2.2 M207.78,463.2v-2.2 M214.2,463.2v-5 M220.62,463.2v-2.2 M227.04,463.2v-2.2 M233.46,463.2v-2.2 M239.88,463.2v-2.2 M246.3,463.2v-5 M19.5,460.9h2.2 M19.5,453.7h2.2 M19.5,446.5h5 M19.5,439.3h2.2 M19.5,432.1h2.2 M19.5,424.9h2.2 M19.5,417.7h2.2 M19.5,410.5h5 M19.5,403.3h2.2 M19.5,396.1h2.2 M19.5,388.9h2.2 M19.5,381.7h2.2 M19.5,374.5h5 M19.5,367.3h2.2 M19.5,360.1h2.2 M19.5,352.9h2.2 M19.5,345.7h2.2 M19.5,338.5h5 M19.5,331.3h2.2 M19.5,324.1h2.2 M19.5,316.9h2.2 M19.5,309.7h2.2 M19.5,302.5h5 M19.5,295.3h2.2 M19.5,288.1h2.2 M248.6,460.73h-2.2 M248.6,447.05h-5 M248.6,433.38h-2.2 M248.6,419.7h-5 M248.6,406.02h-2.2 M248.6,392.35h-5 M248.6,378.67h-2.2 M248.6,365h-5 M248.6,351.32h-2.2 M248.6,337.65h-5 M248.6,323.97h-2.2 M248.6,310.3h-5 M248.6,296.62h-2.2" stroke="#555" stroke-width="0.9" fill="none"/>
<text x="20.4" y="472.8" font-size="7.6" fill="#333" text-anchor="middle"  style="font-family:'Liberation Sans', Arial, Helvetica, sans-serif">-1</text>
<text x="53.7" y="472.8" font-size="7.6" fill="#333" text-anchor="middle"  style="font-family:'Liberation Sans', Arial, Helvetica, sans-serif">0</text>
<text x="85.8" y="472.8" font-size="7.6" fill="#333" text-anchor="middle"  style="font-family:'Liberation Sans', Arial, Helvetica, sans-serif">1</text>
<text x="117.9" y="472.8" font-size="7.6" fill="#333" text-anchor="middle"  style="font-family:'Liberation Sans', Arial, Helvetica, sans-serif">2</text>
<text x="150" y="472.8" font-size="7.6" fill="#333" text-anchor="middle"  style="font-family:'Liberation Sans', Arial, Helvetica, sans-serif">3</text>
<text x="182.1" y="472.8" font-size="7.6" fill="#333" text-anchor="middle"  style="font-family:'Liberation Sans', Arial, Helvetica, sans-serif">4</text>
<text x="214.2" y="472.8" font-size="7.6" fill="#333" text-anchor="middle"  style="font-family:'Liberation Sans', Arial, Helvetica, sans-serif">5</text>
<text x="246.3" y="472.8" font-size="7.6" fill="#333" text-anchor="middle"  style="font-family:'Liberation Sans', Arial, Helvetica, sans-serif">6</text>
<text x="16" y="305.2" font-size="7.6" fill="#333" text-anchor="end"  style="font-family:'Liberation Sans', Arial, Helvetica, sans-serif">10</text>
<text x="16" y="341.2" font-size="7.6" fill="#333" text-anchor="end"  style="font-family:'Liberation Sans', Arial, Helvetica, sans-serif">5</text>
<text x="16" y="377.2" font-size="7.6" fill="#333" text-anchor="end"  style="font-family:'Liberation Sans', Arial, Helvetica, sans-serif">0</text>
<text x="16" y="413.2" font-size="7.6" fill="#333" text-anchor="end"  style="font-family:'Liberation Sans', Arial, Helvetica, sans-serif">-5</text>
<text x="16" y="449.2" font-size="7.6" fill="#333" text-anchor="end"  style="font-family:'Liberation Sans', Arial, Helvetica, sans-serif">-10</text>
<text x="253.6" y="313" font-size="7.6" fill="#333"  style="font-family:'Liberation Sans', Arial, Helvetica, sans-serif">4</text>
<text x="253.6" y="340.35" font-size="7.6" fill="#333"  style="font-family:'Liberation Sans', Arial, Helvetica, sans-serif">3</text>
<text x="253.6" y="367.7" font-size="7.6" fill="#333"  style="font-family:'Liberation Sans', Arial, Helvetica, sans-serif">2</text>
<text x="253.6" y="395.05" font-size="7.6" fill="#333"  style="font-family:'Liberation Sans', Arial, Helvetica, sans-serif">1</text>
<text x="253.6" y="422.4" font-size="7.6" fill="#333"  style="font-family:'Liberation Sans', Arial, Helvetica, sans-serif">0</text>
<text x="253.6" y="449.75" font-size="7.6" fill="#333"  style="font-family:'Liberation Sans', Arial, Helvetica, sans-serif">-1</text>
<text x="134.3" y="481.4" font-size="7.2" fill="#333" text-anchor="middle"  style="font-family:'Liberation Sans', Arial, Helvetica, sans-serif">Time delay (ps)</text>
<g transform="translate(6.6,374.2) rotate(-90)"><text x="0" y="0" font-size="7.5" fill="#333" text-anchor="middle"  style="font-family:'Liberation Sans', Arial, Helvetica, sans-serif">ITFISH amp. (a.u.)</text></g>
<g transform="translate(267.0,374.5) rotate(-90)"><text x="0" y="0" font-size="7.5" fill="#333" text-anchor="middle"  style="font-family:'Liberation Sans', Arial, Helvetica, sans-serif">ITFISH phase (π/2)</text></g>
<path d="M141.4,298.4h15.9" stroke="#333" stroke-width="1"/>
<circle cx="149.3" cy="298.4" r="2.6" fill="#fff" stroke="#555" stroke-width="0.8"/>
<path d="M141.4,309.8h15.9" stroke="#5cb84c" stroke-width="1"/>
<path d="M149.3,307.3 l2.6,4.2 h-5.2z" fill="#fff" stroke="#5cb84c" stroke-width="0.8"/>
<text x="160.5" y="301.6" font-size="8.2" fill="#222"  style="font-family:'Liberation Sans', Arial, Helvetica, sans-serif">Amplitude</text>
<text x="160.5" y="313" font-size="8.2" fill="#222"  style="font-family:'Liberation Sans', Arial, Helvetica, sans-serif">Phase</text>
<rect x="152.2" y="324.7" width="33.3" height="33.3" fill="#d6d6d6" stroke="#3a3a3a" stroke-width="1.2"/>
<circle cx="158.9" cy="334.3" r="3.3" fill="#e2e2e2" stroke="#555" stroke-width="0.6"/>
<circle cx="158.9" cy="334.3" r="2.1" fill="none" stroke="#333" stroke-width="0.5"/>
<circle cx="158.9" cy="334.3" r="0.95" fill="#111"/>
<circle cx="158.9" cy="349.4" r="3.3" fill="#e2e2e2" stroke="#555" stroke-width="0.6"/>
<circle cx="158.9" cy="349.4" r="2.1" fill="none" stroke="#333" stroke-width="0.5"/>
<circle cx="158.9" cy="349.4" r="0.95" fill="#111"/>
<circle cx="169.1" cy="334.3" r="3.3" fill="#e2e2e2" stroke="#555" stroke-width="0.6"/>
<circle cx="169.1" cy="334.3" r="2.1" fill="none" stroke="#333" stroke-width="0.5"/>
<circle cx="169.1" cy="334.3" r="0.95" fill="#111"/>
<circle cx="169.1" cy="349.4" r="3.3" fill="#e2e2e2" stroke="#555" stroke-width="0.6"/>
<circle cx="169.1" cy="349.4" r="2.1" fill="none" stroke="#333" stroke-width="0.5"/>
<circle cx="169.1" cy="349.4" r="0.95" fill="#111"/>
<circle cx="179.4" cy="334.3" r="3.3" fill="#e2e2e2" stroke="#555" stroke-width="0.6"/>
<circle cx="179.4" cy="334.3" r="2.1" fill="none" stroke="#333" stroke-width="0.5"/>
<circle cx="179.4" cy="334.3" r="0.95" fill="#111"/>
<circle cx="179.4" cy="349.4" r="3.3" fill="#e2e2e2" stroke="#555" stroke-width="0.6"/>
<circle cx="179.4" cy="349.4" r="2.1" fill="none" stroke="#333" stroke-width="0.5"/>
<circle cx="179.4" cy="349.4" r="0.95" fill="#111"/>
<rect x="49.3" y="381.4" width="32.3" height="33.9" fill="#d4d4d4" stroke="#3a3a3a" stroke-width="1.2"/>
<ellipse cx="55" cy="391.2" rx="3.6" ry="6.0" fill="#eaa878" stroke="#6a4a34" stroke-width="0.7"/>
<path d="M55,389.2v6.5" stroke="#111" stroke-width="1.1"/>
<path d="M55,387.2l1.7,2.8h-3.4z" fill="#111"/>
<ellipse cx="55" cy="406.6" rx="3.6" ry="6.0" fill="#eaa878" stroke="#6a4a34" stroke-width="0.7"/>
<path d="M55,404.6v6.5" stroke="#111" stroke-width="1.1"/>
<path d="M55,402.6l1.7,2.8h-3.4z" fill="#111"/>
<ellipse cx="65.3" cy="391.2" rx="3.6" ry="6.0" fill="#eaa878" stroke="#6a4a34" stroke-width="0.7"/>
<path d="M65.3,389.2v6.5" stroke="#111" stroke-width="1.1"/>
<path d="M65.3,387.2l1.7,2.8h-3.4z" fill="#111"/>
<ellipse cx="65.3" cy="406.6" rx="3.6" ry="6.0" fill="#eaa878" stroke="#6a4a34" stroke-width="0.7"/>
<path d="M65.3,404.6v6.5" stroke="#111" stroke-width="1.1"/>
<path d="M65.3,402.6l1.7,2.8h-3.4z" fill="#111"/>
<ellipse cx="75.6" cy="391.2" rx="3.6" ry="6.0" fill="#eaa878" stroke="#6a4a34" stroke-width="0.7"/>
<path d="M75.6,389.2v6.5" stroke="#111" stroke-width="1.1"/>
<path d="M75.6,387.2l1.7,2.8h-3.4z" fill="#111"/>
<ellipse cx="75.6" cy="406.6" rx="3.6" ry="6.0" fill="#eaa878" stroke="#6a4a34" stroke-width="0.7"/>
<path d="M75.6,404.6v6.5" stroke="#111" stroke-width="1.1"/>
<path d="M75.6,402.6l1.7,2.8h-3.4z" fill="#111"/>
<path d="M29.8,362.2 l5.2,-4 v2.3 h10.2 v3.4 h-10.2 v2.3 z" fill="#111"/>
<path d="M241.0,438.8 l-5.2,-4 v2.3 h-10.2 v3.4 h10.2 v2.3 z" fill="#119a1e"/>
<text x="-0.4" y="257.8" font-size="11" fill="#111" font-weight="bold"  style="font-family:'Liberation Sans', Arial, Helvetica, sans-serif">e</text>
<text x="283" y="256.8" font-size="11" fill="#111" font-weight="bold"  style="font-family:'Liberation Sans', Arial, Helvetica, sans-serif">f</text>
<path d="M328.7,278.4 l1.2,2.4 2.6,-0.8 -1.4,2.1 1.4,2.1 -2.6,-0.8 -1.2,2.4 -1.2,-2.4 -2.6,0.8 1.4,-2.1 -1.4,-2.1 2.6,0.8z" fill="#111"/>
<text x="337.8" y="286.2" font-size="8.6" fill="#222" font-weight="bold" font-style="italic"  style="font-family:'Liberation Sans', Arial, Helvetica, sans-serif">0.2 THz mode</text>
<path d="M435.9,279.6 l3.4,3.5 -3.4,3.5 -3.4,-3.5z" fill="#111"/>
<text x="444.6" y="286.2" font-size="8.6" fill="#222" font-weight="bold" font-style="italic"  style="font-family:'Liberation Sans', Arial, Helvetica, sans-serif">2.1 THz mode</text>
<text x="302.8" y="313.6" font-size="9" fill="#3a3a3a" text-anchor="middle" font-weight="bold"  style="font-family:'Liberation Serif', 'Times New Roman', serif">&#964; &lt; 0</text>
<text x="297.8" y="355" font-size="9" fill="#3a3a3a" text-anchor="middle" font-weight="bold" font-style="italic"  style="font-family:'Liberation Serif', 'Times New Roman', serif">&#964; =</text>
<text x="309.4" y="349.8" font-size="7.5" fill="#3a3a3a" text-anchor="middle" font-weight="bold"  style="font-family:'Liberation Serif', 'Times New Roman', serif">&#964;</text>
<path d="M306.6,352.0h5.6" stroke="#3a3a3a" stroke-width="0.7"/>
<text x="309.4" y="359.4" font-size="7.5" fill="#3a3a3a" text-anchor="middle" font-weight="bold"  style="font-family:'Liberation Serif', 'Times New Roman', serif">4</text>
<text x="297.8" y="397" font-size="9" fill="#3a3a3a" text-anchor="middle" font-weight="bold" font-style="italic"  style="font-family:'Liberation Serif', 'Times New Roman', serif">&#964; =</text>
<text x="309.6" y="391.6" font-size="7.5" fill="#3a3a3a" text-anchor="middle" font-weight="bold"  style="font-family:'Liberation Serif', 'Times New Roman', serif">3&#964;</text>
<path d="M305.4,394.0h8.4" stroke="#3a3a3a" stroke-width="0.7"/>
<text x="309.6" y="401.4" font-size="7.5" fill="#3a3a3a" text-anchor="middle" font-weight="bold"  style="font-family:'Liberation Serif', 'Times New Roman', serif">4</text>
<path d="M406.9,320 V304.5 M406.9,320 H421.5" stroke="#222" stroke-width="1.1" fill="none"/>
<path d="M406.9,301.6 l-1.9,3.8 h3.8z M424.5,320 l-3.8,-1.9 v3.8z" fill="#222"/>
<text x="406.9" y="299" font-size="6.3" fill="#333" text-anchor="middle"  style="font-family:'Liberation Sans', Arial, Helvetica, sans-serif">[001]</text>
<text x="423.5" y="329.4" font-size="6.3" fill="#333" text-anchor="middle"  style="font-family:'Liberation Sans', Arial, Helvetica, sans-serif">[100]</text>
<text x="505" y="294.5" font-size="6.5" fill="#b0185a" text-anchor="middle" font-style="italic"  style="font-family:'Liberation Sans', Arial, Helvetica, sans-serif">P</text>
<path d="M501.5,298.6H513" stroke="#b0185a" stroke-width="1.4"/><path d="M515.5,298.6 l-4.2,-2.6 v5.2 z" fill="#b0185a"/>
<text x="506.5" y="310.5" font-size="6.5" fill="#8a3cc8" text-anchor="middle" font-style="italic"  style="font-family:'Liberation Sans', Arial, Helvetica, sans-serif">&#916;u</text>
<path d="M501.5,314.2H513" stroke="#8a3cc8" stroke-width="1.4"/><path d="M515.5,314.2 l-4.2,-2.6 v5.2 z" fill="#8a3cc8"/>
<rect x="346.7" y="296.5" width="29.8" height="28.4" fill="none" stroke="#3a3a3a" stroke-width="1" stroke-dasharray="2.4,1.6"/><path d="M346.7,302.3v17M376.5,302.3v17" stroke="#3a3a3a" stroke-width="0.9" stroke-dasharray="2,1.5"/><path d="M357.9,298.5 h7.4 v15.9 h3.6 l-7.3,7.5 l-7.3,-7.5 h3.6 z" fill="#d47ea3"/><path d="M351,305.7 A4.75,5.2 0 0 0 341.5,305.7 V313.8 A4.75,5.2 0 0 0 351,313.8" fill="none" stroke="#b0185a" stroke-width="1.8"/><path d="M351,307.9 l-2.3,-2.6 h4.6 z" fill="#b0185a"/><path d="M372.2,305.7 A4.75,5.2 0 0 1 381.7,305.7 V313.8 A4.75,5.2 0 0 1 372.2,313.8" fill="none" stroke="#b0185a" stroke-width="1.8"/><path d="M372.2,307.9 l-2.3,-2.6 h4.6 z" fill="#b0185a"/>
<rect x="346.7" y="336.9" width="29.8" height="28.4" fill="none" stroke="#3a3a3a" stroke-width="1" stroke-dasharray="2.4,1.6"/><path d="M346.7,342.7v17M376.5,342.7v17" stroke="#3a3a3a" stroke-width="0.9" stroke-dasharray="2,1.5"/><path d="M357.9,338.9 h7.4 v15.9 h3.6 l-7.3,7.5 l-7.3,-7.5 h3.6 z" fill="#d47ea3"/><path d="M351,346.1 A4.75,5.2 0 0 0 341.5,346.1 V354.2 A4.75,5.2 0 0 0 351,354.2" fill="none" stroke="#b0185a" stroke-width="1.8"/><path d="M351,348.3 l-2.3,-2.6 h4.6 z" fill="#b0185a"/><path d="M372.2,346.1 A4.75,5.2 0 0 1 381.7,346.1 V354.2 A4.75,5.2 0 0 1 372.2,354.2" fill="none" stroke="#b0185a" stroke-width="1.8"/><path d="M372.2,348.3 l-2.3,-2.6 h4.6 z" fill="#b0185a"/>
<path d="M323.84,348.02 A9,9 0 1 1 325.41,356.89" fill="none" stroke="#8a3cc8" stroke-width="1.8"/><circle cx="323.84" cy="348.02" r="1.7" fill="#8a3cc8"/><path d="M329.6,351.1h5.4" stroke="#8a3cc8" stroke-width="1.2" opacity="0.7"/>
<path d="M369.39,346.6 A9,9 0 1 0 369.39,355.6" fill="none" stroke="#8a3cc8" stroke-width="1.8"/><circle cx="369.39" cy="346.6" r="1.7" fill="#8a3cc8"/><path d="M358.9,351.1h5.4M361.6,348.4v5.4" stroke="#8a3cc8" stroke-width="1.2" opacity="0.8"/>
<path d="M399.66,354.18 A9,9 0 1 0 392.76,359.96" fill="none" stroke="#8a3cc8" stroke-width="1.8"/><circle cx="399.66" cy="354.18" r="1.7" fill="#8a3cc8"/><path d="M388.5,351.1h5.4" stroke="#8a3cc8" stroke-width="1.2" opacity="0.7"/>
<rect x="346.7" y="380.5" width="29.8" height="28.4" fill="none" stroke="#3a3a3a" stroke-width="1" stroke-dasharray="2.4,1.6"/><path d="M346.7,386.3v17M376.5,386.3v17" stroke="#3a3a3a" stroke-width="0.9" stroke-dasharray="2,1.5"/><path d="M357.9,382.5 h7.4 v15.9 h3.6 l-7.3,7.5 l-7.3,-7.5 h3.6 z" fill="#d47ea3"/><path d="M351,389.7 A4.75,5.2 0 0 0 341.5,389.7 V397.8 A4.75,5.2 0 0 0 351,397.8" fill="none" stroke="#b0185a" stroke-width="1.8"/><path d="M351,391.9 l-2.3,-2.6 h4.6 z" fill="#b0185a"/><path d="M372.2,389.7 A4.75,5.2 0 0 1 381.7,389.7 V397.8 A4.75,5.2 0 0 1 372.2,397.8" fill="none" stroke="#b0185a" stroke-width="1.8"/><path d="M372.2,391.9 l-2.3,-2.6 h4.6 z" fill="#b0185a"/>
<path d="M323.84,391.72 A9,9 0 1 1 325.41,400.59" fill="none" stroke="#8a3cc8" stroke-width="1.8"/><circle cx="323.84" cy="391.72" r="1.7" fill="#8a3cc8"/><path d="M329.6,394.8h5.4M332.3,392.1v5.4" stroke="#8a3cc8" stroke-width="1.2" opacity="0.8"/>
<path d="M369.39,390.3 A9,9 0 1 0 369.39,399.3" fill="none" stroke="#8a3cc8" stroke-width="1.8"/><circle cx="369.39" cy="390.3" r="1.7" fill="#8a3cc8"/><path d="M358.9,394.8h5.4" stroke="#8a3cc8" stroke-width="1.2" opacity="0.7"/>
<path d="M399.66,397.88 A9,9 0 1 0 392.76,403.66" fill="none" stroke="#8a3cc8" stroke-width="1.8"/><circle cx="399.66" cy="397.88" r="1.7" fill="#8a3cc8"/><path d="M388.5,394.8h5.4M391.2,392.1v5.4" stroke="#8a3cc8" stroke-width="1.2" opacity="0.8"/>
<rect x="452.1" y="296.5" width="29.8" height="28.4" fill="none" stroke="#3a3a3a" stroke-width="1" stroke-dasharray="2.4,1.6"/><path d="M452.1,302.3v17M481.9,302.3v17" stroke="#3a3a3a" stroke-width="0.9" stroke-dasharray="2,1.5"/><path d="M463.3,298.5 h7.4 v15.9 h3.6 l-7.3,7.5 l-7.3,-7.5 h3.6 z" fill="#d47ea3"/><path d="M456.4,305.7 A4.75,5.2 0 0 0 446.9,305.7 V313.8 A4.75,5.2 0 0 0 456.4,313.8" fill="none" stroke="#b0185a" stroke-width="1.8"/><path d="M456.4,307.9 l-2.3,-2.6 h4.6 z" fill="#b0185a"/><path d="M477.6,305.7 A4.75,5.2 0 0 1 487.1,305.7 V313.8 A4.75,5.2 0 0 1 477.6,313.8" fill="none" stroke="#b0185a" stroke-width="1.8"/><path d="M477.6,307.9 l-2.3,-2.6 h4.6 z" fill="#b0185a"/>
<rect x="452.1" y="336.9" width="29.8" height="28.4" fill="none" stroke="#3a3a3a" stroke-width="1" stroke-dasharray="2.4,1.6"/><path d="M452.1,342.7v17M481.9,342.7v17" stroke="#3a3a3a" stroke-width="0.9" stroke-dasharray="2,1.5"/><path d="M463.3,338.9 h7.4 v15.9 h3.6 l-7.3,7.5 l-7.3,-7.5 h3.6 z" fill="#d47ea3"/><path d="M456.4,346.1 A4.75,5.2 0 0 0 446.9,346.1 V354.2 A4.75,5.2 0 0 0 456.4,354.2" fill="none" stroke="#b0185a" stroke-width="1.8"/><path d="M456.4,348.3 l-2.3,-2.6 h4.6 z" fill="#b0185a"/><path d="M477.6,346.1 A4.75,5.2 0 0 1 487.1,346.1 V354.2 A4.75,5.2 0 0 1 477.6,354.2" fill="none" stroke="#b0185a" stroke-width="1.8"/><path d="M477.6,348.3 l-2.3,-2.6 h4.6 z" fill="#b0185a"/>
<path d="M443.3,351.1H433.5" stroke="#8a3cc8" stroke-width="1.5"/><path d="M431,351.1 l4.2,-2.6 v5.2 z" fill="#8a3cc8"/>
<path d="M475.5,351.1H464.5" stroke="#8a3cc8" stroke-width="1.5"/><path d="M462,351.1 l4.2,-2.6 v5.2 z" fill="#8a3cc8"/>
<path d="M502.9,351.1H493" stroke="#8a3cc8" stroke-width="1.5"/><path d="M490.5,351.1 l4.2,-2.6 v5.2 z" fill="#8a3cc8"/>
<rect x="452.1" y="380.5" width="29.8" height="28.4" fill="none" stroke="#3a3a3a" stroke-width="1" stroke-dasharray="2.4,1.6"/><path d="M452.1,386.3v17M481.9,386.3v17" stroke="#3a3a3a" stroke-width="0.9" stroke-dasharray="2,1.5"/><path d="M463.3,382.5 h7.4 v15.9 h3.6 l-7.3,7.5 l-7.3,-7.5 h3.6 z" fill="#d47ea3"/><path d="M456.4,389.7 A4.75,5.2 0 0 0 446.9,389.7 V397.8 A4.75,5.2 0 0 0 456.4,397.8" fill="none" stroke="#b0185a" stroke-width="1.8"/><path d="M456.4,391.9 l-2.3,-2.6 h4.6 z" fill="#b0185a"/><path d="M477.6,389.7 A4.75,5.2 0 0 1 487.1,389.7 V397.8 A4.75,5.2 0 0 1 477.6,397.8" fill="none" stroke="#b0185a" stroke-width="1.8"/><path d="M477.6,391.9 l-2.3,-2.6 h4.6 z" fill="#b0185a"/>
<path d="M430.5,394.8H440.5" stroke="#8a3cc8" stroke-width="1.5"/><path d="M443,394.8 l-4.2,-2.6 v5.2 z" fill="#8a3cc8"/>
<path d="M460,394.8H471" stroke="#8a3cc8" stroke-width="1.5"/><path d="M473.5,394.8 l-4.2,-2.6 v5.2 z" fill="#8a3cc8"/>
<path d="M490,394.8H500" stroke="#8a3cc8" stroke-width="1.5"/><path d="M502.5,394.8 l-4.2,-2.6 v5.2 z" fill="#8a3cc8"/>
<rect x="331.9" y="376.6" width="58.9" height="36.5" fill="none" stroke="#7f90c0" stroke-width="0.9" stroke-dasharray="1,1"/>
<rect x="438.3" y="376.6" width="60" height="36.5" fill="none" stroke="#7f90c0" stroke-width="0.9" stroke-dasharray="1,1"/>
<path d="M331.9,413.1 L315,425.6 M390.8,413.1 L408.5,425.6 M438.3,413.1 L421.5,425.6 M498.3,413.1 L514.6,425.6" fill="none" stroke="#7f90c0" stroke-width="0.9" stroke-dasharray="1,1"/>
<defs><clipPath id="cm1"><rect x="315" y="425.6" width="93.5" height="49.7"/></clipPath><filter id="bl1" x="-50%" y="-50%" width="200%" height="200%"><feGaussianBlur stdDeviation="2.2"/></filter></defs><g clip-path="url(#cm1)"><rect x="315" y="425.6" width="93.5" height="49.7" fill="#ead6ec"/><g filter="url(#bl1)"><ellipse cx="327.56" cy="467.72" rx="7.53" ry="7.48" fill="#f4c4b4"/><ellipse cx="357.03" cy="457.98" rx="6.56" ry="5.14" fill="#d4bcec"/><ellipse cx="393.14" cy="447.11" rx="10.17" ry="6.33" fill="#f4c4b4"/><ellipse cx="389.97" cy="454.98" rx="11.41" ry="5.15" fill="#f4c4b4"/><ellipse cx="317.38" cy="452.51" rx="10.12" ry="9.85" fill="#f6d0c0"/><ellipse cx="382.87" cy="451.82" rx="11.64" ry="7.76" fill="#f6d0c0"/><ellipse cx="347.32" cy="459.24" rx="11.71" ry="9.63" fill="#f6d0c0"/><ellipse cx="353.91" cy="471.14" rx="7.12" ry="9.96" fill="#f4c4b4"/><ellipse cx="395.41" cy="431.61" rx="11.37" ry="9.87" fill="#eab8d4"/><ellipse cx="361.82" cy="473.67" rx="7.82" ry="7.94" fill="#d4bcec"/></g><path d="M315,426.6H408.5M315,429.9H408.5M315,433.2H408.5M315,436.5H408.5M315,439.8H408.5M315,443.1H408.5M315,446.4H408.5M315,449.7H408.5M315,453H408.5M315,456.3H408.5M315,459.6H408.5M315,462.9H408.5M315,466.2H408.5M315,469.5H408.5M315,472.8H408.5M315,476.1H408.5" stroke="#f2a698" stroke-width="0.7" opacity="0.55"/><path d="M316,425.6V475.3M319.3,425.6V475.3M322.6,425.6V475.3M325.9,425.6V475.3M329.2,425.6V475.3M332.5,425.6V475.3M335.8,425.6V475.3M339.1,425.6V475.3M342.4,425.6V475.3M345.7,425.6V475.3M349,425.6V475.3M352.3,425.6V475.3M355.6,425.6V475.3M358.9,425.6V475.3M362.2,425.6V475.3M365.5,425.6V475.3M368.8,425.6V475.3M372.1,425.6V475.3M375.4,425.6V475.3M378.7,425.6V475.3M382,425.6V475.3M385.3,425.6V475.3M388.6,425.6V475.3M391.9,425.6V475.3M395.2,425.6V475.3M398.5,425.6V475.3M401.8,425.6V475.3M405.1,425.6V475.3M408.4,425.6V475.3" stroke="#8c5ccc" stroke-width="0.75" opacity="0.6"/><path d="M396.75,425.6V475.3M393.43,425.6V475.3M362.23,425.6V475.3M369.89,425.6V475.3M319.16,425.6V475.3M338.21,425.6V475.3M388.96,425.6V475.3M353.91,425.6V475.3M331.83,425.6V475.3M366.22,425.6V475.3M380.33,425.6V475.3M377.72,425.6V475.3M350.29,425.6V475.3M356.16,425.6V475.3M362.52,425.6V475.3" stroke="#ffffff" stroke-width="0.6" opacity="0.75"/><g filter="url(#bl1)" opacity="0.95"><ellipse cx="344.4" cy="449.6" rx="7" ry="21" fill="#f0a080" opacity="0.7"/><ellipse cx="344.4" cy="448.6" rx="4.2" ry="19" fill="#c8303a"/><ellipse cx="380" cy="452.6" rx="6" ry="22" fill="#88b0e0" opacity="0.6"/><ellipse cx="380" cy="452.6" rx="3.8" ry="20" fill="#2b58b8"/><ellipse cx="344.4" cy="442.6" rx="2.4" ry="12" fill="#8a0c28"/><ellipse cx="380" cy="456.6" rx="2.2" ry="13" fill="#142c78"/></g></g><rect x="315" y="425.6" width="93.5" height="49.7" fill="none" stroke="#8a9ac8" stroke-width="0.8" stroke-dasharray="1,1"/>
<defs><clipPath id="cm2"><rect x="421.5" y="425.6" width="93.1" height="49.7"/></clipPath><filter id="bl2" x="-50%" y="-50%" width="200%" height="200%"><feGaussianBlur stdDeviation="2.2"/></filter></defs><g clip-path="url(#cm2)"><rect x="421.5" y="425.6" width="93.1" height="49.7" fill="#ead6ec"/><g filter="url(#bl2)"><ellipse cx="510.51" cy="472.71" rx="6.55" ry="6.81" fill="#f4c4b4"/><ellipse cx="437.24" cy="465.81" rx="7.51" ry="6.06" fill="#eab8d4"/><ellipse cx="424.83" cy="459.46" rx="9.83" ry="9.02" fill="#f6d0c0"/><ellipse cx="501.59" cy="450.9" rx="9.27" ry="7.22" fill="#eab8d4"/><ellipse cx="446.47" cy="427.39" rx="8.18" ry="9.66" fill="#f4c4b4"/><ellipse cx="506.01" cy="446.65" rx="9.36" ry="6.18" fill="#d4bcec"/><ellipse cx="423.72" cy="441.76" rx="9.06" ry="6.8" fill="#d4bcec"/><ellipse cx="469.33" cy="453.43" rx="10.78" ry="8.67" fill="#f6d0c0"/><ellipse cx="505.9" cy="463.52" rx="8.17" ry="9.29" fill="#eab8d4"/><ellipse cx="463" cy="473.06" rx="10.29" ry="7.31" fill="#f6d0c0"/></g><path d="M421.5,426.6H514.6M421.5,429.9H514.6M421.5,433.2H514.6M421.5,436.5H514.6M421.5,439.8H514.6M421.5,443.1H514.6M421.5,446.4H514.6M421.5,449.7H514.6M421.5,453H514.6M421.5,456.3H514.6M421.5,459.6H514.6M421.5,462.9H514.6M421.5,466.2H514.6M421.5,469.5H514.6M421.5,472.8H514.6M421.5,476.1H514.6" stroke="#f2a698" stroke-width="0.7" opacity="0.55"/><path d="M422.5,425.6V475.3M425.8,425.6V475.3M429.1,425.6V475.3M432.4,425.6V475.3M435.7,425.6V475.3M439,425.6V475.3M442.3,425.6V475.3M445.6,425.6V475.3M448.9,425.6V475.3M452.2,425.6V475.3M455.5,425.6V475.3M458.8,425.6V475.3M462.1,425.6V475.3M465.4,425.6V475.3M468.7,425.6V475.3M472,425.6V475.3M475.3,425.6V475.3M478.6,425.6V475.3M481.9,425.6V475.3M485.2,425.6V475.3M488.5,425.6V475.3M491.8,425.6V475.3M495.1,425.6V475.3M498.4,425.6V475.3M501.7,425.6V475.3M505,425.6V475.3M508.3,425.6V475.3M511.6,425.6V475.3M514.9,425.6V475.3" stroke="#8c5ccc" stroke-width="0.75" opacity="0.6"/><path d="M470.82,425.6V475.3M467.14,425.6V475.3M506.75,425.6V475.3M468.13,425.6V475.3M498.25,425.6V475.3M454.74,425.6V475.3M502.93,425.6V475.3M504.46,425.6V475.3M464.5,425.6V475.3M474.22,425.6V475.3M506.34,425.6V475.3M488.44,425.6V475.3M466.83,425.6V475.3M442.71,425.6V475.3M452.08,425.6V475.3" stroke="#ffffff" stroke-width="0.6" opacity="0.75"/><g filter="url(#bl2)" opacity="0.95"><ellipse cx="451.6" cy="449.6" rx="7.5" ry="21" fill="#f09070" opacity="0.8"/><ellipse cx="451.6" cy="449.6" rx="4.6" ry="18" fill="#e05a40"/><ellipse cx="451.6" cy="442.6" rx="2.6" ry="11" fill="#c0283c"/><ellipse cx="485.6" cy="447.6" rx="6" ry="19" fill="#90b0e0" opacity="0.6"/><ellipse cx="485.6" cy="447.6" rx="3.8" ry="17" fill="#3068c0"/><ellipse cx="485.6" cy="445.6" rx="2.2" ry="11" fill="#1c48a8"/></g></g><rect x="421.5" y="425.6" width="93.1" height="49.7" fill="none" stroke="#8a9ac8" stroke-width="0.8" stroke-dasharray="1,1"/>
<defs><linearGradient id="cbf" x1="0" x2="0" y1="0" y2="1"><stop offset="0" stop-color="#8a1020"/><stop offset="0.25" stop-color="#d8604a"/><stop offset="0.5" stop-color="#f8f4f0"/><stop offset="0.75" stop-color="#5a8ed0"/><stop offset="1" stop-color="#1a3a8a"/></linearGradient></defs>
<rect x="306" y="428.6" width="4.5" height="43.7" fill="url(#cbf)"/>
<text x="303.2" y="439.4" font-size="6.5" fill="#333" text-anchor="end"  style="font-family:'Liberation Sans', Arial, Helvetica, sans-serif">1</text>
<text x="303.2" y="452.6" font-size="6.5" fill="#333" text-anchor="end"  style="font-family:'Liberation Sans', Arial, Helvetica, sans-serif">0</text>
<text x="303.2" y="465.4" font-size="6.5" fill="#333" text-anchor="end"  style="font-family:'Liberation Sans', Arial, Helvetica, sans-serif">-1</text>
<g transform="translate(294.6,449.8) rotate(-90)"><text x="0" y="0" font-size="7.8" fill="#333" text-anchor="middle"  style="font-family:'Liberation Sans', Arial, Helvetica, sans-serif">&#8711;&#183;<tspan font-weight="bold">P</tspan> (&#215;10<tspan font-size="5.4" dy="-2.8">9</tspan><tspan dy="2.8"> C m</tspan><tspan font-size="5.4" dy="-2.8">-3</tspan><tspan dy="2.8">)</tspan></text></g>
<defs><linearGradient id="gband" x1="0" x2="1" y1="0" y2="0"><stop offset="0" stop-color="#dde5f4" stop-opacity="0"/><stop offset="0.3" stop-color="#d9e2f3"/><stop offset="1" stop-color="#cfd9ef"/></linearGradient></defs>
<rect x="703.5" y="252.3" width="21.8" height="211.5" fill="url(#gband)"/>
<path d="M563.93,311.24 L565.57,311.24 L567.2,311.6 L568.84,312.66 L570.47,313.38 L572.11,314.09 L573.75,314.44 L575.38,314.8 L577.01,314.8 L578.65,314.8 L580.28,314.8 L581.92,314.8 L585.19,314.8 L588.46,314.44 L591.73,314.44 L595,314.09 L598.27,314.09 L601.54,313.73 L604.81,313.73 L608.08,314.09 L611.35,314.44 L614.62,314.8 L617.89,315.51 L620.51,316.58 L623.78,317.65 L627.37,318 L630.97,318 L634.89,318 L639.14,318 L642.41,318 L645.68,319.07 L648.95,321.21 L652.22,323.34 L654.51,324.41 L657.13,323.34 L660.4,321.92 L664.65,320.5 L668.57,320.14 L672.5,319.78 L676.75,319.78 L680.67,319.43 L684.27,319.43 L688.19,319.07 L692.45,318.36 L697.02,317.65 L701.6,316.94 L705.53,318 L709.12,324.41 L711.41,334.38 L713.7,346.84 L715.99,348.98 L719.26,349.69 L722.53,349.69" fill="none" stroke="#a3164f" stroke-width="0.9" stroke-linejoin="round"/><g fill="#fff" stroke="#a3164f" stroke-width="0.6"><circle cx="563.93" cy="311.24" r="1.55"/><circle cx="565.57" cy="311.24" r="1.55"/><circle cx="567.2" cy="311.6" r="1.55"/><circle cx="568.84" cy="312.66" r="1.55"/><circle cx="570.47" cy="313.38" r="1.55"/><circle cx="572.11" cy="314.09" r="1.55"/><circle cx="573.75" cy="314.44" r="1.55"/><circle cx="575.38" cy="314.8" r="1.55"/><circle cx="577.01" cy="314.8" r="1.55"/><circle cx="578.65" cy="314.8" r="1.55"/><circle cx="580.28" cy="314.8" r="1.55"/><circle cx="581.92" cy="314.8" r="1.55"/><circle cx="585.19" cy="314.8" r="1.55"/><circle cx="588.46" cy="314.44" r="1.55"/><circle cx="591.73" cy="314.44" r="1.55"/><circle cx="595" cy="314.09" r="1.55"/><circle cx="598.27" cy="314.09" r="1.55"/><circle cx="601.54" cy="313.73" r="1.55"/><circle cx="604.81" cy="313.73" r="1.55"/><circle cx="608.08" cy="314.09" r="1.55"/><circle cx="611.35" cy="314.44" r="1.55"/><circle cx="614.62" cy="314.8" r="1.55"/><circle cx="617.89" cy="315.51" r="1.55"/><circle cx="620.51" cy="316.58" r="1.55"/><circle cx="623.78" cy="317.65" r="1.55"/><circle cx="627.37" cy="318" r="1.55"/><circle cx="630.97" cy="318" r="1.55"/><circle cx="634.89" cy="318" r="1.55"/><circle cx="639.14" cy="318" r="1.55"/><circle cx="642.41" cy="318" r="1.55"/><circle cx="645.68" cy="319.07" r="1.55"/><circle cx="648.95" cy="321.21" r="1.55"/><circle cx="652.22" cy="323.34" r="1.55"/><circle cx="654.51" cy="324.41" r="1.55"/><circle cx="657.13" cy="323.34" r="1.55"/><circle cx="660.4" cy="321.92" r="1.55"/><circle cx="664.65" cy="320.5" r="1.55"/><circle cx="668.57" cy="320.14" r="1.55"/><circle cx="672.5" cy="319.78" r="1.55"/><circle cx="676.75" cy="319.78" r="1.55"/><circle cx="680.67" cy="319.43" r="1.55"/><circle cx="684.27" cy="319.43" r="1.55"/><circle cx="688.19" cy="319.07" r="1.55"/><circle cx="692.45" cy="318.36" r="1.55"/><circle cx="697.02" cy="317.65" r="1.55"/><circle cx="701.6" cy="316.94" r="1.55"/><circle cx="705.53" cy="318" r="1.55"/><circle cx="709.12" cy="324.41" r="1.55"/><circle cx="711.41" cy="334.38" r="1.55"/><circle cx="713.7" cy="346.84" r="1.55"/><circle cx="715.99" cy="348.98" r="1.55"/><circle cx="719.26" cy="349.69" r="1.55"/><circle cx="722.53" cy="349.69" r="1.55"/></g>
<path d="M563.93,323.7 L565.57,323.34 L567.2,322.99 L568.84,322.63 L570.47,322.63 L572.11,322.63 L573.75,322.28 L575.38,321.92 L577.01,321.92 L578.65,321.56 L580.28,321.56 L581.92,321.21 L585.19,320.85 L588.46,320.5 L591.73,320.14 L595,319.78 L598.27,319.43 L601.54,319.07 L604.81,318.72 L608.08,318.36 L610.04,318 L612.98,317.29 L616.25,315.87 L619.85,312.66 L623.78,310.53 L627.37,309.1 L630.97,307.68 L634.89,306.26 L639.14,305.19 L643.4,304.12 L647.32,303.76 L651.24,304.12 L654.51,305.54 L657.13,302.7 L659.75,296.29 L663.34,294.86 L666.94,293.44 L670.54,292.37 L674.46,291.3 L678.38,291.3 L681.98,290.95 L685.58,289.17 L689.18,287.74 L693.1,286.32 L697.02,285.25 L700.62,284.54 L703.24,284.54 L705.53,285.61 L708.8,289.52 L710.76,311.95 L714.03,339.36 L716.64,348.98 L719.26,349.69 L721.55,349.69 L723.51,349.69" fill="none" stroke="#a3164f" stroke-width="0.9" stroke-linejoin="round"/><g fill="#a3164f"><circle cx="563.93" cy="323.7" r="1.55"/><circle cx="565.57" cy="323.34" r="1.55"/><circle cx="567.2" cy="322.99" r="1.55"/><circle cx="568.84" cy="322.63" r="1.55"/><circle cx="570.47" cy="322.63" r="1.55"/><circle cx="572.11" cy="322.63" r="1.55"/><circle cx="573.75" cy="322.28" r="1.55"/><circle cx="575.38" cy="321.92" r="1.55"/><circle cx="577.01" cy="321.92" r="1.55"/><circle cx="578.65" cy="321.56" r="1.55"/><circle cx="580.28" cy="321.56" r="1.55"/><circle cx="581.92" cy="321.21" r="1.55"/><circle cx="585.19" cy="320.85" r="1.55"/><circle cx="588.46" cy="320.5" r="1.55"/><circle cx="591.73" cy="320.14" r="1.55"/><circle cx="595" cy="319.78" r="1.55"/><circle cx="598.27" cy="319.43" r="1.55"/><circle cx="601.54" cy="319.07" r="1.55"/><circle cx="604.81" cy="318.72" r="1.55"/><circle cx="608.08" cy="318.36" r="1.55"/><circle cx="610.04" cy="318" r="1.55"/><circle cx="612.98" cy="317.29" r="1.55"/><circle cx="616.25" cy="315.87" r="1.55"/><circle cx="619.85" cy="312.66" r="1.55"/><circle cx="623.78" cy="310.53" r="1.55"/><circle cx="627.37" cy="309.1" r="1.55"/><circle cx="630.97" cy="307.68" r="1.55"/><circle cx="634.89" cy="306.26" r="1.55"/><circle cx="639.14" cy="305.19" r="1.55"/><circle cx="643.4" cy="304.12" r="1.55"/><circle cx="647.32" cy="303.76" r="1.55"/><circle cx="651.24" cy="304.12" r="1.55"/><circle cx="654.51" cy="305.54" r="1.55"/><circle cx="657.13" cy="302.7" r="1.55"/><circle cx="659.75" cy="296.29" r="1.55"/><circle cx="663.34" cy="294.86" r="1.55"/><circle cx="666.94" cy="293.44" r="1.55"/><circle cx="670.54" cy="292.37" r="1.55"/><circle cx="674.46" cy="291.3" r="1.55"/><circle cx="678.38" cy="291.3" r="1.55"/><circle cx="681.98" cy="290.95" r="1.55"/><circle cx="685.58" cy="289.17" r="1.55"/><circle cx="689.18" cy="287.74" r="1.55"/><circle cx="693.1" cy="286.32" r="1.55"/><circle cx="697.02" cy="285.25" r="1.55"/><circle cx="700.62" cy="284.54" r="1.55"/><circle cx="703.24" cy="284.54" r="1.55"/><circle cx="705.53" cy="285.61" r="1.55"/><circle cx="708.8" cy="289.52" r="1.55"/><circle cx="710.76" cy="311.95" r="1.55"/><circle cx="714.03" cy="339.36" r="1.55"/><circle cx="716.64" cy="348.98" r="1.55"/><circle cx="719.26" cy="349.69" r="1.55"/><circle cx="721.55" cy="349.69" r="1.55"/><circle cx="723.51" cy="349.69" r="1.55"/></g>
<path d="M565.24,404.1 L572.44,404.1 L582.25,404.1 L592.06,404.1 L601.54,404.1 L611.02,404.1 L620.83,404.1 L630.64,404.1 L640.13,404.1 L649.94,404.1 L659.75,404.1 L675.44,404.1 L691.79,404.1 L707.81,404.1 L724.16,404.1" fill="none" stroke="#5a64cc" stroke-width="1.1" stroke-linejoin="round"/><g fill="#fff" stroke="#5a64cc" stroke-width="0.6"><circle cx="565.24" cy="404.1" r="1.5"/><circle cx="572.44" cy="404.1" r="1.5"/><circle cx="582.25" cy="404.1" r="1.5"/><circle cx="592.06" cy="404.1" r="1.5"/><circle cx="601.54" cy="404.1" r="1.5"/><circle cx="611.02" cy="404.1" r="1.5"/><circle cx="620.83" cy="404.1" r="1.5"/><circle cx="630.64" cy="404.1" r="1.5"/><circle cx="640.13" cy="404.1" r="1.5"/><circle cx="649.94" cy="404.1" r="1.5"/><circle cx="659.75" cy="404.1" r="1.5"/><circle cx="675.44" cy="404.1" r="1.5"/><circle cx="691.79" cy="404.1" r="1.5"/><circle cx="707.81" cy="404.1" r="1.5"/><circle cx="724.16" cy="404.1" r="1.5"/></g>
<path d="M565.24,372.86 L572.44,372.51 L582.25,372.86 L592.06,372.51 L601.54,372.51 L611.02,372.51 L620.83,372.86 L630.64,374.27 L640.13,373.91 L649.94,372.51 L659.75,371.11 L675.44,371.11 L691.79,372.51 L707.81,373.21 L724.16,372.51" fill="none" stroke="#2a35b8" stroke-width="1" stroke-linejoin="round"/><g fill="#2a35b8"><circle cx="565.24" cy="372.86" r="1.6"/><circle cx="572.44" cy="372.51" r="1.6"/><circle cx="582.25" cy="372.86" r="1.6"/><circle cx="592.06" cy="372.51" r="1.6"/><circle cx="601.54" cy="372.51" r="1.6"/><circle cx="611.02" cy="372.51" r="1.6"/><circle cx="620.83" cy="372.86" r="1.6"/><circle cx="630.64" cy="374.27" r="1.6"/><circle cx="640.13" cy="373.91" r="1.6"/><circle cx="649.94" cy="372.51" r="1.6"/><circle cx="659.75" cy="371.11" r="1.6"/><circle cx="675.44" cy="371.11" r="1.6"/><circle cx="691.79" cy="372.51" r="1.6"/><circle cx="707.81" cy="373.21" r="1.6"/><circle cx="724.16" cy="372.51" r="1.6"/></g>
<path d="M563.93,457.48 L565.57,457.12 L567.2,457.12 L568.84,457.48 L572.11,457.48 L575.38,457.48 L578.65,457.48 L581.92,457.48 L585.19,457.48 L588.46,457.12 L591.73,457.12 L627.7,457.48 L650.59,457.48 L725.8,457.12" fill="none" stroke="#3cb04a" stroke-width="1.1" stroke-linejoin="round"/><g fill="#fff" stroke="#3cb04a" stroke-width="0.6"><circle cx="563.93" cy="457.48" r="1.5"/><circle cx="565.57" cy="457.12" r="1.5"/><circle cx="567.2" cy="457.12" r="1.5"/><circle cx="568.84" cy="457.48" r="1.5"/><circle cx="572.11" cy="457.48" r="1.5"/><circle cx="575.38" cy="457.48" r="1.5"/><circle cx="578.65" cy="457.48" r="1.5"/><circle cx="581.92" cy="457.48" r="1.5"/><circle cx="585.19" cy="457.48" r="1.5"/><circle cx="588.46" cy="457.12" r="1.5"/><circle cx="591.73" cy="457.12" r="1.5"/><circle cx="627.7" cy="457.48" r="1.5"/><circle cx="650.59" cy="457.48" r="1.5"/><circle cx="725.8" cy="457.12" r="1.5"/></g>
<path d="M563.93,426.25 L565.57,425.17 L567.2,424.81 L568.84,425.53 L572.11,429.12 L575.38,431.63 L578.65,433.79 L581.92,435.94 L585.19,438.45 L588.46,441.33 L591.73,443.12 L627.7,452.81 L650.59,455.69 L725.8,456.05" fill="none" stroke="#1e9a2a" stroke-width="1" stroke-linejoin="round"/><g fill="#1e9a2a"><circle cx="563.93" cy="426.25" r="1.6"/><circle cx="565.57" cy="425.17" r="1.6"/><circle cx="567.2" cy="424.81" r="1.6"/><circle cx="568.84" cy="425.53" r="1.6"/><circle cx="572.11" cy="429.12" r="1.6"/><circle cx="575.38" cy="431.63" r="1.6"/><circle cx="578.65" cy="433.79" r="1.6"/><circle cx="581.92" cy="435.94" r="1.6"/><circle cx="585.19" cy="438.45" r="1.6"/><circle cx="588.46" cy="441.33" r="1.6"/><circle cx="591.73" cy="443.12" r="1.6"/><circle cx="627.7" cy="452.81" r="1.6"/><circle cx="650.59" cy="455.69" r="1.6"/><circle cx="725.8" cy="456.05" r="1.6"/></g>
<path d="M559.6,252.3H725.3 M559.6,463.8H725.3 M725.3,252.3V463.8 M559.6,252.3V354.2 M559.6,358.2V407.6 M559.6,412.4V463.8" stroke="#555" stroke-width="1.25" fill="none"/>
<path d="M562.3,463.8v-3 M578.65,463.8v-2 M595,463.8v-3 M611.35,463.8v-2 M627.7,463.8v-3 M644.05,463.8v-2 M660.4,463.8v-3 M676.75,463.8v-2 M693.1,463.8v-3 M709.45,463.8v-2 M725.8,463.8v-3 M559.6,350.4h5.2 M559.6,343.28h2.4 M559.6,336.16h2.4 M559.6,329.04h2.4 M559.6,321.92h2.4 M559.6,314.8h5.2 M559.6,307.68h2.4 M559.6,300.56h2.4 M559.6,293.44h2.4 M559.6,286.32h2.4 M559.6,279.2h5.2 M559.6,272.08h2.4 M559.6,264.96h2.4 M559.6,257.84h2.4 M559.6,404.1h5.2 M559.6,397.08h2.4 M559.6,390.06h2.4 M559.6,383.04h2.4 M559.6,376.02h2.4 M559.6,369h5.2 M559.6,361.98h2.4 M559.6,458.2h5.2 M559.6,451.02h2.4 M559.6,443.84h2.4 M559.6,436.66h2.4 M559.6,429.48h2.4 M559.6,422.3h5.2 M559.6,415.12h2.4" stroke="#444" stroke-width="0.9" fill="none"/>
<text x="562.3" y="474" font-size="8.2" fill="#333" text-anchor="middle"  style="font-family:'Liberation Sans', Arial, Helvetica, sans-serif">0</text>
<text x="595" y="474" font-size="8.2" fill="#333" text-anchor="middle"  style="font-family:'Liberation Sans', Arial, Helvetica, sans-serif">100</text>
<text x="627.7" y="474" font-size="8.2" fill="#333" text-anchor="middle"  style="font-family:'Liberation Sans', Arial, Helvetica, sans-serif">200</text>
<text x="660.4" y="474" font-size="8.2" fill="#333" text-anchor="middle"  style="font-family:'Liberation Sans', Arial, Helvetica, sans-serif">300</text>
<text x="693.1" y="474" font-size="8.2" fill="#333" text-anchor="middle"  style="font-family:'Liberation Sans', Arial, Helvetica, sans-serif">400</text>
<text x="725.8" y="474" font-size="8.2" fill="#333" text-anchor="middle"  style="font-family:'Liberation Sans', Arial, Helvetica, sans-serif">500</text>
<text x="556.2" y="282.1" font-size="8" fill="#333" text-anchor="end"  style="font-family:'Liberation Sans', Arial, Helvetica, sans-serif">2</text>
<text x="556.2" y="317.7" font-size="8" fill="#333" text-anchor="end"  style="font-family:'Liberation Sans', Arial, Helvetica, sans-serif">1</text>
<text x="556.2" y="353.3" font-size="8" fill="#333" text-anchor="end"  style="font-family:'Liberation Sans', Arial, Helvetica, sans-serif">0</text>
<text x="556.2" y="371.9" font-size="8" fill="#333" text-anchor="end"  style="font-family:'Liberation Sans', Arial, Helvetica, sans-serif">1</text>
<text x="556.2" y="407" font-size="8" fill="#333" text-anchor="end"  style="font-family:'Liberation Sans', Arial, Helvetica, sans-serif">0</text>
<text x="556.2" y="425.2" font-size="8" fill="#333" text-anchor="end"  style="font-family:'Liberation Sans', Arial, Helvetica, sans-serif">1</text>
<text x="556.2" y="461.1" font-size="8" fill="#333" text-anchor="end"  style="font-family:'Liberation Sans', Arial, Helvetica, sans-serif">0</text>
<text x="642.5" y="483" font-size="7.5" fill="#333" text-anchor="middle"  style="font-family:'Liberation Sans', Arial, Helvetica, sans-serif">Temperature (K)</text>
<g transform="translate(544.8,362.2) rotate(-90)"><text x="0" y="0" font-size="7.5" fill="#333" text-anchor="middle"  style="font-family:'Liberation Sans', Arial, Helvetica, sans-serif">TFISH int. (a.u.)</text></g>
<path d="M571.4,265h12.9" stroke="#333" stroke-width="1"/><circle cx="577.9" cy="265" r="2.3" fill="#111"/>
<path d="M571.4,276h12.9" stroke="#333" stroke-width="1"/><circle cx="577.9" cy="276" r="2.2" fill="#fff" stroke="#333" stroke-width="0.8"/>
<text x="587.5" y="268" font-size="8.6" fill="#222"  style="font-family:'Liberation Sans', Arial, Helvetica, sans-serif"><tspan font-style="italic">p</tspan>-in, <tspan font-style="italic">p</tspan>-out</text>
<text x="587.5" y="279" font-size="8.6" fill="#222"  style="font-family:'Liberation Sans', Arial, Helvetica, sans-serif"><tspan font-style="italic">s</tspan>-in, <tspan font-style="italic">p</tspan>-out</text>
<text x="686.2" y="277" font-size="7.6" fill="#a3164f" text-anchor="middle"  style="font-family:'Liberation Sans', Arial, Helvetica, sans-serif">Skyrmion</text>
<text x="688.6" y="364.2" font-size="7.8" fill="#2a35b8" text-anchor="middle"  style="font-family:'Liberation Sans', Arial, Helvetica, sans-serif">PbTiO<tspan font-size="5.5" dy="2">3</tspan></text>
<text x="688" y="448.9" font-size="7.8" fill="#1e9a2a" text-anchor="middle"  style="font-family:'Liberation Sans', Arial, Helvetica, sans-serif">SrTiO<tspan font-size="5.5" dy="2">3</tspan></text>
<text x="534.6" y="257.6" font-size="11" fill="#111" font-weight="bold"  style="font-family:'Liberation Sans', Arial, Helvetica, sans-serif">g</text>
</svg>
</body></html>
